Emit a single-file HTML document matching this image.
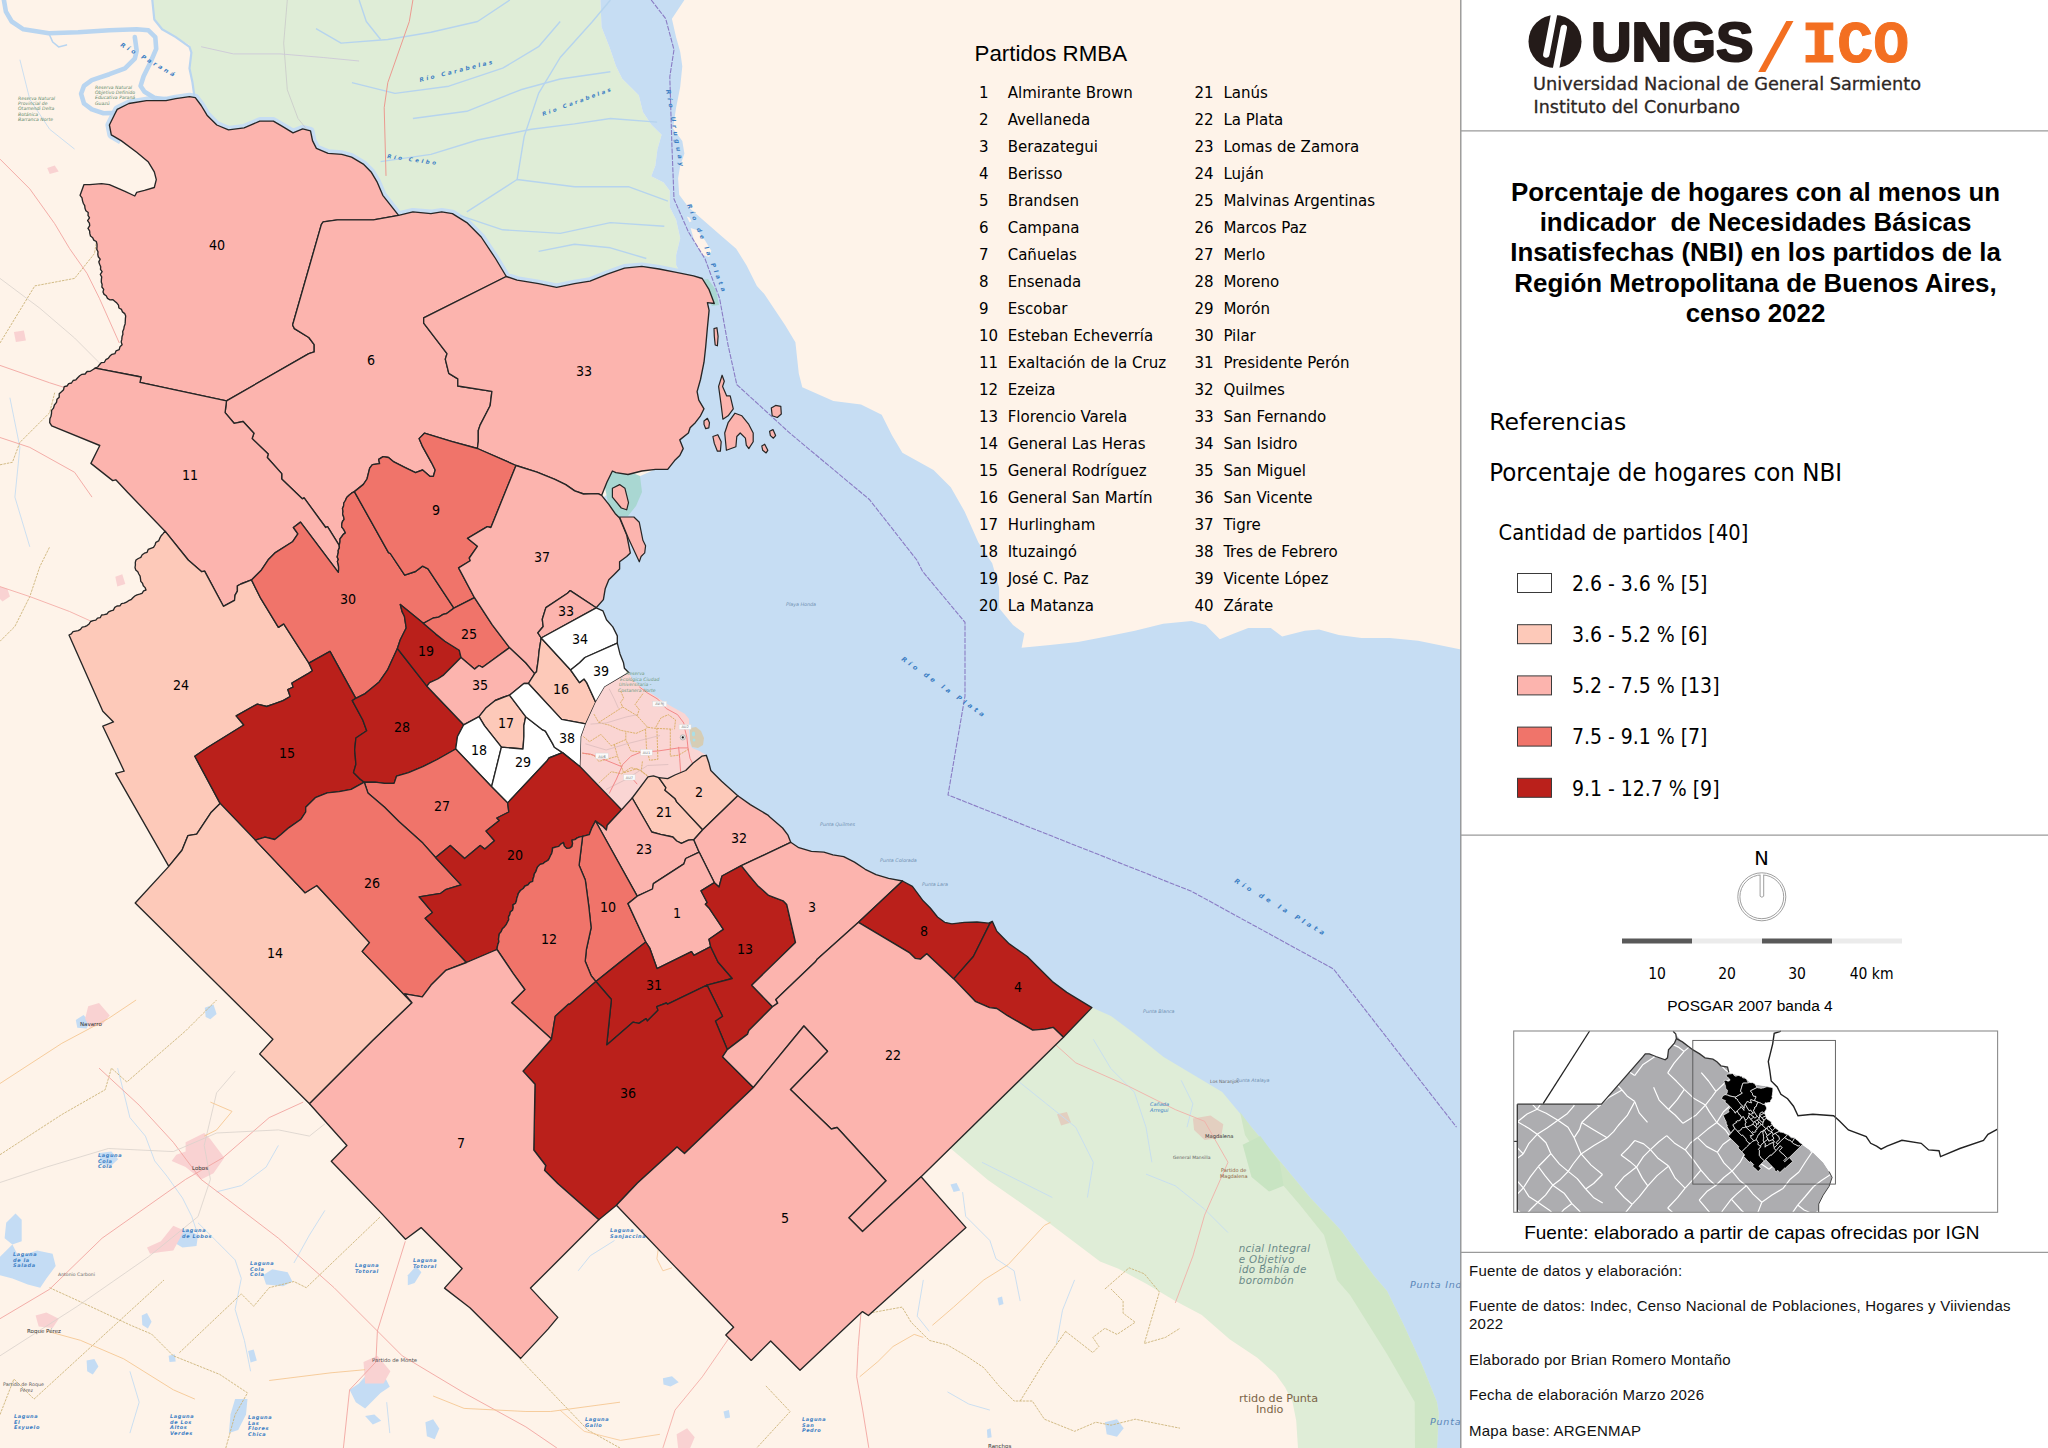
<!DOCTYPE html><html><head><meta charset="utf-8"><title>NBI RMBA 2022</title><style>html,body{margin:0;padding:0;background:#fff;}body{width:2048px;height:1448px;overflow:hidden;position:relative;}svg{position:absolute;left:0;top:0;display:block}.lab{font-family:"DejaVu Sans Condensed","DejaVu Sans",sans-serif;font-stretch:condensed;font-size:14.1px;fill:#000;text-anchor:middle}.lst{font-family:"DejaVu Sans Condensed","DejaVu Sans",sans-serif;font-stretch:condensed;font-size:16.7px;fill:#000}.ar{font-family:"Liberation Sans",Arial,sans-serif}.dv{font-family:"DejaVu Sans Condensed","DejaVu Sans",sans-serif;font-stretch:condensed}.dvn{font-family:"DejaVu Sans",sans-serif;font-stretch:normal}</style></head><body>
<svg width="2048" height="1448" viewBox="0 0 2048 1448">
<defs><clipPath id="mapclip"><rect x="0" y="0" width="1461" height="1448"/></clipPath></defs>
<g clip-path="url(#mapclip)">
<rect x="0" y="0" width="1461" height="1448" fill="#fef3e9"/>
<polygon points="152.3,0.0 600.4,0.0 601.5,26.9 609.7,47.7 616.0,66.3 622.2,78.8 638.8,95.3 642.9,111.9 651.2,124.4 661.6,134.7 657.4,149.2 655.3,165.8 651.2,176.2 663.6,182.4 669.8,190.7 669.8,207.3 676.1,219.7 680.2,238.3 676.1,254.9 676.1,265.3 690.0,290.0 500.0,290.0 398.0,232.0 205.0,118.0 194.3,95.7 192.4,82.0 189.5,68.4 191.4,50.8 189.5,44.9 175.8,37.1 162.1,29.3 154.3,19.5" fill="#dfedd7"/>
<polygon points="600.4,0.0 601.5,26.9 609.7,47.7 616.0,66.3 622.2,78.8 638.8,95.3 642.9,111.9 651.2,124.4 661.6,134.7 657.4,149.2 655.3,165.8 651.2,176.2 663.6,182.4 669.8,190.7 669.8,207.3 676.1,219.7 680.2,238.3 676.1,254.9 676.1,265.3 690.0,290.0 690.0,400.0 665.0,465.0 620.0,485.0 600.0,500.0 612.0,540.0 600.0,600.0 590.0,615.0 610.0,660.0 640.0,700.0 680.0,740.0 700.0,765.0 735.0,800.0 790.0,850.0 900.0,895.0 950.0,935.0 990.0,940.0 1085.0,1012.0 1300.0,1300.0 1420.0,1448.0 1461.0,1448.0 1461.0,649.4 1418.1,640.7 1389.8,637.9 1361.4,637.9 1338.8,635.0 1319.0,629.4 1304.8,630.8 1282.1,636.5 1270.8,628.0 1248.2,628.0 1234.0,633.6 1219.8,639.3 1205.7,625.1 1191.5,620.9 1163.2,623.7 1134.9,630.8 1106.6,636.5 1078.0,642.1 1050.0,645.0 1021.6,647.8 1024.4,633.6 1013.0,625.0 999.0,608.0 999.1,587.5 992.2,563.3 978.4,542.6 964.6,511.5 950.8,487.3 933.5,470.0 902.4,452.8 892.1,435.5 881.7,414.8 861.0,404.4 833.4,401.0 802.3,387.2 798.8,373.4 795.4,342.3 785.0,325.0 764.3,294.0 756.9,286.0 746.5,265.3 736.2,248.7 721.7,236.3 705.1,221.8 688.5,207.3 679.2,194.8 678.1,178.2 680.2,165.8 684.4,153.4 682.3,140.9 673.0,128.5 676.1,107.8 680.2,87.0 682.3,66.3 680.2,51.8 676.1,37.3 671.9,18.7 684.4,0.0" fill="#c6ddf3"/>
<polygon points="690.6,228.0 696.8,230.1 705.1,240.4 711.3,250.8 709.2,257.0 703.0,254.9 694.7,242.5" fill="#fef3e9"/>
<polygon points="686.8,216.6 689.5,217.6 691.6,221.3 689.5,222.2" fill="#fef3e9"/>
<polygon points="1063.4,1037.2 1091.9,1007.6 1110.9,1015.9 1134.3,1033.5 1163.6,1056.9 1192.9,1074.5 1222.2,1092.0 1251.5,1127.2 1280.8,1162.3 1310.0,1197.5 1340.6,1230.0 1374.0,1276.0 1387.0,1291.0 1403.5,1324.4 1422.0,1365.0 1436.9,1402.0 1438.7,1413.2 1437.0,1448.0 1298.0,1448.0 1296.2,1420.6 1292.5,1402.1 1285.1,1387.3 1275.8,1374.3 1257.3,1357.7 1229.6,1339.2 1201.8,1315.1 1174.0,1300.3 1146.3,1283.7 1118.5,1268.8 1100.0,1261.4 1046.4,1220.9 987.9,1179.9 949.8,1147.7" fill="#dfedd7"/>
<polygon points="1240.0,1112.0 1251.5,1127.2 1280.8,1162.3 1310.0,1197.5 1340.6,1230.0 1374.0,1276.0 1387.0,1291.0 1403.5,1324.4 1422.0,1365.0 1436.9,1402.0 1438.7,1413.2 1437.0,1448.0 1415.0,1448.0 1414.7,1402.0 1387.0,1354.0 1350.0,1295.0 1337.0,1280.0 1324.0,1235.0 1300.0,1205.0 1270.0,1170.0 1255.0,1150.0 1245.0,1135.0" fill="#cfe6c6"/>
<polygon points="1192.9,1118.4 1210.5,1115.5 1223.3,1124.3 1221.0,1137.7 1204.6,1140.1 1194.1,1130.1" fill="#e3cfc0"/>
<polygon points="1057.0,1114.3 1066.9,1112.0 1071.0,1122.5 1061.1,1125.4" fill="#e3cfc0"/>
<polygon points="1242.7,1144.8 1260.3,1136.0 1279.6,1162.3 1283.7,1185.8 1269.0,1191.6 1251.5,1177.0" fill="#c8e4c2"/>
<polyline points="1093.3,1039.3 1110.9,1068.6 1134.3,1092.1 1146.0,1127.2 1151.9,1162.3" fill="none" stroke="#c5dcf2" stroke-width="0.9"/>
<polyline points="1017.2,1080.3 1046.4,1103.8 1075.7,1127.2 1093.3,1162.3 1087.4,1197.5" fill="none" stroke="#c5dcf2" stroke-width="0.9"/>
<polyline points="1146.0,1174.1 1175.3,1185.8 1204.6,1209.2 1228.0,1232.6" fill="none" stroke="#c5dcf2" stroke-width="0.9"/>
<polyline points="982.0,1162.3 1017.2,1179.9 1052.3,1197.5" fill="none" stroke="#c5dcf2" stroke-width="0.9"/>
<polyline points="1181.2,1080.3 1192.9,1103.8 1187.0,1127.2" fill="none" stroke="#c5dcf2" stroke-width="0.9"/>
<polyline points="1046.4,1036.4 1075.7,1062.8 1128.5,1086.2 1175.3,1109.6 1204.6,1121.3 1228.0,1162.3 1204.6,1215.1 1192.9,1256.1 1175.3,1302.9" fill="none" stroke="#f0b0a8" stroke-width="0.9"/>
<polygon points="604,482 612,470 628,471 640,476 642,492 636,506 628,516 616,516 608,503" fill="#a9d7d2"/>
<polygon points="700,280 708,279 716,290 719,305 712,306 706,296" fill="#a9d7d2"/>
<polyline points="121.1,140.6 111.3,134.8 109.4,125.0 115.2,113.3 117.2,109.4 128.9,103.5 146.5,100.6 166.0,100.6 175.8,98.6 189.5,96.7 195.3,97.7 201.2,105.5 207.0,115.2 216.8,125.0 228.5,129.9 244.1,127.9 259.8,121.1 273.4,121.1 283.2,126.9 293.0,132.8 302.7,128.9 310.5,130.9 312.5,140.6 316.4,148.4 328.1,153.3 341.8,154.3 351.6,157.2 363.3,164.1 371.1,171.9 376.9,181.6 382.8,195.3 398.6,215.4 398.6,215.4 412.9,211.9 430.9,213.6 441.7,211.9 452.4,213.6 466.8,222.6 481.2,237.0 495.5,258.5 506.3,276.5 506.3,276.5 517.1,280.1 538.6,283.7 556.6,287.3 574.5,283.7 590.0,281.1 607.3,274.2 624.5,268.1 641.8,266.4 659.1,269.0 676.3,272.4 693.6,275.9" fill="none" stroke="#c6ddf3" stroke-width="8" stroke-linejoin="round"/>
<polyline points="3.9,0.0 5.9,11.7 11.7,21.5 23.4,29.3 48.8,33.2 78.1,32.2 109.4,30.3 136.7,29.3 148.4,30.3 155.3,37.1 156.2,48.8 150.4,62.5 143.6,76.2 140.6,85.9 144.5,91.8 154.3,97.7 164.1,99.6 175.8,98.6" fill="none" stroke="#b9d5f0" stroke-width="4.6" stroke-linejoin="round" stroke-linecap="round"/>
<polyline points="134.8,37.1 136.7,50.8 134.8,58.6 125.0,68.4 109.4,74.2 91.8,80.1 84.0,85.9 81.1,93.8 84.0,103.5 91.8,109.4 103.5,113.3 117.2,112.9" fill="none" stroke="#b9d5f0" stroke-width="4.6" stroke-linejoin="round" stroke-linecap="round"/>
<polyline points="152.3,0.0 154.3,19.5 162.1,29.3 175.8,37.1 189.5,46.9 191.4,52.7 189.5,68.4 192.4,82.0 194.3,95.7" fill="none" stroke="#b9d5f0" stroke-width="2.2" stroke-linejoin="round" stroke-linecap="round"/>
<polyline points="48.8,33.2 52.7,42.0 58.6,46.9 66.4,44.9" fill="none" stroke="#b9d5f0" stroke-width="1.6" stroke-linejoin="round" stroke-linecap="round"/>
<polyline points="380.6,161.6 430.9,154.4 477.6,140.0 531.4,129.3 574.5,123.9 610.4,118.5 657.1,122.1" fill="none" stroke="#b6d4ee" stroke-width="1.4" stroke-linejoin="round"/>
<polyline points="466.8,211.9 517.1,179.5 574.5,186.7 628.4,186.7 667.9,201.1" fill="none" stroke="#b6d4ee" stroke-width="1.4" stroke-linejoin="round"/>
<polyline points="517.1,179.5 524.2,136.4 538.6,93.4 560.2,57.5 592.5,21.5 610.4,0.0" fill="none" stroke="#b6d4ee" stroke-width="1.4" stroke-linejoin="round"/>
<polyline points="412.9,118.5 466.8,111.3 520.7,89.8 560.2,79.0 610.4,71.8" fill="none" stroke="#b6d4ee" stroke-width="1.4" stroke-linejoin="round"/>
<polyline points="351.9,82.6 395.0,93.4 448.8,86.2 502.7,68.2 538.6,46.7 560.2,21.5" fill="none" stroke="#b6d4ee" stroke-width="1.4" stroke-linejoin="round"/>
<polyline points="459.6,215.4 502.7,229.8 560.2,233.4 610.4,222.6 664.3,226.2" fill="none" stroke="#b6d4ee" stroke-width="1.4" stroke-linejoin="round"/>
<polyline points="538.6,251.4 574.5,244.2 610.4,247.8 646.3,258.5" fill="none" stroke="#b6d4ee" stroke-width="1.4" stroke-linejoin="round"/>
<polyline points="316.0,28.7 341.1,43.1 387.8,39.5 430.9,32.3 477.6,21.5 509.9,0.0" fill="none" stroke="#b6d4ee" stroke-width="1.4" stroke-linejoin="round"/>
<polyline points="359.1,0.0 366.3,21.5 380.6,39.5" fill="none" stroke="#b6d4ee" stroke-width="1.4" stroke-linejoin="round"/>
<polyline points="412.9,0.0 409.3,21.5 387.8,82.6 384.2,107.7 386.0,175.9" fill="none" stroke="#ec9a90" stroke-width="1"/>
<polyline points="287.3,0.0 283.7,43.1 287.3,89.8 298.0,118.5 312.4,136.4" fill="none" stroke="#c9c9c9" stroke-width="0.8"/>
<polyline points="201.1,46.7 233.4,53.9 280.1,53.9 323.2,57.5 359.1,61.0" fill="none" stroke="#cdc8d8" stroke-width="0.9"/>
<polygon points="6.2,1222.8 15.5,1213.5 21.7,1219.7 21.7,1241.3 12.4,1244.4 4.6,1238.2" fill="#c4dcf4"/>
<polygon points="0.0,1256.8 12.4,1244.4 18.6,1256.8 37.1,1250.6 52.6,1253.7 55.7,1266.1 46.4,1278.4 40.2,1287.7 27.8,1284.6 12.4,1278.4 0.0,1275.3" fill="#c4dcf4"/>
<polygon points="174.8,1235.1 185.6,1228.9 198.0,1235.1 196.5,1246.0 182.5,1247.5 174.8,1242.9" fill="#c4dcf4"/>
<polygon points="263.0,1275.3 272.3,1269.2 287.7,1272.3 292.4,1281.5 283.1,1286.2 266.1,1284.6" fill="#c4dcf4"/>
<polygon points="369.7,1371.3 383.6,1374.4 389.8,1386.7 380.5,1392.9 371.3,1402.2 365.1,1408.4 355.8,1402.2 349.6,1389.8 358.9,1383.6" fill="#c4dcf4"/>
<polygon points="235.1,1399.1 247.5,1399.1 246.0,1414.6 238.2,1430.0 228.9,1433.1 230.5,1414.6" fill="#c4dcf4"/>
<polygon points="86.6,1360.4 94.4,1358.9 98.4,1366.6 92.8,1374.4 87.2,1371.3" fill="#c4dcf4"/>
<polygon points="365.1,1416.1 374.4,1414.6 381.2,1420.8 372.8,1424.5" fill="#c4dcf4"/>
<polygon points="425.4,1422.3 433.1,1419.2 439.3,1428.5 434.7,1439.3 426.9,1436.2" fill="#c4dcf4"/>
<polygon points="141.7,1315.6 147.0,1313.1 151.6,1321.8 147.9,1328.6 142.3,1324.9" fill="#c4dcf4"/>
<polygon points="248.1,1351.1 253.7,1349.6 256.8,1360.4 250.6,1362.6" fill="#c4dcf4"/>
<polygon points="407.8,1275.3 416.1,1266.1 421.4,1272.3 414.6,1283.1 407.8,1285.2" fill="#c4dcf4"/>
<polygon points="99.6,1153.1 111.4,1151.6 118.2,1159.3 111.4,1165.5 100.5,1164.0" fill="#c4dcf4"/>
<polygon points="204.8,1007.7 213.5,1004.6 216.6,1013.9 210.4,1019.2 205.7,1017.0" fill="#c4dcf4"/>
<polygon points="75.8,1020.1 83.5,1014.9 89.7,1021.7 86.6,1028.5 77.3,1027.8" fill="#c4dcf4"/>
<polygon points="168.6,1355.8 174.8,1354.2 175.7,1361.4 169.5,1362.0" fill="#c4dcf4"/>
<polygon points="662.9,1378.3 672.0,1376.2 678.7,1382.2 670.5,1386.5 663.5,1384.6" fill="#c4dcf4"/>
<polygon points="1104.9,1422.2 1117.0,1419.2 1123.7,1428.2 1117.0,1436.7 1106.7,1434.3" fill="#c4dcf4"/>
<polygon points="723.5,1411.6 728.9,1410.1 730.1,1417.6 725.0,1418.6" fill="#c4dcf4"/>
<polygon points="986.9,1429.8 990.5,1428.2 991.7,1437.3 987.5,1437.9" fill="#c4dcf4"/>
<polygon points="950.5,1184.5 956.6,1183.0 960.2,1190.6 953.6,1192.1" fill="#c4dcf4"/>
<polygon points="997.5,1298.1 1002.0,1296.6 1003.5,1304.1 999.0,1305.6" fill="#c4dcf4"/>
<polygon points="185.6,1142.3 204.2,1133.0 210.4,1139.2 224.3,1157.8 213.5,1173.3 201.1,1179.4 185.6,1167.1 171.7,1160.9 176.3,1154.7 185.6,1151.6" fill="#f9d2d2"/>
<polygon points="88.2,1006.2 99.0,1003.1 109.8,1015.5 102.1,1024.8 89.7,1027.8 85.1,1018.6" fill="#f9d2d2"/>
<polygon points="35.6,1315.6 46.4,1312.5 58.8,1318.7 52.6,1327.9 38.7,1326.4" fill="#f9d2d2"/>
<polygon points="363.5,1362.0 377.4,1355.8 390.4,1371.3 383.6,1383.6 365.1,1383.6" fill="#f9d2d2"/>
<polygon points="147.0,1247.5 160.9,1241.3 173.3,1225.8 184.1,1230.5 173.3,1250.6 160.9,1252.1 150.0,1253.7" fill="#f9d2d2"/>
<polygon points="676.6,1434.3 687.1,1428.2 694.7,1437.3 690.2,1447.9 678.1,1447.9" fill="#f9d2d2"/>
<polygon points="47.2,168.0 54.7,165.5 58.7,171.5 49.7,174.0" fill="#f9d2d2"/>
<polygon points="13.9,332.1 23.9,330.6 25.9,340.5 15.9,342.0" fill="#f9d2d2"/>
<polygon points="115.3,576.7 122.3,574.2 125.3,584.1 117.3,586.6" fill="#f9d2d2"/>
<polygon points="0.0,586.6 7.5,589.1 9.9,596.6 2.5,601.5 0.0,599.0" fill="#f9d2d2"/>
<polyline points="117.6,1068.1 123.8,1092.8 129.9,1117.6 145.4,1136.1 154.7,1160.9 167.1,1176.3 182.5,1198.0 191.8,1216.6 198.0,1235.1" fill="none" stroke="#c5dcf2" stroke-width="0.9" stroke-linejoin="round"/>
<polyline points="216.6,1191.8 241.3,1185.6 266.1,1167.1 278.4,1145.4" fill="none" stroke="#c5dcf2" stroke-width="0.9" stroke-linejoin="round"/>
<polyline points="198.0,1222.8 216.6,1241.3 235.1,1259.9 241.3,1278.4 235.1,1309.4 244.4,1340.3 250.6,1371.3" fill="none" stroke="#c5dcf2" stroke-width="0.9" stroke-linejoin="round"/>
<polyline points="293.9,1263.0 309.4,1235.1 324.9,1210.4" fill="none" stroke="#c5dcf2" stroke-width="0.9" stroke-linejoin="round"/>
<polyline points="129.9,1371.3 139.2,1402.2 129.9,1433.1" fill="none" stroke="#c5dcf2" stroke-width="0.9" stroke-linejoin="round"/>
<polyline points="386.7,1402.2 389.8,1433.1" fill="none" stroke="#c5dcf2" stroke-width="0.9" stroke-linejoin="round"/>
<polyline points="962.6,1192.1 965.7,1216.3 989.9,1240.5 995.9,1258.7 1014.1,1270.8 1020.2,1301.1" fill="none" stroke="#c5dcf2" stroke-width="0.9" stroke-linejoin="round"/>
<polyline points="923.3,1279.9 917.2,1316.2 929.3,1331.4" fill="none" stroke="#c5dcf2" stroke-width="0.9" stroke-linejoin="round"/>
<polyline points="1074.6,1279.9 1062.5,1310.2 1056.5,1343.5" fill="none" stroke="#c5dcf2" stroke-width="0.9" stroke-linejoin="round"/>
<polyline points="947.5,1391.9 968.7,1404.0 989.9,1410.1" fill="none" stroke="#c5dcf2" stroke-width="0.9" stroke-linejoin="round"/>
<polyline points="614.5,1240.5 590.3,1255.7 578.2,1270.8" fill="none" stroke="#c5dcf2" stroke-width="0.9" stroke-linejoin="round"/>
<polyline points="19.9,59.7 29.8,99.4 49.7,129.3 74.6,149.1" fill="none" stroke="#c5dcf2" stroke-width="0.9" stroke-linejoin="round"/>
<polyline points="9.9,397.7 19.9,447.4 14.9,497.1 29.8,546.8" fill="none" stroke="#c5dcf2" stroke-width="0.9" stroke-linejoin="round"/>
<polyline points="0.0,1154.7 61.9,1114.5 105.2,1089.7 111.4,1068.1 126.8,1082.0 185.6,1030.9 216.6,1000.0" fill="none" stroke="#cdb47a" stroke-width="0.9" stroke-dasharray="2.5,1"/>
<polyline points="49.5,1287.7 83.5,1303.2 129.9,1324.9 151.6,1334.1 173.3,1355.8 219.7,1374.4 247.5,1392.9 235.1,1414.6 225.8,1448.0" fill="none" stroke="#cdb47a" stroke-width="0.9" stroke-dasharray="2.5,1"/>
<polyline points="179.4,1352.7 241.3,1293.9 253.7,1306.3 269.2,1287.7 293.9,1281.5 306.3,1287.7 380.5,1216.6" fill="none" stroke="#cdb47a" stroke-width="0.9" stroke-dasharray="2.5,1"/>
<polyline points="519.8,1358.9 587.8,1430.0 620.0,1448.0" fill="none" stroke="#cdb47a" stroke-width="0.9" stroke-dasharray="2.5,1"/>
<polyline points="0.0,1414.6 13.9,1379.0 34.0,1399.1 108.3,1331.0 164.0,1280.0" fill="none" stroke="#cdb47a" stroke-width="0.9" stroke-dasharray="2.5,1"/>
<polyline points="868.8,1313.2 902.1,1307.1 911.2,1322.3 929.3,1340.4 947.5,1345.0 965.7,1355.6 983.8,1367.7 999.0,1385.9 1014.1,1401.0 1032.3,1401.0 1044.4,1419.2 1074.6,1431.3 1095.8,1422.2 1111.0,1425.2 1135.2,1419.2 1180.0,1428.2" fill="none" stroke="#cdb47a" stroke-width="0.9" stroke-dasharray="2.5,1"/>
<polyline points="765.9,1385.9 790.1,1411.6 756.8,1447.9" fill="none" stroke="#cdb47a" stroke-width="0.9" stroke-dasharray="2.5,1"/>
<polyline points="1104.9,1289.0 1129.1,1267.8 1144.3,1273.8 1159.4,1292.0 1144.3,1343.5 1165.5,1337.4 1180.0,1328.3" fill="none" stroke="#cdb47a" stroke-width="0.9" stroke-dasharray="2.5,1"/>
<polyline points="1065.6,1331.4 1092.8,1352.6 1098.9,1346.5 1092.8,1337.4 1104.9,1328.3 1117.0,1334.4 1135.2,1322.3 1123.1,1313.2 1123.1,1301.1 1111.0,1289.0" fill="none" stroke="#cdb47a" stroke-width="0.9" stroke-dasharray="2.5,1"/>
<polyline points="1065.6,1331.4 1044.4,1361.6 1020.2,1401.0" fill="none" stroke="#cdb47a" stroke-width="0.9" stroke-dasharray="2.5,1"/>
<polyline points="0.0,343.0 34.8,285.9 74.6,278.4 94.5,253.5 96.9,238.6" fill="none" stroke="#cdb47a" stroke-width="0.9" stroke-dasharray="2.5,1"/>
<polyline points="0.0,464.8 12.4,462.3 19.9,442.4 37.3,425.0 49.7,412.6 54.7,392.7" fill="none" stroke="#cdb47a" stroke-width="0.9" stroke-dasharray="2.5,1"/>
<polyline points="0.0,641.3 14.9,626.4 29.8,596.6 39.8,566.7 49.7,546.8" fill="none" stroke="#cdb47a" stroke-width="0.9" stroke-dasharray="2.5,1"/>
<polyline points="0.0,1318.7 49.5,1289.3 102.1,1238.2 185.6,1179.4 222.8,1157.8 269.2,1117.6 303.2,1102.1" fill="none" stroke="#f2a5a0" stroke-width="0.9" stroke-linejoin="round"/>
<polyline points="99.0,1068.1 139.2,1105.2 173.3,1142.3 201.1,1179.4 225.8,1198.0 278.4,1238.2 334.1,1287.7 371.3,1324.9 402.2,1355.8 464.1,1392.9 525.9,1426.9 556.9,1448.0" fill="none" stroke="#f2a5a0" stroke-width="0.9" stroke-linejoin="round"/>
<polyline points="405.3,1241.3 377.4,1331.0 375.9,1362.0 349.6,1389.8 343.4,1448.0" fill="none" stroke="#f2a5a0" stroke-width="0.9" stroke-linejoin="round"/>
<polyline points="0.0,1182.5 46.4,1167.1 108.3,1148.5 173.3,1151.6 216.6,1133.0 278.4,1129.9 309.4,1136.1 324.9,1123.8" fill="none" stroke="#d9d2cc" stroke-width="0.8" stroke-linejoin="round"/>
<polyline points="0.0,1355.8 77.3,1306.3 148.5,1256.8 198.0,1216.6 210.4,1179.4 204.2,1145.4 216.6,1092.8 235.1,1071.2" fill="none" stroke="#d9d2cc" stroke-width="0.8" stroke-linejoin="round"/>
<polyline points="0.0,1083.5 61.9,1043.3 108.3,1018.6 136.1,1000.0" fill="none" stroke="#f5c793" stroke-width="0.9" stroke-linejoin="round"/>
<polyline points="269.2,1380.5 331.0,1372.8 365.1,1369.7" fill="none" stroke="#f5c793" stroke-width="0.9" stroke-linejoin="round"/>
<polyline points="433.1,1396.0 464.1,1408.4 525.9,1411.5 550.7,1411.5 620.0,1402.2" fill="none" stroke="#f5c793" stroke-width="0.9" stroke-linejoin="round"/>
<polyline points="46.4,1331.0 80.4,1340.3 123.8,1358.9 173.3,1389.8 194.9,1399.1" fill="none" stroke="#f5c793" stroke-width="0.9" stroke-linejoin="round"/>
<polyline points="210.4,1102.1 232.0,1111.4 216.6,1129.9 204.2,1136.1" fill="none" stroke="#f5c793" stroke-width="0.9" stroke-linejoin="round"/>
<polyline points="861.2,1310.2 858.2,1346.5 856.7,1376.8 862.7,1410.1 868.8,1447.9" fill="none" stroke="#f2a5a0" stroke-width="0.9" stroke-linejoin="round"/>
<polyline points="932.4,1325.3 953.6,1307.1 983.8,1279.9 1008.0,1264.8 1044.4,1225.4 1050.4,1222.4" fill="none" stroke="#f5c793" stroke-width="0.9" stroke-linejoin="round"/>
<polyline points="859.7,1376.8 877.9,1361.6 893.0,1346.5 914.2,1334.4 923.3,1337.4" fill="none" stroke="#f5c793" stroke-width="0.9" stroke-linejoin="round"/>
<polyline points="662.9,1447.9 675.0,1410.1 702.3,1376.8 729.5,1337.4 747.7,1322.3" fill="none" stroke="#f2a5a0" stroke-width="0.8" stroke-linejoin="round"/>
<polyline points="560.0,1410.1 584.2,1431.3 620.5,1440.4 659.9,1434.3" fill="none" stroke="#f5c793" stroke-width="0.8" stroke-linejoin="round"/>
<polyline points="659.9,1237.5 656.9,1258.7 662.9,1270.8 672.0,1267.8" fill="none" stroke="#f5c793" stroke-width="0.8" stroke-linejoin="round"/>
<polyline points="0.0,159.1 29.8,188.9 54.7,223.7 69.6,248.6 87.0,273.4 99.4,298.3 119.3,343.0" fill="none" stroke="#f2a5a0" stroke-width="0.9" stroke-linejoin="round"/>
<polyline points="0.0,365.4 49.7,382.8 104.4,400.2 119.3,417.6 131.7,427.5" fill="none" stroke="#f2a5a0" stroke-width="0.9" stroke-linejoin="round"/>
<polyline points="0.0,437.5 29.8,447.4 74.6,472.3 92.0,497.1" fill="none" stroke="#f2a5a0" stroke-width="0.9" stroke-linejoin="round"/>
<polyline points="0.0,278.4 39.8,308.2 74.6,338.0 124.3,387.8" fill="none" stroke="#d9d2cc" stroke-width="0.8" stroke-linejoin="round"/>
<polyline points="0.0,586.6 29.8,596.6 69.6,611.5 124.3,636.3" fill="none" stroke="#f2a5a0" stroke-width="0.8" stroke-linejoin="round"/>
<polyline points="651.2,0.0 665.7,18.7 674.0,49.7 669.8,76.7 671.9,145.0 674.0,199.0 688.5,232.1 705.1,259.0 719.6,298.4 728.0,344.8 736.8,384.6 789.9,433.2 869.4,499.5 916.8,560.0 922.5,571.3 965.0,622.3 965.0,696.0 948.0,795.0 1191.5,891.3 1333.5,969.0 1456.5,1127.2" fill="none" stroke="#8a7cc4" stroke-width="1.1" stroke-dasharray="5,1.2"/>
<text x="901" y="660" font-family="DejaVu Sans, sans-serif" font-size="6.5" font-style="italic" font-weight="bold" fill="#3d7fc4" letter-spacing="3.3" transform="rotate(35 901 660)">Río de la Plata</text>
<text x="1234" y="882" font-family="DejaVu Sans, sans-serif" font-size="6.5" font-style="italic" font-weight="bold" fill="#3d7fc4" letter-spacing="3.6" transform="rotate(31 1234 882)">Río de la Plata</text>
<text x="666" y="90" font-family="DejaVu Sans, sans-serif" font-size="6.2" font-style="italic" font-weight="bold" fill="#3d7fc4" letter-spacing="3.5" transform="rotate(80 666 90)">Río Uruguay</text>
<text x="687" y="205" font-family="DejaVu Sans, sans-serif" font-size="6.0" font-style="italic" font-weight="bold" fill="#3d7fc4" letter-spacing="3.2" transform="rotate(68 687 205)">Río de la Plata</text>
<text x="420" y="82" font-family="DejaVu Sans, sans-serif" font-size="5.8" font-style="italic" font-weight="bold" fill="#3d7fc4" letter-spacing="2.5" transform="rotate(-14 420 82)">Río Carabelas</text>
<text x="543" y="116" font-family="DejaVu Sans, sans-serif" font-size="5.5" font-style="italic" font-weight="bold" fill="#3d7fc4" letter-spacing="2.5" transform="rotate(-20 543 116)">Río Carabelas</text>
<text x="387" y="158" font-family="DejaVu Sans, sans-serif" font-size="5.5" font-style="italic" font-weight="bold" fill="#3d7fc4" letter-spacing="2.5" transform="rotate(8 387 158)">Río Ceibo</text>
<text x="120" y="46" font-family="DejaVu Sans, sans-serif" font-size="6.0" font-style="italic" font-weight="bold" fill="#3d7fc4" letter-spacing="2.8" transform="rotate(30 120 46)">Río Paraná</text>
<text x="1410" y="1288" font-family="DejaVu Sans, sans-serif" font-size="9.5" font-style="italic" font-weight="normal" fill="#5a86b8" letter-spacing="0.8">Punta Indio</text>
<text x="1430" y="1425" font-family="DejaVu Sans, sans-serif" font-size="9.5" font-style="italic" font-weight="normal" fill="#5a86b8" letter-spacing="0.8">Punta</text>
<text x="820" y="826" font-family="DejaVu Sans, sans-serif" font-size="4.8" font-style="italic" font-weight="normal" fill="#6f8fb0" letter-spacing="0">Punta Quilmes</text>
<text x="880" y="862" font-family="DejaVu Sans, sans-serif" font-size="4.8" font-style="italic" font-weight="normal" fill="#6f8fb0" letter-spacing="0">Punta Colorada</text>
<text x="922" y="886" font-family="DejaVu Sans, sans-serif" font-size="4.8" font-style="italic" font-weight="normal" fill="#6f8fb0" letter-spacing="0">Punta Lara</text>
<text x="1143" y="1013" font-family="DejaVu Sans, sans-serif" font-size="4.8" font-style="italic" font-weight="normal" fill="#6f8fb0" letter-spacing="0">Punta Blanca</text>
<text x="1236" y="1082" font-family="DejaVu Sans, sans-serif" font-size="4.8" font-style="italic" font-weight="normal" fill="#6f8fb0" letter-spacing="0">Punta Atalaya</text>
<text x="786" y="606" font-family="DejaVu Sans, sans-serif" font-size="4.8" font-style="italic" font-weight="normal" fill="#6f8fb0" letter-spacing="0">Playa Honda</text>
<text x="1238.8" y="1252.2" font-family="DejaVu Sans, sans-serif" font-size="10.3" font-style="italic" font-weight="normal" fill="#6b8a88" letter-spacing="0.3">ncial Integral</text>
<text x="1238.8" y="1262.8" font-family="DejaVu Sans, sans-serif" font-size="10.3" font-style="italic" font-weight="normal" fill="#6b8a88" letter-spacing="0.3">e Objetivo</text>
<text x="1238.8" y="1273.4" font-family="DejaVu Sans, sans-serif" font-size="10.3" font-style="italic" font-weight="normal" fill="#6b8a88" letter-spacing="0.3">ido Bahía de</text>
<text x="1238.8" y="1284.0" font-family="DejaVu Sans, sans-serif" font-size="10.3" font-style="italic" font-weight="normal" fill="#6b8a88" letter-spacing="0.3">borombón</text>
<text x="1239" y="1402" font-family="DejaVu Sans, sans-serif" font-size="11.2" font-style="normal" font-weight="normal" fill="#7b6446" letter-spacing="0">rtido de Punta</text>
<text x="1256" y="1412.5" font-family="DejaVu Sans, sans-serif" font-size="11.2" font-style="normal" font-weight="normal" fill="#7b6446" letter-spacing="0">Indio</text>
<text x="1205" y="1138" font-family="DejaVu Sans, sans-serif" font-size="5.2" font-style="normal" font-weight="normal" fill="#333" letter-spacing="0">Magdalena</text>
<text x="1150" y="1106" font-family="DejaVu Sans, sans-serif" font-size="5" font-style="italic" font-weight="normal" fill="#3d7fc4" letter-spacing="0">Cañada</text>
<text x="1150" y="1112" font-family="DejaVu Sans, sans-serif" font-size="5" font-style="italic" font-weight="normal" fill="#3d7fc4" letter-spacing="0">Arregui</text>
<text x="1221" y="1172" font-family="DejaVu Sans, sans-serif" font-size="5" font-style="normal" font-weight="normal" fill="#8a5a3a" letter-spacing="0">Partido de</text>
<text x="1220" y="1178" font-family="DejaVu Sans, sans-serif" font-size="5" font-style="normal" font-weight="normal" fill="#8a5a3a" letter-spacing="0">Magdalena</text>
<text x="1173" y="1159" font-family="DejaVu Sans, sans-serif" font-size="4.5" font-style="normal" font-weight="normal" fill="#666" letter-spacing="0">General Mansilla</text>
<text x="1210" y="1083" font-family="DejaVu Sans, sans-serif" font-size="4.5" font-style="normal" font-weight="normal" fill="#666" letter-spacing="0">Los Naranjos</text>
<text x="80" y="1026" font-family="DejaVu Sans, sans-serif" font-size="5.5" font-style="normal" font-weight="normal" fill="#333" letter-spacing="0">Navarro</text>
<text x="192" y="1170" font-family="DejaVu Sans, sans-serif" font-size="5.5" font-style="normal" font-weight="normal" fill="#333" letter-spacing="0">Lobos</text>
<text x="27" y="1333" font-family="DejaVu Sans, sans-serif" font-size="5.5" font-style="normal" font-weight="normal" fill="#333" letter-spacing="0">Roque Pérez</text>
<text x="988" y="1448" font-family="DejaVu Sans, sans-serif" font-size="5.5" font-style="normal" font-weight="normal" fill="#333" letter-spacing="0">Ranchos</text>
<text x="372" y="1362" font-family="DejaVu Sans, sans-serif" font-size="5.3" font-style="normal" font-weight="normal" fill="#555" letter-spacing="0">Partido de Monte</text>
<text x="3" y="1386" font-family="DejaVu Sans, sans-serif" font-size="4.8" font-style="normal" font-weight="normal" fill="#555" letter-spacing="0">Partido de Roque</text>
<text x="20" y="1392" font-family="DejaVu Sans, sans-serif" font-size="4.8" font-style="normal" font-weight="normal" fill="#555" letter-spacing="0">Pérez</text>
<text x="58" y="1276" font-family="DejaVu Sans, sans-serif" font-size="4.6" font-style="normal" font-weight="normal" fill="#666" letter-spacing="0">Antonio Carboni</text>
<text x="666" y="1214" font-family="DejaVu Sans, sans-serif" font-size="4.6" font-style="normal" font-weight="normal" fill="#666" letter-spacing="0">Loma Verde</text>
<text x="98" y="1157.0" font-family="DejaVu Sans, sans-serif" font-size="5" font-style="italic" font-weight="bold" fill="#3d7fc4" letter-spacing="0.6">Laguna</text>
<text x="98" y="1162.5" font-family="DejaVu Sans, sans-serif" font-size="5" font-style="italic" font-weight="bold" fill="#3d7fc4" letter-spacing="0.6">Cola</text>
<text x="98" y="1168.0" font-family="DejaVu Sans, sans-serif" font-size="5" font-style="italic" font-weight="bold" fill="#3d7fc4" letter-spacing="0.6">Cola</text>
<text x="182" y="1232.0" font-family="DejaVu Sans, sans-serif" font-size="5" font-style="italic" font-weight="bold" fill="#3d7fc4" letter-spacing="0.6">Laguna</text>
<text x="182" y="1237.5" font-family="DejaVu Sans, sans-serif" font-size="5" font-style="italic" font-weight="bold" fill="#3d7fc4" letter-spacing="0.6">de Lobos</text>
<text x="250" y="1265.0" font-family="DejaVu Sans, sans-serif" font-size="5" font-style="italic" font-weight="bold" fill="#3d7fc4" letter-spacing="0.6">Laguna</text>
<text x="250" y="1270.5" font-family="DejaVu Sans, sans-serif" font-size="5" font-style="italic" font-weight="bold" fill="#3d7fc4" letter-spacing="0.6">Cola</text>
<text x="250" y="1276.0" font-family="DejaVu Sans, sans-serif" font-size="5" font-style="italic" font-weight="bold" fill="#3d7fc4" letter-spacing="0.6">Cola</text>
<text x="355" y="1267.0" font-family="DejaVu Sans, sans-serif" font-size="5" font-style="italic" font-weight="bold" fill="#3d7fc4" letter-spacing="0.6">Laguna</text>
<text x="355" y="1272.5" font-family="DejaVu Sans, sans-serif" font-size="5" font-style="italic" font-weight="bold" fill="#3d7fc4" letter-spacing="0.6">Totoral</text>
<text x="413" y="1262.0" font-family="DejaVu Sans, sans-serif" font-size="5" font-style="italic" font-weight="bold" fill="#3d7fc4" letter-spacing="0.6">Laguna</text>
<text x="413" y="1267.5" font-family="DejaVu Sans, sans-serif" font-size="5" font-style="italic" font-weight="bold" fill="#3d7fc4" letter-spacing="0.6">Totoral</text>
<text x="610" y="1232.0" font-family="DejaVu Sans, sans-serif" font-size="5" font-style="italic" font-weight="bold" fill="#3d7fc4" letter-spacing="0.6">Laguna</text>
<text x="610" y="1237.5" font-family="DejaVu Sans, sans-serif" font-size="5" font-style="italic" font-weight="bold" fill="#3d7fc4" letter-spacing="0.6">Sanjaccina</text>
<text x="248" y="1419.0" font-family="DejaVu Sans, sans-serif" font-size="5" font-style="italic" font-weight="bold" fill="#3d7fc4" letter-spacing="0.6">Laguna</text>
<text x="248" y="1424.5" font-family="DejaVu Sans, sans-serif" font-size="5" font-style="italic" font-weight="bold" fill="#3d7fc4" letter-spacing="0.6">Las</text>
<text x="248" y="1430.0" font-family="DejaVu Sans, sans-serif" font-size="5" font-style="italic" font-weight="bold" fill="#3d7fc4" letter-spacing="0.6">Flores</text>
<text x="248" y="1435.5" font-family="DejaVu Sans, sans-serif" font-size="5" font-style="italic" font-weight="bold" fill="#3d7fc4" letter-spacing="0.6">Chica</text>
<text x="170" y="1418.0" font-family="DejaVu Sans, sans-serif" font-size="5" font-style="italic" font-weight="bold" fill="#3d7fc4" letter-spacing="0.6">Laguna</text>
<text x="170" y="1423.5" font-family="DejaVu Sans, sans-serif" font-size="5" font-style="italic" font-weight="bold" fill="#3d7fc4" letter-spacing="0.6">de Los</text>
<text x="170" y="1429.0" font-family="DejaVu Sans, sans-serif" font-size="5" font-style="italic" font-weight="bold" fill="#3d7fc4" letter-spacing="0.6">Altos</text>
<text x="170" y="1434.5" font-family="DejaVu Sans, sans-serif" font-size="5" font-style="italic" font-weight="bold" fill="#3d7fc4" letter-spacing="0.6">Verdes</text>
<text x="14" y="1418.0" font-family="DejaVu Sans, sans-serif" font-size="5" font-style="italic" font-weight="bold" fill="#3d7fc4" letter-spacing="0.6">Laguna</text>
<text x="14" y="1423.5" font-family="DejaVu Sans, sans-serif" font-size="5" font-style="italic" font-weight="bold" fill="#3d7fc4" letter-spacing="0.6">El</text>
<text x="14" y="1429.0" font-family="DejaVu Sans, sans-serif" font-size="5" font-style="italic" font-weight="bold" fill="#3d7fc4" letter-spacing="0.6">Esyuelo</text>
<text x="802" y="1421.0" font-family="DejaVu Sans, sans-serif" font-size="5" font-style="italic" font-weight="bold" fill="#3d7fc4" letter-spacing="0.6">Laguna</text>
<text x="802" y="1426.5" font-family="DejaVu Sans, sans-serif" font-size="5" font-style="italic" font-weight="bold" fill="#3d7fc4" letter-spacing="0.6">San</text>
<text x="802" y="1432.0" font-family="DejaVu Sans, sans-serif" font-size="5" font-style="italic" font-weight="bold" fill="#3d7fc4" letter-spacing="0.6">Pedro</text>
<text x="585" y="1421.0" font-family="DejaVu Sans, sans-serif" font-size="5" font-style="italic" font-weight="bold" fill="#3d7fc4" letter-spacing="0.6">Laguna</text>
<text x="585" y="1426.5" font-family="DejaVu Sans, sans-serif" font-size="5" font-style="italic" font-weight="bold" fill="#3d7fc4" letter-spacing="0.6">Gallo</text>
<text x="13" y="1256.0" font-family="DejaVu Sans, sans-serif" font-size="5" font-style="italic" font-weight="bold" fill="#3d7fc4" letter-spacing="0.6">Laguna</text>
<text x="13" y="1261.5" font-family="DejaVu Sans, sans-serif" font-size="5" font-style="italic" font-weight="bold" fill="#3d7fc4" letter-spacing="0.6">de la</text>
<text x="13" y="1267.0" font-family="DejaVu Sans, sans-serif" font-size="5" font-style="italic" font-weight="bold" fill="#3d7fc4" letter-spacing="0.6">Salada</text>
<text x="18" y="100.0" font-family="DejaVu Sans, sans-serif" font-size="4.6" font-style="italic" font-weight="normal" fill="#5e8a6b" letter-spacing="0">Reserva Natural</text>
<text x="18" y="105.2" font-family="DejaVu Sans, sans-serif" font-size="4.6" font-style="italic" font-weight="normal" fill="#5e8a6b" letter-spacing="0">Provincial de</text>
<text x="18" y="110.4" font-family="DejaVu Sans, sans-serif" font-size="4.6" font-style="italic" font-weight="normal" fill="#5e8a6b" letter-spacing="0">Otamendi Delta</text>
<text x="18" y="115.6" font-family="DejaVu Sans, sans-serif" font-size="4.6" font-style="italic" font-weight="normal" fill="#5e8a6b" letter-spacing="0">Botánica</text>
<text x="18" y="120.8" font-family="DejaVu Sans, sans-serif" font-size="4.6" font-style="italic" font-weight="normal" fill="#5e8a6b" letter-spacing="0">Barranca Norte</text>
<text x="95" y="89.0" font-family="DejaVu Sans, sans-serif" font-size="4.6" font-style="italic" font-weight="normal" fill="#5e8a6b" letter-spacing="0">Reserva Natural</text>
<text x="95" y="94.2" font-family="DejaVu Sans, sans-serif" font-size="4.6" font-style="italic" font-weight="normal" fill="#5e8a6b" letter-spacing="0">Objetivo Definido</text>
<text x="95" y="99.4" font-family="DejaVu Sans, sans-serif" font-size="4.6" font-style="italic" font-weight="normal" fill="#5e8a6b" letter-spacing="0">Educativa Paraná</text>
<text x="95" y="104.6" font-family="DejaVu Sans, sans-serif" font-size="4.6" font-style="italic" font-weight="normal" fill="#5e8a6b" letter-spacing="0">Guazú</text>
<polygon points="398.6,215.4 382.8,195.3 376.9,181.6 371.1,171.9 363.3,164.1 351.6,157.2 341.8,154.3 328.1,153.3 316.4,148.4 312.5,140.6 310.5,130.9 302.7,128.9 293.0,132.8 283.2,126.9 273.4,121.1 259.8,121.1 244.1,127.9 228.5,129.9 216.8,125.0 207.0,115.2 201.2,105.5 195.3,97.7 189.5,96.7 175.8,98.6 166.0,100.6 146.5,100.6 128.9,103.5 117.2,109.4 115.2,113.3 109.4,125.0 111.3,134.8 121.1,140.6 136.7,152.3 148.4,162.1 154.3,171.9 156.3,179.7 154.3,187.5 144.5,190.4 136.7,192.4 134.8,196.0 125.0,191.4 109.4,184.6 101.6,183.6 89.8,184.6 84.0,184.6 80.1,195.3 82.0,197.9 82.6,201.1 83.4,203.5 84.7,205.7 85.0,208.3 85.9,210.7 88.2,212.6 88.0,215.4 89.5,217.8 87.6,220.6 89.4,223.1 89.7,225.6 88.0,228.4 89.6,230.8 89.8,233.4 90.5,236.0 92.7,237.7 93.8,240.1 96.3,241.5 97.0,244.2 97.0,246.8 96.8,249.4 98.0,251.7 97.8,254.3 98.3,256.8 100.2,259.1 98.8,261.9 99.6,264.3 100.7,266.7 100.5,269.3 102.1,271.6 100.3,274.5 101.7,276.8 101.4,279.4 101.3,282.0 102.1,284.4 101.9,287.0 103.7,289.3 103.0,292.0 104.1,294.4 106.2,295.8 107.5,298.4 109.7,299.8 113.0,299.7 115.0,301.4 116.9,303.1 118.5,305.2 118.9,308.0 121.5,309.4 122.5,311.9 124.7,313.6 125.7,316.0 125.4,318.6 125.3,321.3 125.1,323.9 124.2,326.4 123.8,329.0 122.7,331.5 122.9,334.2 122.0,336.7 121.8,339.4 121.2,341.9 122.1,344.7 120.0,346.7 119.2,349.7 116.0,350.9 114.9,353.7 112.0,354.3 109.9,356.1 108.2,358.4 105.8,359.7 104.4,362.3 101.3,362.6 99.5,364.7 97.7,367.0 95.2,368.1 141.1,377.0 140.0,382.4 226.5,400.8 308.8,353.7 314.2,351.9 314.2,344.7 308.8,337.5 294.4,328.6 292.6,325.0 321.4,224.4 323.2,221.9 337.5,219.8 373.4,219.8" fill="#fcb4ae" stroke="#262626" stroke-width="1.35" stroke-linejoin="round"/>
<polygon points="398.6,215.4 412.9,211.9 430.9,213.6 441.7,211.9 452.4,213.6 466.8,222.6 481.2,237.0 495.5,258.5 506.3,276.5 423.7,317.8 423.7,323.2 447.0,353.7 445.3,359.1 448.8,373.4 457.8,378.8 457.8,386.0 491.9,391.4 490.1,405.8 480.1,425.1 478.3,430.5 478.3,441.3 477.4,448.5 451.4,441.3 424.4,433.2 419.1,438.6 422.6,446.7 431.6,462.8 435.2,470.0 433.4,476.3 429.8,476.3 422.6,470.0 415.5,472.7 404.7,467.3 393.9,461.9 388.5,457.5 383.1,456.6 378.7,459.3 379.6,463.7 372.4,464.6 369.7,468.2 367.0,479.0 363.4,484.4 354.4,491.6 351.5,493.2 349.0,495.2 346.7,497.5 345.4,500.5 343.8,503.0 343.6,505.9 342.5,508.6 343.0,511.3 342.6,514.0 343.6,516.7 344.1,519.4 342.5,521.5 341.8,523.9 341.7,526.9 343.6,529.3 345.4,532.9 343.3,534.4 341.8,536.5 340.0,538.8 340.0,541.8 339.2,545.4 327.5,526.6 325.7,527.5 304.1,497.9 302.3,498.8 281.7,479.0 281.7,473.6 267.3,457.5 268.2,453.9 252.1,438.6 253.9,433.2 243.1,421.5 234.1,423.3 225.1,412.6 226.5,400.8 308.8,353.7 314.2,351.9 314.2,344.7 308.8,337.5 294.4,328.6 292.6,325.0 321.4,224.4 323.2,221.9 337.5,219.8 373.4,219.8" fill="#fcb4ae" stroke="#262626" stroke-width="1.35" stroke-linejoin="round"/>
<polygon points="506.3,276.5 517.1,280.1 538.6,283.7 556.6,287.3 574.5,283.7 590.0,281.1 607.3,274.2 624.5,268.1 641.8,266.4 659.1,269.0 676.3,272.4 693.6,275.9 702.2,278.5 709.1,289.7 714.3,303.5 707.4,302.7 709.1,310.4 707.4,327.7 705.7,346.7 704.0,362.2 700.5,379.5 697.1,391.6 698.8,400.2 704.0,408.8 700.5,415.8 695.3,422.7 690.1,427.8 688.4,433.0 679.8,439.9 683.2,448.6 679.8,455.5 674.6,460.6 667.7,469.3 655.6,469.3 641.8,471.0 628.0,474.5 615.9,472.7 612.4,471.0 607.0,482.0 601.6,495.4 598.0,493.6 583.6,494.0 574.7,490.9 565.7,484.6 554.9,479.3 537.0,472.1 516.0,465.5 477.4,448.5 478.3,441.3 478.3,430.5 480.1,425.1 490.1,405.8 491.9,391.4 457.8,386.0 457.8,378.8 448.8,373.4 445.3,359.1 447.0,353.7 423.7,323.2 423.7,317.8" fill="#fcb4ae" stroke="#262626" stroke-width="1.35" stroke-linejoin="round"/>
<polygon points="226.5,400.8 140.0,382.4 141.1,377.0 95.2,368.1 92.7,369.7 90.3,371.3 87.1,371.5 85.1,374.0 82.0,374.3 79.7,375.8 77.7,377.7 75.9,379.8 73.1,380.5 71.5,383.0 68.7,383.7 67.0,386.0 64.2,386.7 63.6,389.7 61.5,391.8 59.2,393.8 59.2,397.2 57.0,399.2 56.5,402.4 54.4,405.0 53.5,408.1 51.6,410.4 51.5,413.4 51.0,416.2 49.9,418.8 49.7,422.6 51.7,425.9 99.8,445.5 90.9,463.4 112.7,480.6 115.8,479.8 127.5,492.3 165.0,531.2 188.2,560.0 201.7,571.7 204.6,571.1 223.4,606.3 234.5,600.4 235.1,595.2 237.4,591.1 237.4,585.8 240.9,584.0 251.5,579.9 261.0,570.6 268.2,559.8 275.4,552.6 292.5,541.8 297.9,533.8 293.4,527.5 300.5,522.1 338.3,572.4 338.6,569.7 338.6,566.9 338.2,564.3 337.4,561.6 338.3,559.4 337.2,557.0 337.7,554.8 338.3,552.6 338.2,550.2 339.4,547.9 339.2,545.4 327.5,526.6 325.7,527.5 304.1,497.9 302.3,498.8 281.7,479.0 281.7,473.6 267.3,457.5 268.2,453.9 252.1,438.6 253.9,433.2 243.1,421.5 234.1,423.3 225.1,412.6" fill="#fcb4ae" stroke="#262626" stroke-width="1.35" stroke-linejoin="round"/>
<polygon points="165.0,531.2 163.1,533.6 161.0,536.0 159.7,538.4 158.6,540.9 155.9,542.3 155.0,545.0 153.5,547.4 150.8,548.3 148.2,549.4 147.1,552.3 144.4,553.2 142.2,554.8 140.8,557.4 138.3,558.5 136.0,560.0 135.3,562.4 135.4,565.0 135.0,567.5 135.7,569.9 137.8,571.7 138.8,574.0 140.1,576.2 140.5,578.8 140.8,581.4 142.5,583.3 143.3,585.7 145.1,587.6 146.0,590.0 143.6,590.9 142.0,593.3 139.6,594.2 137.0,594.8 134.8,596.0 132.9,597.8 131.0,599.7 128.6,600.7 126.5,602.1 124.2,603.2 121.5,603.6 119.9,605.9 117.0,606.0 114.8,607.3 113.4,610.1 110.9,610.8 108.6,611.9 106.9,614.0 104.3,614.6 101.6,615.0 100.2,617.7 97.5,618.1 95.8,620.2 93.1,620.7 90.6,621.5 89.1,623.9 87.1,625.6 84.8,626.7 82.2,627.2 80.5,629.4 78.2,630.6 75.6,631.1 73.0,631.7 71.3,633.9 69.0,635.0 102.8,711.2 113.5,721.9 102.8,726.2 124.2,771.2 115.6,773.3 168.8,866.4 182.0,850.3 187.9,835.7 196.7,834.2 211.3,812.2 220.1,803.4 194.8,756.2 207.5,747.5 243.8,725.0 236.2,715.9 257.3,704.1 266.7,706.5 274.9,703.6 283.1,700.6 290.2,696.5 287.8,689.5 293.1,687.1 291.9,683.0 308.9,673.1 312.4,670.7 308.9,663.1 283.7,623.9 278.4,627.4 260.9,598.7 251.5,579.9 240.9,584.0 237.4,585.8 237.4,591.1 235.1,595.2 234.5,600.4 223.4,606.3 204.6,571.1 201.7,571.7 188.2,560.0" fill="#fdc9b9" stroke="#262626" stroke-width="1.35" stroke-linejoin="round"/>
<polygon points="339.2,545.4 339.4,547.9 338.2,550.2 338.3,552.6 337.7,554.8 337.2,557.0 338.3,559.4 337.4,561.6 338.2,564.3 338.6,566.9 338.6,569.7 338.3,572.4 300.5,522.1 293.4,527.5 297.9,533.8 292.5,541.8 275.4,552.6 268.2,559.8 261.0,570.6 251.5,579.9 260.9,598.7 278.4,627.4 283.7,623.9 308.9,663.1 330.0,651.4 355.8,698.3 365.2,693.6 379.2,681.9 387.4,670.2 397.4,648.5 400.3,639.7 403.8,632.7 406.2,628.0 404.4,616.2 402.1,611.6 400.3,604.5 423.3,623.3 433.2,618.0 438.6,617.1 443.1,614.4 446.7,613.5 453.9,608.1 428.0,568.8 422.6,566.1 415.5,571.5 404.7,575.1 390.3,553.5 388.5,552.6 354.4,491.6 351.5,493.2 349.0,495.2 346.7,497.5 345.4,500.5 343.8,503.0 343.6,505.9 342.5,508.6 343.0,511.3 342.6,514.0 343.6,516.7 344.1,519.4 342.5,521.5 341.8,523.9 341.7,526.9 343.6,529.3 345.4,532.9 343.3,534.4 341.8,536.5 340.0,538.8 340.0,541.8" fill="#f0746a" stroke="#262626" stroke-width="1.35" stroke-linejoin="round"/>
<polygon points="354.4,491.6 363.4,484.4 367.0,479.0 369.7,468.2 372.4,464.6 379.6,463.7 378.7,459.3 383.1,456.6 388.5,457.5 393.9,461.9 404.7,467.3 415.5,472.7 422.6,470.0 429.8,476.3 433.4,476.3 435.2,470.0 431.6,462.8 422.6,446.7 419.1,438.6 424.4,433.2 451.4,441.3 477.4,448.5 516.0,465.5 490.9,527.5 487.3,526.6 467.5,538.3 477.4,546.3 469.3,558.0 470.2,560.7 458.6,567.9 474.5,597.7 453.9,608.1 428.0,568.8 422.6,566.1 415.5,571.5 404.7,575.1 390.3,553.5 388.5,552.6" fill="#f0746a" stroke="#262626" stroke-width="1.35" stroke-linejoin="round"/>
<polygon points="308.9,663.1 312.4,670.7 308.9,673.1 291.9,683.0 293.1,687.1 287.8,689.5 290.2,696.5 283.1,700.6 274.9,703.6 266.7,706.5 257.3,704.1 236.2,715.9 243.8,725.0 207.5,747.5 194.8,756.2 220.1,803.4 255.3,840.1 265.1,837.1 274.7,839.5 280.7,834.7 289.0,827.6 301.0,819.2 305.7,812.0 305.7,807.2 315.3,797.7 327.2,792.9 339.2,791.7 351.1,789.3 364.3,782.2 359.5,778.6 353.5,772.6 355.9,764.2 354.7,749.9 355.9,738.0 366.7,730.8 362.8,720.0 352.3,700.6 355.8,698.3 330.0,651.4" fill="#ba201b" stroke="#262626" stroke-width="1.35" stroke-linejoin="round"/>
<polygon points="220.1,803.4 211.3,812.2 196.7,834.2 187.9,835.7 182.0,850.3 168.8,866.4 135.2,903.0 272.9,1039.3 259.7,1053.9 309.5,1103.7 372.5,1040.7 412.0,1002.7 362.2,951.4 369.5,942.6 316.8,885.5 305.1,892.8 255.3,840.1" fill="#fdc9b9" stroke="#262626" stroke-width="1.35" stroke-linejoin="round"/>
<polygon points="355.8,698.3 352.3,700.6 362.8,720.0 366.7,730.8 355.9,738.0 354.7,749.9 355.9,764.2 353.5,772.6 359.5,778.6 364.3,782.2 375.0,782.2 384.6,783.4 394.1,783.4 396.5,776.2 408.5,772.6 422.8,766.6 437.2,759.5 455.7,749.0 457.5,736.5 463.7,724.8 426.9,686.2 397.4,648.5 387.4,670.2 379.2,681.9 365.2,693.6" fill="#ba201b" stroke="#262626" stroke-width="1.35" stroke-linejoin="round"/>
<polygon points="397.4,648.5 426.9,686.2 429.6,682.6 437.7,679.0 443.1,675.4 461.0,657.5 459.3,650.3 444.9,641.3 435.9,634.1 423.3,623.3 400.3,604.5 402.1,611.6 404.4,616.2 406.2,628.0 403.8,632.7 400.3,639.7" fill="#ba201b" stroke="#262626" stroke-width="1.35" stroke-linejoin="round"/>
<polygon points="423.3,623.3 435.9,634.1 444.9,641.3 459.3,650.3 461.0,657.5 474.5,669.1 479.0,665.5 482.6,667.3 509.5,647.6 492.1,624.7 474.5,597.7 453.9,608.1 446.7,613.5 443.1,614.4 438.6,617.1 433.2,618.0" fill="#f0746a" stroke="#262626" stroke-width="1.35" stroke-linejoin="round"/>
<polygon points="461.0,657.5 443.1,675.4 437.7,679.0 429.6,682.6 426.9,686.2 463.7,724.8 479.0,716.7 486.2,707.7 495.2,700.5 504.1,697.0 509.5,695.2 523.9,683.5 528.4,683.5 534.7,673.6 525.7,662.8 509.5,647.6 482.6,667.3 479.0,665.5 474.5,669.1" fill="#fcb4ae" stroke="#262626" stroke-width="1.35" stroke-linejoin="round"/>
<polygon points="516.0,465.5 537.0,472.1 554.9,479.3 565.7,484.6 574.7,490.9 583.6,494.0 598.0,493.6 601.6,495.4 608.8,504.4 615.1,513.4 619.6,517.9 626.7,534.9 630.3,552.9 626.7,556.5 619.6,561.8 619.6,569.0 614.2,574.4 608.8,579.8 605.2,588.8 603.4,599.6 596.2,607.8 570.2,590.6 567.5,593.3 545.9,607.6 542.3,619.3 543.2,626.5 537.9,632.8 541.2,638.0 539.2,650.3 538.3,659.3 536.5,671.8 534.7,673.6 525.7,662.8 509.5,647.6 492.1,624.7 474.5,597.7 458.6,567.9 470.2,560.7 469.3,558.0 477.4,546.3 467.5,538.3 487.3,526.6 490.9,527.5" fill="#fcb4ae" stroke="#262626" stroke-width="1.35" stroke-linejoin="round"/>
<polygon points="596.2,607.8 570.2,590.6 567.5,593.3 545.9,607.6 542.3,619.3 543.2,626.5 537.9,632.8 541.2,638.0" fill="#fcb4ae" stroke="#262626" stroke-width="1.35" stroke-linejoin="round"/>
<polygon points="541.2,638.0 570.6,670.0 579.5,682.6 584.0,679.0 586.7,682.6 595.7,702.3 585.8,723.9 561.6,719.4 528.4,683.5 534.7,673.6 536.5,671.8 538.3,659.3 539.2,650.3" fill="#fdc9b9" stroke="#262626" stroke-width="1.35" stroke-linejoin="round"/>
<polygon points="596.2,607.8 541.2,638.0 570.6,670.0 579.6,662.8 584.9,657.5 617.3,643.1 617.3,635.9 612.8,626.9 606.5,619.8 602.9,610.8" fill="#ffffff" stroke="#262626" stroke-width="1.35" stroke-linejoin="round"/>
<polygon points="617.3,643.1 584.9,657.5 579.6,662.8 570.6,670.0 579.5,682.6 584.0,679.0 586.7,682.6 595.7,702.3 604.7,687.1 628.9,672.7 624.4,668.2 623.5,662.8 620.0,653.9" fill="#ffffff" stroke="#262626" stroke-width="1.35" stroke-linejoin="round"/>
<polygon points="509.5,695.2 525.7,716.7 523.9,725.7 523.9,736.5 523.0,749.0 501.4,747.2 484.4,725.7 479.0,716.7 486.2,707.7 495.2,700.5 504.1,697.0" fill="#fdc9b9" stroke="#262626" stroke-width="1.35" stroke-linejoin="round"/>
<polygon points="479.0,716.7 463.7,724.8 457.5,736.5 455.7,749.0 491.6,786.7 501.4,747.2 484.4,725.7" fill="#ffffff" stroke="#262626" stroke-width="1.35" stroke-linejoin="round"/>
<polygon points="501.4,747.2 491.6,786.7 507.7,802.9 547.2,760.7 549.0,758.0 562.5,752.6 554.4,747.2 552.6,743.6 545.4,731.1 541.8,729.3 525.7,716.7 523.9,725.7 523.9,736.5 523.0,749.0" fill="#ffffff" stroke="#262626" stroke-width="1.35" stroke-linejoin="round"/>
<polygon points="528.4,683.5 523.9,683.5 509.5,695.2 525.7,716.7 541.8,729.3 545.4,731.1 552.6,743.6 554.4,747.2 562.5,752.6 580.4,767.0 581.3,736.5 585.8,723.9 561.6,719.4" fill="#ffffff" stroke="#262626" stroke-width="1.35" stroke-linejoin="round"/>
<clipPath id="cabaclip"><polygon points="628.9,672.7 604.7,687.1 595.7,702.3 585.8,723.9 581.3,736.5 580.4,767.0 621.6,809.7 632.2,798.0 648.0,776.8 653.4,775.9 658.8,777.7 667.7,778.6 674.9,775.0 685.7,770.5 692.9,763.3 701.8,756.2 706.3,755.3 699.4,751.0 692.1,747.9 690.0,743.8 689.0,729.3 689.0,718.9 684.8,713.7 673.4,707.5 666.2,703.5 653.8,695.0 642.4,688.0 633.0,680.0"/></clipPath>
<polygon points="628.9,672.7 604.7,687.1 595.7,702.3 585.8,723.9 581.3,736.5 580.4,767.0 621.6,809.7 632.2,798.0 648.0,776.8 653.4,775.9 658.8,777.7 667.7,778.6 674.9,775.0 685.7,770.5 692.9,763.3 701.8,756.2 706.3,755.3 699.4,751.0 692.1,747.9 690.0,743.8 689.0,729.3 689.0,718.9 684.8,713.7 673.4,707.5 666.2,703.5 653.8,695.0 642.4,688.0 633.0,680.0" fill="#fad5d3" stroke="none"/>
<g clip-path="url(#cabaclip)">
<polyline points="620.6,690.9 623.7,698.2 620.6,702.3 622.7,707.0 637.2,715.8 647.5,727.2 653.8,728.2 672.4,729.2" fill="none" stroke="#d9ad62" stroke-width="0.9" stroke-dasharray="2.2,0.8"/>
<polyline points="622.7,707.0 598.8,722.5 593.7,713.7" fill="none" stroke="#d9ad62" stroke-width="0.9" stroke-dasharray="2.2,0.8"/>
<polyline points="598.8,722.5 609.2,725.1 620.6,730.3 636.1,733.4 645.5,729.2 647.5,727.2" fill="none" stroke="#d9ad62" stroke-width="0.9" stroke-dasharray="2.2,0.8"/>
<polyline points="583.3,736.5 589.5,741.7 600.9,734.4 611.3,745.8 625.8,739.6" fill="none" stroke="#d9ad62" stroke-width="0.9" stroke-dasharray="2.2,0.8"/>
<polyline points="625.8,732.4 625.8,739.6 631.0,751.0 641.3,752.0" fill="none" stroke="#d9ad62" stroke-width="0.9" stroke-dasharray="2.2,0.8"/>
<polyline points="614.4,744.8 617.5,756.2 623.7,772.8 637.2,768.6 647.5,775.9" fill="none" stroke="#d9ad62" stroke-width="0.9" stroke-dasharray="2.2,0.8"/>
<polyline points="645.5,729.2 646.5,747.9 649.6,760.3 657.9,759.3 656.9,728.2" fill="none" stroke="#d9ad62" stroke-width="0.9" stroke-dasharray="2.2,0.8"/>
<polyline points="637.2,715.8 639.2,709.6 635.1,704.4 643.4,693.0" fill="none" stroke="#d9ad62" stroke-width="0.9" stroke-dasharray="2.2,0.8"/>
<polyline points="655.8,727.2 661.0,717.8 668.3,714.7 675.5,719.9 674.5,729.2" fill="none" stroke="#d9ad62" stroke-width="0.9" stroke-dasharray="2.2,0.8"/>
<polyline points="670.3,729.2 670.3,756.2 678.6,755.2 689.0,748.9" fill="none" stroke="#d9ad62" stroke-width="0.9" stroke-dasharray="2.2,0.8"/>
<polyline points="582.3,753.1 593.7,755.2 598.8,761.4 617.5,756.2" fill="none" stroke="#d9ad62" stroke-width="0.9" stroke-dasharray="2.2,0.8"/>
<polyline points="598.8,783.1 611.3,771.7 621.6,773.8 631.0,767.6 641.3,770.7" fill="none" stroke="#d9ad62" stroke-width="0.9" stroke-dasharray="2.2,0.8"/>
<polyline points="642.4,761.4 641.3,770.7 647.5,775.9" fill="none" stroke="#d9ad62" stroke-width="0.9" stroke-dasharray="2.2,0.8"/>
<polyline points="590.5,724.1 606.1,723.0 626.8,716.8 637.2,714.7" fill="none" stroke="#dcbcbc" stroke-width="0.8"/>
<polyline points="585.4,743.8 606.1,750.0 626.8,743.8 647.5,738.6 660.0,735.5" fill="none" stroke="#dcbcbc" stroke-width="0.8"/>
<polyline points="606.1,789.4 626.8,779.0 647.5,765.5 668.3,764.5" fill="none" stroke="#dcbcbc" stroke-width="0.8"/>
<polyline points="609.2,688.8 614.4,699.2 618.5,708.5" fill="none" stroke="#dcbcbc" stroke-width="0.8"/>
<polyline points="582.3,753.1 590.5,754.1 606.1,760.3 621.6,766.6" fill="none" stroke="#f27f7f" stroke-width="0.9"/>
<polyline points="609.2,793.5 616.5,779.0 622.7,764.5 631.0,756.2 641.3,752.0 657.9,751.0 678.6,747.9 688.0,747.9 690.0,758.3 693.1,764.5" fill="none" stroke="#f27f7f" stroke-width="0.9"/>
<polyline points="639.2,686.8 647.5,693.0 657.9,699.2 666.2,708.5 677.6,714.7 683.8,723.0 684.8,729.2 686.9,737.5 688.0,747.9" fill="none" stroke="#f27f7f" stroke-width="0.9"/>
<polyline points="678.6,746.9 679.7,758.3 680.7,772.8" fill="none" stroke="#f27f7f" stroke-width="0.9"/>
<polyline points="631.0,776.9 637.2,784.2" fill="none" stroke="#f27f7f" stroke-width="0.9"/>
</g>
<polygon points="491.6,786.7 455.7,749.0 437.2,759.5 422.8,766.6 408.5,772.6 396.5,776.2 394.1,783.4 384.6,783.4 375.0,782.2 364.3,782.2 367.9,792.9 384.6,807.2 398.9,821.6 422.8,843.1 435.6,857.5 450.3,845.5 464.6,858.6 480.2,845.5 484.9,849.1 494.5,840.7 486.1,831.1 499.3,820.4 496.9,818.0 508.8,812.0 507.7,802.9" fill="#f0746a" stroke="#262626" stroke-width="1.35" stroke-linejoin="round"/>
<polygon points="255.3,840.1 265.1,837.1 274.7,839.5 280.7,834.7 289.0,827.6 301.0,819.2 305.7,812.0 305.7,807.2 315.3,797.7 327.2,792.9 339.2,791.7 351.1,789.3 364.3,782.2 367.9,792.9 384.6,807.2 398.9,821.6 422.8,843.1 435.6,857.5 461.0,884.9 445.5,889.7 440.7,893.3 419.2,896.8 432.4,912.4 425.2,918.3 466.5,962.5 445.7,970.4 431.1,985.1 422.3,996.8 404.7,993.9 412.0,1002.7 362.2,951.4 369.5,942.6 316.8,885.5 305.1,892.8" fill="#f0746a" stroke="#262626" stroke-width="1.35" stroke-linejoin="round"/>
<polygon points="562.5,752.6 549.0,758.0 547.2,760.7 507.7,802.9 508.8,812.0 496.9,818.0 499.3,820.4 486.1,831.1 494.5,840.7 484.9,849.1 480.2,845.5 464.6,858.6 450.3,845.5 435.6,857.5 461.0,884.9 445.5,889.7 440.7,893.3 419.2,896.8 432.4,912.4 425.2,918.3 466.5,962.5 497.0,949.5 497.3,946.9 497.9,944.3 498.9,941.8 498.5,939.1 498.9,936.5 499.3,933.9 501.2,931.6 502.4,928.8 504.6,926.7 506.4,924.3 507.5,922.0 508.7,919.7 508.5,916.9 509.8,914.6 510.3,912.1 512.5,910.2 513.2,907.7 513.0,904.9 515.5,903.2 516.4,900.8 516.8,898.2 517.7,895.8 518.4,893.3 520.4,890.5 523.2,888.5 525.0,886.0 528.0,884.9 529.8,882.5 532.7,881.3 533.0,878.7 533.9,876.4 534.3,873.9 535.8,871.7 536.6,869.3 537.5,867.0 540.0,864.4 542.9,863.7 545.2,861.8 547.8,860.5 549.3,858.3 550.4,855.8 551.7,853.4 552.4,850.7 552.5,848.0 555.6,847.1 558.8,846.4 560.8,844.1 563.4,842.5 564.2,845.9 566.6,848.4 569.6,848.2 572.0,846.4 572.6,843.3 572.0,840.2 574.8,839.6 577.2,837.9 579.8,836.8 582.6,836.3 589.2,834.7 591.6,828.4 595.5,821.0 602.5,826.1 606.4,830.0 607.2,825.3 621.6,809.7 580.4,767.0" fill="#ba201b" stroke="#262626" stroke-width="1.35" stroke-linejoin="round"/>
<polygon points="658.8,777.7 653.4,775.9 648.0,776.8 632.2,798.0 651.7,832.0 660.5,834.3 672.8,837.0 676.7,841.0 681.4,843.3 688.4,840.2 693.8,839.7 702.7,829.8 676.7,801.9 674.9,798.4 665.0,790.3 665.9,787.6" fill="#fdc9b9" stroke="#262626" stroke-width="1.35" stroke-linejoin="round"/>
<polygon points="706.3,755.3 701.8,756.2 692.9,763.3 685.7,770.5 674.9,775.0 667.7,778.6 658.8,777.7 665.9,787.6 665.0,790.3 674.9,798.4 676.7,801.9 702.7,829.8 737.8,795.7 721.6,781.3 710.8,770.5 709.0,763.3" fill="#fdc9b9" stroke="#262626" stroke-width="1.35" stroke-linejoin="round"/>
<polygon points="632.2,798.0 621.6,809.7 607.2,825.3 606.4,830.0 602.5,826.1 595.5,821.0 637.2,896.2 652.5,889.0 653.4,883.6 683.9,863.9 685.7,858.5 699.2,852.2 693.8,839.7 688.4,840.2 681.4,843.3 676.7,841.0 672.8,837.0 660.5,834.3 651.7,832.0" fill="#fcb4ae" stroke="#262626" stroke-width="1.35" stroke-linejoin="round"/>
<polygon points="702.7,829.8 737.8,795.7 750.3,804.6 768.3,815.4 770.1,817.2 782.6,828.0 788.0,835.2 790.7,842.3 741.3,865.7 722.0,876.0 719.0,887.0 714.4,882.7 699.2,852.2 693.8,839.7" fill="#fcb4ae" stroke="#262626" stroke-width="1.35" stroke-linejoin="round"/>
<polygon points="595.5,821.0 591.6,828.4 589.2,834.7 582.6,836.3 579.1,865.2 585.3,880.0 588.8,906.3 591.1,927.8 586.4,949.3 585.2,961.2 591.1,975.6 595.9,981.5 619.8,962.4 645.8,942.0 628.0,903.6 637.2,896.2" fill="#f0746a" stroke="#262626" stroke-width="1.35" stroke-linejoin="round"/>
<polygon points="497.0,949.5 497.3,946.9 497.9,944.3 498.9,941.8 498.5,939.1 498.9,936.5 499.3,933.9 501.2,931.6 502.4,928.8 504.6,926.7 506.4,924.3 507.5,922.0 508.7,919.7 508.5,916.9 509.8,914.6 510.3,912.1 512.5,910.2 513.2,907.7 513.0,904.9 515.5,903.2 516.4,900.8 516.8,898.2 517.7,895.8 518.4,893.3 520.4,890.5 523.2,888.5 525.0,886.0 528.0,884.9 529.8,882.5 532.7,881.3 533.0,878.7 533.9,876.4 534.3,873.9 535.8,871.7 536.6,869.3 537.5,867.0 540.0,864.4 542.9,863.7 545.2,861.8 547.8,860.5 549.3,858.3 550.4,855.8 551.7,853.4 552.4,850.7 552.5,848.0 555.6,847.1 558.8,846.4 560.8,844.1 563.4,842.5 564.2,845.9 566.6,848.4 569.6,848.2 572.0,846.4 572.6,843.3 572.0,840.2 574.8,839.6 577.2,837.9 579.8,836.8 582.6,836.3 579.1,865.2 585.3,880.0 588.8,906.3 591.1,927.8 586.4,949.3 585.2,961.2 591.1,975.6 595.9,981.5 569.6,1004.2 568.4,1004.2 555.3,1016.2 551.5,1039.0 511.6,1002.7 524.8,989.5 513.1,973.4" fill="#f0746a" stroke="#262626" stroke-width="1.35" stroke-linejoin="round"/>
<polygon points="699.2,852.2 685.7,858.5 683.9,863.9 653.4,883.6 652.5,889.0 637.2,896.2 628.0,903.6 645.8,942.0 649.7,948.1 657.0,968.6 691.5,951.7 693.9,955.3 710.7,946.7 709.0,939.3 723.4,929.4 709.0,907.9 705.4,904.3 707.2,902.5 701.0,890.8 714.4,882.7" fill="#fcb4ae" stroke="#262626" stroke-width="1.35" stroke-linejoin="round"/>
<polygon points="595.9,981.5 619.8,962.4 645.8,942.0 649.7,948.1 657.0,968.6 691.5,951.7 693.9,955.3 710.7,946.7 718.0,962.0 732.3,978.5 707.0,985.1 667.6,1004.2 666.4,1003.0 656.8,1006.6 658.0,1010.2 647.3,1021.0 646.1,1018.6 638.9,1023.4 632.9,1022.2 606.7,1044.9 611.4,999.5" fill="#ba201b" stroke="#262626" stroke-width="1.35" stroke-linejoin="round"/>
<polygon points="707.0,985.1 732.3,978.5 718.0,962.0 710.7,946.7 709.0,939.3 723.4,929.4 709.0,907.9 705.4,904.3 707.2,902.5 701.0,890.8 714.4,882.7 719.0,887.0 722.0,876.0 741.3,865.7 748.5,874.7 757.5,885.4 768.7,895.4 783.1,900.8 786.7,904.4 795.5,942.5 751.7,985.2 772.5,1006.7 748.8,1030.5 747.6,1034.1 727.3,1049.6 715.4,1021.0 722.5,1016.2" fill="#ba201b" stroke="#262626" stroke-width="1.35" stroke-linejoin="round"/>
<polygon points="741.3,865.7 790.7,842.3 798.8,847.7 811.4,851.3 823.9,852.2 832.9,854.9 843.7,856.7 854.5,862.1 865.2,869.3 876.0,874.7 888.6,878.3 902.5,881.0 858.5,922.3 817.2,959.2 815.4,961.8 775.9,999.6 777.7,1003.1 772.5,1006.7 751.7,985.2 795.5,942.5 786.7,904.4 783.1,900.8 768.7,895.4 757.5,885.4 748.5,874.7" fill="#fcb4ae" stroke="#262626" stroke-width="1.35" stroke-linejoin="round"/>
<polygon points="595.9,981.5 569.6,1004.2 568.4,1004.2 555.3,1016.2 551.5,1039.0 523.0,1071.1 535.0,1084.3 533.8,1150.0 545.7,1165.5 544.5,1170.3 557.7,1183.4 598.8,1219.8 616.4,1205.3 637.5,1183.0 677.0,1147.0 684.5,1153.5 753.4,1087.5 722.5,1056.8 727.3,1049.6 715.4,1021.0 722.5,1016.2 707.0,985.1 667.6,1004.2 666.4,1003.0 656.8,1006.6 658.0,1010.2 647.3,1021.0 646.1,1018.6 638.9,1023.4 632.9,1022.2 606.7,1044.9 611.4,999.5" fill="#ba201b" stroke="#262626" stroke-width="1.35" stroke-linejoin="round"/>
<polygon points="902.5,881.0 858.5,922.3 909.7,952.9 915.1,958.3 920.4,959.2 926.7,953.8 953.7,978.9 973.4,956.5 989.6,924.1 992.3,921.4 988.7,923.2 977.0,922.0 964.4,922.3 951.9,923.8 944.7,922.3 937.5,917.0 930.3,908.0 923.1,900.8 917.8,893.6 912.4,886.4" fill="#ba201b" stroke="#262626" stroke-width="1.35" stroke-linejoin="round"/>
<polygon points="992.3,921.4 996.8,931.3 1009.3,943.9 1027.3,956.5 1036.3,965.4 1052.4,981.6 1066.8,992.4 1091.9,1007.6 1063.4,1037.2 1053.3,1027.4 1045.2,1029.2 1032.7,1030.1 1020.1,1022.9 1007.5,1015.7 996.8,1008.5 989.6,1007.6 975.2,1001.3 953.7,978.9 973.4,956.5 989.6,924.1" fill="#ba201b" stroke="#262626" stroke-width="1.35" stroke-linejoin="round"/>
<polygon points="858.5,922.3 817.2,959.2 815.4,961.8 775.9,999.6 777.7,1003.1 772.5,1006.7 748.8,1030.5 747.6,1034.1 727.3,1049.6 722.5,1056.8 753.4,1087.5 803.9,1026.0 827.5,1051.3 790.4,1089.5 831.3,1129.0 837.1,1127.5 885.9,1180.7 848.8,1217.8 862.5,1231.5 921.1,1176.8 1063.4,1037.2 1053.3,1027.4 1045.2,1029.2 1032.7,1030.1 1020.1,1022.9 1007.5,1015.7 996.8,1008.5 989.6,1007.6 975.2,1001.3 953.7,978.9 926.7,953.8 920.4,959.2 915.1,958.3 909.7,952.9" fill="#fcb4ae" stroke="#262626" stroke-width="1.35" stroke-linejoin="round"/>
<polygon points="921.1,1176.8 862.5,1231.5 848.8,1217.8 885.9,1180.7 837.1,1127.5 831.3,1129.0 790.4,1089.5 827.5,1051.3 803.9,1026.0 753.4,1087.5 684.5,1153.5 677.0,1147.0 637.5,1183.0 616.4,1205.3 675.0,1266.6 733.6,1327.2 725.8,1335.0 751.2,1360.4 770.7,1340.9 800.0,1370.2 862.5,1311.6 868.4,1315.5 966.0,1227.6" fill="#fcb4ae" stroke="#262626" stroke-width="1.35" stroke-linejoin="round"/>
<polygon points="412.0,1002.7 372.5,1040.7 309.5,1103.7 346.9,1145.5 331.3,1161.2 382.0,1213.9 405.5,1239.3 421.1,1227.6 462.1,1268.6 444.5,1288.1 469.9,1307.7 520.7,1358.4 548.0,1329.1 557.8,1317.4 530.5,1288.1 598.8,1219.8 557.7,1183.4 544.5,1170.3 545.7,1165.5 533.8,1150.0 535.0,1084.3 523.0,1071.1 551.5,1039.0 511.6,1002.7 524.8,989.5 513.1,973.4 497.0,949.5 466.5,962.5 445.7,970.4 431.1,985.1 422.3,996.8 404.7,993.9" fill="#fcb4ae" stroke="#262626" stroke-width="1.35" stroke-linejoin="round"/>
<polygon points="690,728 696,727 701,731 704,738 703,745 698,748 692,747 690,740" fill="#d6cdb5"/>
<ellipse cx="693.5" cy="734" rx="1.6" ry="2.4" fill="#a9dfe6"/><ellipse cx="694" cy="740" rx="1.4" ry="1.6" fill="#a9dfe6"/>
<circle cx="682.8" cy="737.4" r="2.6" fill="#e8e8e8" stroke="#9a9a9a" stroke-width="0.6"/><circle cx="682.8" cy="737.4" r="1.1" fill="#111"/>
<rect x="640.8" y="749.5" width="11.4" height="5.7" fill="#fbfbfb" stroke="#d8d8d8" stroke-width="0.4"/>
<text x="646.5" y="753.9" font-family="DejaVu Sans, sans-serif" font-size="3.6" fill="#777" text-anchor="middle">AU1</text>
<rect x="595.7" y="753.1" width="12.5" height="5.7" fill="#fbfbfb" stroke="#d8d8d8" stroke-width="0.4"/>
<text x="602.0" y="757.5" font-family="DejaVu Sans, sans-serif" font-size="3.6" fill="#777" text-anchor="middle">AU6</text>
<rect x="623.7" y="774.8" width="11.4" height="5.2" fill="#fbfbfb" stroke="#d8d8d8" stroke-width="0.4"/>
<text x="629.4" y="778.7" font-family="DejaVu Sans, sans-serif" font-size="3.6" fill="#777" text-anchor="middle">AU7</text>
<rect x="679.1" y="724.6" width="12.0" height="4.7" fill="#fbfbfb" stroke="#d8d8d8" stroke-width="0.4"/>
<text x="685.1" y="728.0" font-family="DejaVu Sans, sans-serif" font-size="3.6" fill="#777" text-anchor="middle">AU2</text>
<rect x="652.7" y="701.3" width="14.0" height="5.2" fill="#fbfbfb" stroke="#d8d8d8" stroke-width="0.4"/>
<text x="659.7" y="705.2" font-family="DejaVu Sans, sans-serif" font-size="3.6" fill="#777" text-anchor="middle">AV.9J</text>
<text x="626" y="675" font-family="DejaVu Sans, sans-serif" font-size="4.6" font-style="italic" fill="#6f9a80">Reserva</text>
<text x="620" y="680.5" font-family="DejaVu Sans, sans-serif" font-size="4.6" font-style="italic" fill="#6f9a80">Ecológica Ciudad</text>
<text x="619" y="686" font-family="DejaVu Sans, sans-serif" font-size="4.6" font-style="italic" fill="#6f9a80">Universitaria -</text>
<text x="618" y="691.5" font-family="DejaVu Sans, sans-serif" font-size="4.6" font-style="italic" fill="#6f9a80">Costanera Norte</text>
<polygon points="735.0,413.2 741.9,415.8 748.8,424.4 753.2,433.0 753.2,441.7 748.8,448.6 746.3,445.1 745.4,438.2 740.2,433.0 736.8,436.5 735.9,446.8 726.4,450.3 724.7,433.0 728.1,422.7" fill="#fcb4ae" stroke="#262626" stroke-width="1.2" stroke-linejoin="round"/>
<polygon points="722.1,375.2 724.3,381.2 722.6,386.4 726.7,395.9 730.2,395.9 733.3,408.8 728.1,415.8 722.9,419.2 721.2,405.4 718.6,386.4" fill="#fcb4ae" stroke="#262626" stroke-width="1.2" stroke-linejoin="round"/>
<polygon points="714.0,328.6 716.9,327.7 718.1,336.3 717.4,345.8 715.2,345.0 714.3,336.3" fill="#fcb4ae" stroke="#262626" stroke-width="1.2" stroke-linejoin="round"/>
<polygon points="771.3,408.0 775.6,405.4 780.8,406.3 781.3,414.0 777.3,417.5 772.2,415.8" fill="#fcb4ae" stroke="#262626" stroke-width="1.2" stroke-linejoin="round"/>
<polygon points="769.6,431.3 773.0,429.6 775.6,435.6 773.4,438.2 770.4,435.6" fill="#fcb4ae" stroke="#262626" stroke-width="1.2" stroke-linejoin="round"/>
<polygon points="761.8,446.0 764.7,444.2 767.8,450.3 766.1,452.9 762.7,450.3" fill="#fcb4ae" stroke="#262626" stroke-width="1.2" stroke-linejoin="round"/>
<polygon points="712.9,436.5 717.8,434.7 721.2,441.7 720.4,451.2 717.4,451.2 714.3,443.4" fill="#fcb4ae" stroke="#262626" stroke-width="1.2" stroke-linejoin="round"/>
<polygon points="704.0,420.9 707.4,418.3 709.5,422.7 708.8,427.8 705.7,428.7 704.0,424.4" fill="#fcb4ae" stroke="#262626" stroke-width="1.2" stroke-linejoin="round"/>
<polygon points="619.6,517.0 633.9,517.0 639.3,522.3 641.1,531.3 642.9,540.3 645.6,545.7 644.7,552.9 641.1,556.5 639.3,561.8 628.5,538.5" fill="#fcb4ae" stroke="#262626" stroke-width="1.2" stroke-linejoin="round"/>
<polygon points="612.4,488.2 619.6,484.6 624.9,488.2 626.7,495.4 628.5,502.6 626.7,509.8 621.3,508.0 612.4,497.2" fill="#fcb4ae" stroke="#262626" stroke-width="1.2" stroke-linejoin="round"/>
<text class="lab" x="217" y="250.1">40</text>
<text class="lab" x="371" y="365.1">6</text>
<text class="lab" x="584" y="376.1">33</text>
<text class="lab" x="190" y="480.1">11</text>
<text class="lab" x="436" y="515.1">9</text>
<text class="lab" x="542" y="562.1">37</text>
<text class="lab" x="348" y="604.1">30</text>
<text class="lab" x="566" y="616.1">33</text>
<text class="lab" x="469" y="639.1">25</text>
<text class="lab" x="580" y="644.1">34</text>
<text class="lab" x="426" y="656.1">19</text>
<text class="lab" x="601" y="676.1">39</text>
<text class="lab" x="181" y="690.1">24</text>
<text class="lab" x="480" y="690.1">35</text>
<text class="lab" x="561" y="694.1">16</text>
<text class="lab" x="506" y="728.1">17</text>
<text class="lab" x="402" y="732.1">28</text>
<text class="lab" x="479" y="755.1">18</text>
<text class="lab" x="567" y="743.1">38</text>
<text class="lab" x="287" y="758.1">15</text>
<text class="lab" x="523" y="767.1">29</text>
<text class="lab" x="699" y="797.1">2</text>
<text class="lab" x="442" y="811.1">27</text>
<text class="lab" x="664" y="817.1">21</text>
<text class="lab" x="739" y="843.1">32</text>
<text class="lab" x="644" y="854.1">23</text>
<text class="lab" x="515" y="860.1">20</text>
<text class="lab" x="372" y="888.1">26</text>
<text class="lab" x="812" y="912.1">3</text>
<text class="lab" x="608" y="912.1">10</text>
<text class="lab" x="677" y="918.1">1</text>
<text class="lab" x="924" y="936.1">8</text>
<text class="lab" x="549" y="944.1">12</text>
<text class="lab" x="745" y="954.1">13</text>
<text class="lab" x="275" y="958.1">14</text>
<text class="lab" x="654" y="990.1">31</text>
<text class="lab" x="1018" y="992.1">4</text>
<text class="lab" x="893" y="1060.1">22</text>
<text class="lab" x="628" y="1098.1">36</text>
<text class="lab" x="461" y="1148.1">7</text>
<text class="lab" x="785" y="1223.1">5</text>
<text class="ar" x="974.6" y="61.2" font-size="22.3" fill="#000">Partidos RMBA</text>
<text class="lst" x="979" y="98.4">1</text><text class="lst" x="1007.7" y="98.4">Almirante Brown</text>
<text class="lst" x="979" y="125.4">2</text><text class="lst" x="1007.7" y="125.4">Avellaneda</text>
<text class="lst" x="979" y="152.4">3</text><text class="lst" x="1007.7" y="152.4">Berazategui</text>
<text class="lst" x="979" y="179.4">4</text><text class="lst" x="1007.7" y="179.4">Berisso</text>
<text class="lst" x="979" y="206.4">5</text><text class="lst" x="1007.7" y="206.4">Brandsen</text>
<text class="lst" x="979" y="233.4">6</text><text class="lst" x="1007.7" y="233.4">Campana</text>
<text class="lst" x="979" y="260.4">7</text><text class="lst" x="1007.7" y="260.4">Cañuelas</text>
<text class="lst" x="979" y="287.4">8</text><text class="lst" x="1007.7" y="287.4">Ensenada</text>
<text class="lst" x="979" y="314.4">9</text><text class="lst" x="1007.7" y="314.4">Escobar</text>
<text class="lst" x="979" y="341.4">10</text><text class="lst" x="1007.7" y="341.4">Esteban Echeverría</text>
<text class="lst" x="979" y="368.4">11</text><text class="lst" x="1007.7" y="368.4">Exaltación de la Cruz</text>
<text class="lst" x="979" y="395.4">12</text><text class="lst" x="1007.7" y="395.4">Ezeiza</text>
<text class="lst" x="979" y="422.4">13</text><text class="lst" x="1007.7" y="422.4">Florencio Varela</text>
<text class="lst" x="979" y="449.4">14</text><text class="lst" x="1007.7" y="449.4">General Las Heras</text>
<text class="lst" x="979" y="476.4">15</text><text class="lst" x="1007.7" y="476.4">General Rodríguez</text>
<text class="lst" x="979" y="503.4">16</text><text class="lst" x="1007.7" y="503.4">General San Martín</text>
<text class="lst" x="979" y="530.4">17</text><text class="lst" x="1007.7" y="530.4">Hurlingham</text>
<text class="lst" x="979" y="557.4">18</text><text class="lst" x="1007.7" y="557.4">Ituzaingó</text>
<text class="lst" x="979" y="584.4">19</text><text class="lst" x="1007.7" y="584.4">José C. Paz</text>
<text class="lst" x="979" y="611.4">20</text><text class="lst" x="1007.7" y="611.4">La Matanza</text>
<text class="lst" x="1194.4" y="98.4">21</text><text class="lst" x="1223.4" y="98.4">Lanús</text>
<text class="lst" x="1194.4" y="125.4">22</text><text class="lst" x="1223.4" y="125.4">La Plata</text>
<text class="lst" x="1194.4" y="152.4">23</text><text class="lst" x="1223.4" y="152.4">Lomas de Zamora</text>
<text class="lst" x="1194.4" y="179.4">24</text><text class="lst" x="1223.4" y="179.4">Luján</text>
<text class="lst" x="1194.4" y="206.4">25</text><text class="lst" x="1223.4" y="206.4">Malvinas Argentinas</text>
<text class="lst" x="1194.4" y="233.4">26</text><text class="lst" x="1223.4" y="233.4">Marcos Paz</text>
<text class="lst" x="1194.4" y="260.4">27</text><text class="lst" x="1223.4" y="260.4">Merlo</text>
<text class="lst" x="1194.4" y="287.4">28</text><text class="lst" x="1223.4" y="287.4">Moreno</text>
<text class="lst" x="1194.4" y="314.4">29</text><text class="lst" x="1223.4" y="314.4">Morón</text>
<text class="lst" x="1194.4" y="341.4">30</text><text class="lst" x="1223.4" y="341.4">Pilar</text>
<text class="lst" x="1194.4" y="368.4">31</text><text class="lst" x="1223.4" y="368.4">Presidente Perón</text>
<text class="lst" x="1194.4" y="395.4">32</text><text class="lst" x="1223.4" y="395.4">Quilmes</text>
<text class="lst" x="1194.4" y="422.4">33</text><text class="lst" x="1223.4" y="422.4">San Fernando</text>
<text class="lst" x="1194.4" y="449.4">34</text><text class="lst" x="1223.4" y="449.4">San Isidro</text>
<text class="lst" x="1194.4" y="476.4">35</text><text class="lst" x="1223.4" y="476.4">San Miguel</text>
<text class="lst" x="1194.4" y="503.4">36</text><text class="lst" x="1223.4" y="503.4">San Vicente</text>
<text class="lst" x="1194.4" y="530.4">37</text><text class="lst" x="1223.4" y="530.4">Tigre</text>
<text class="lst" x="1194.4" y="557.4">38</text><text class="lst" x="1223.4" y="557.4">Tres de Febrero</text>
<text class="lst" x="1194.4" y="584.4">39</text><text class="lst" x="1223.4" y="584.4">Vicente López</text>
<text class="lst" x="1194.4" y="611.4">40</text><text class="lst" x="1223.4" y="611.4">Zárate</text>
</g>
<rect x="1461" y="0" width="587" height="1448" fill="#ffffff"/>
<line x1="1460.8" y1="0" x2="1460.8" y2="1448" stroke="#8f8f8f" stroke-width="1.3"/>
<line x1="1461" y1="130.8" x2="2048" y2="130.8" stroke="#9a9a9a" stroke-width="1.3"/>
<line x1="1461" y1="835.2" x2="2048" y2="835.2" stroke="#9a9a9a" stroke-width="1.3"/>
<line x1="1461" y1="1252.4" x2="2048" y2="1252.4" stroke="#9a9a9a" stroke-width="1.3"/>
<circle cx="1555" cy="41.4" r="26.5" fill="#241b19"/>
<line x1="1554.9" y1="10" x2="1546.3" y2="54.5" stroke="#fff" stroke-width="6.4" stroke-linecap="round"/>
<line x1="1555.2" y1="73" x2="1563.8" y2="28" stroke="#fff" stroke-width="6.4" stroke-linecap="round"/>
<text class="ar" x="1591" y="61.2" font-size="55.5" font-weight="bold" fill="#241b19" stroke="#241b19" stroke-width="2.2" stroke-linejoin="round" textLength="162.5" lengthAdjust="spacingAndGlyphs">UNGS</text>
<polygon points="1758.2,72 1765.4,72 1793.5,21 1786.3,21" fill="#f36f21"/>
<text x="1801.5" y="61.6" font-family="Liberation Mono, monospace" font-size="59.5" font-weight="bold" fill="#f36f21" stroke="#f36f21" stroke-width="1" textLength="107.5" lengthAdjust="spacingAndGlyphs">ICO</text>
<text class="dvn" x="1533" y="90.2" font-size="17.8" fill="#2d2624" stroke="#2d2624" stroke-width="0.3" textLength="388" lengthAdjust="spacingAndGlyphs">Universidad Nacional de General Sarmiento</text>
<text class="dvn" x="1533.5" y="113.2" font-size="17.8" fill="#2d2624" stroke="#2d2624" stroke-width="0.3" textLength="206.5" lengthAdjust="spacingAndGlyphs">Instituto del Conurbano</text>
<text class="ar" x="1755.5" y="200.5" font-size="25.9" font-weight="bold" fill="#000" text-anchor="middle" xml:space="preserve">Porcentaje de hogares con al menos un</text>
<text class="ar" x="1755.5" y="230.9" font-size="25.9" font-weight="bold" fill="#000" text-anchor="middle" xml:space="preserve">indicador  de Necesidades Básicas</text>
<text class="ar" x="1755.5" y="261.3" font-size="25.9" font-weight="bold" fill="#000" text-anchor="middle" xml:space="preserve">Insatisfechas (NBI) en los partidos de la</text>
<text class="ar" x="1755.5" y="291.7" font-size="25.9" font-weight="bold" fill="#000" text-anchor="middle" xml:space="preserve">Región Metropolitana de Buenos Aires,</text>
<text class="ar" x="1755.5" y="322.1" font-size="25.9" font-weight="bold" fill="#000" text-anchor="middle" xml:space="preserve">censo 2022</text>
<text class="dv" x="1489.3" y="429.7" font-size="22.4" fill="#000" textLength="137" lengthAdjust="spacingAndGlyphs">Referencias</text>
<text class="dv" x="1489.3" y="480.7" font-size="25.6" fill="#000">Porcentaje de hogares con NBI</text>
<text class="dv" x="1498.6" y="539.5" font-size="21.6" fill="#000">Cantidad de partidos [40]</text>
<rect x="1517.5" y="573.5" width="34" height="19" fill="#ffffff" stroke="#3a3a3a" stroke-width="1"/>
<text class="dv" x="1571.9" y="590.8" font-size="21" fill="#000">2.6 - 3.6 % [5]</text>
<rect x="1517.5" y="624.7" width="34" height="19" fill="#fdc9b9" stroke="#3a3a3a" stroke-width="1"/>
<text class="dv" x="1571.9" y="642.0" font-size="21" fill="#000">3.6 - 5.2 % [6]</text>
<rect x="1517.5" y="675.9" width="34" height="19" fill="#fcb4ae" stroke="#3a3a3a" stroke-width="1"/>
<text class="dv" x="1571.9" y="693.2" font-size="21" fill="#000">5.2 - 7.5 % [13]</text>
<rect x="1517.5" y="727.1" width="34" height="19" fill="#f0746a" stroke="#3a3a3a" stroke-width="1"/>
<text class="dv" x="1571.9" y="744.4" font-size="21" fill="#000">7.5 - 9.1 % [7]</text>
<rect x="1517.5" y="778.3" width="34" height="19" fill="#ba201b" stroke="#3a3a3a" stroke-width="1"/>
<text class="dv" x="1571.9" y="795.6" font-size="21" fill="#000">9.1 - 12.7 % [9]</text>
<text class="dvn" x="1761.5" y="865" font-size="19.4" fill="#000" text-anchor="middle">N</text>
<circle cx="1761.8" cy="896.8" r="24" fill="#fff" stroke="#9a9a9a" stroke-width="0.95"/>
<circle cx="1761.8" cy="896.8" r="21.9" fill="none" stroke="#9a9a9a" stroke-width="0.95"/>
<rect x="1760.5" y="874" width="2.7" height="3" fill="#fff"/>
<path d="M1760.1,875 L1760.1,896.2 Q1761.9,898.3 1763.7,896.2 L1763.7,875" fill="#fff" stroke="#9a9a9a" stroke-width="0.95"/>
<rect x="1622" y="938.5" width="70" height="5" fill="#595959"/><rect x="1692" y="938.5" width="70" height="5" fill="#ebebeb"/><rect x="1762" y="938.5" width="70" height="5" fill="#595959"/><rect x="1832" y="938.5" width="70" height="5" fill="#ebebeb"/>
<text class="dv" x="1657" y="978.5" font-size="15.5" fill="#000" text-anchor="middle">10</text>
<text class="dv" x="1727" y="978.5" font-size="15.5" fill="#000" text-anchor="middle">20</text>
<text class="dv" x="1797" y="978.5" font-size="15.5" fill="#000" text-anchor="middle">30</text>
<text class="dv" x="1849.7" y="978.5" font-size="15.5" fill="#000">40 km</text>
<text class="ar" x="1750" y="1011" font-size="15.5" fill="#000" text-anchor="middle">POSGAR 2007 banda 4</text>
<g>
<rect x="1513.7" y="1031" width="484" height="181.3" fill="#fff"/>
<clipPath id="provclip"><polygon points="1517.3,1104.2 1601.5,1104.2 1642.6,1057.2 1645.3,1053.9 1649.3,1053.9 1655.9,1056.5 1665.2,1059.8 1667.5,1057.8 1668.5,1049.9 1674.4,1043.2 1676.4,1038.6 1675.8,1034.0 1673.1,1031.3 1682.4,1041.9 1693.0,1049.9 1699.7,1053.9 1705.0,1057.8 1712.9,1059.2 1716.9,1061.8 1720.9,1065.8 1727.5,1067.1 1728.8,1072.4 1744.5,1077.2 1752.0,1083.9 1771.2,1086.9 1772.7,1091.3 1769.8,1100.2 1765.3,1103.2 1766.1,1109.1 1763.8,1115.1 1766.8,1121.0 1772.7,1126.9 1783.1,1132.9 1792.0,1137.3 1802.4,1144.7 1812.8,1152.2 1823.2,1162.6 1829.1,1171.5 1832.1,1177.4 1829.1,1186.3 1823.2,1195.2 1818.7,1204.1 1818.7,1212.3 1517.3,1212.3"/></clipPath>
<polygon points="1517.3,1104.2 1601.5,1104.2 1642.6,1057.2 1645.3,1053.9 1649.3,1053.9 1655.9,1056.5 1665.2,1059.8 1667.5,1057.8 1668.5,1049.9 1674.4,1043.2 1676.4,1038.6 1675.8,1034.0 1673.1,1031.3 1682.4,1041.9 1693.0,1049.9 1699.7,1053.9 1705.0,1057.8 1712.9,1059.2 1716.9,1061.8 1720.9,1065.8 1727.5,1067.1 1728.8,1072.4 1744.5,1077.2 1752.0,1083.9 1771.2,1086.9 1772.7,1091.3 1769.8,1100.2 1765.3,1103.2 1766.1,1109.1 1763.8,1115.1 1766.8,1121.0 1772.7,1126.9 1783.1,1132.9 1792.0,1137.3 1802.4,1144.7 1812.8,1152.2 1823.2,1162.6 1829.1,1171.5 1832.1,1177.4 1829.1,1186.3 1823.2,1195.2 1818.7,1204.1 1818.7,1212.3 1517.3,1212.3" fill="#adadb0" stroke="none"/>
<g clip-path="url(#provclip)">
<polyline points="1523.7,830.8 1530.2,839.0 1538.1,847.9" fill="none" stroke="#fff" stroke-width="1.2" stroke-linejoin="round"/>
<polyline points="1523.7,830.8 1513.6,838.9 1504.4,845.4" fill="none" stroke="#fff" stroke-width="1.2" stroke-linejoin="round"/>
<polyline points="1486.7,859.4 1496.8,864.6 1506.1,873.7" fill="none" stroke="#fff" stroke-width="1.2" stroke-linejoin="round"/>
<polyline points="1486.7,859.4 1478.4,870.2 1471.4,879.8" fill="none" stroke="#fff" stroke-width="1.2" stroke-linejoin="round"/>
<polyline points="1471.4,879.8 1480.5,887.2 1490.6,894.6" fill="none" stroke="#fff" stroke-width="1.2" stroke-linejoin="round"/>
<polyline points="1454.9,890.2 1443.9,900.8 1435.7,909.3" fill="none" stroke="#fff" stroke-width="1.2" stroke-linejoin="round"/>
<polyline points="1435.7,909.3 1430.9,917.0 1427.2,924.7" fill="none" stroke="#fff" stroke-width="1.2" stroke-linejoin="round"/>
<polyline points="1427.2,924.7 1433.8,933.3 1438.6,938.0" fill="none" stroke="#fff" stroke-width="1.2" stroke-linejoin="round"/>
<polyline points="1427.2,924.7 1418.1,937.6 1407.4,947.8" fill="none" stroke="#fff" stroke-width="1.2" stroke-linejoin="round"/>
<polyline points="1407.4,947.8 1418.5,954.8 1426.0,960.8" fill="none" stroke="#fff" stroke-width="1.2" stroke-linejoin="round"/>
<polyline points="1407.4,947.8 1397.6,953.0 1391.2,960.2" fill="none" stroke="#fff" stroke-width="1.2" stroke-linejoin="round"/>
<polyline points="1391.2,960.2 1401.7,968.0 1410.6,977.1" fill="none" stroke="#fff" stroke-width="1.2" stroke-linejoin="round"/>
<polyline points="1375.5,970.3 1381.5,978.4 1387.8,989.5" fill="none" stroke="#fff" stroke-width="1.2" stroke-linejoin="round"/>
<polyline points="1361.1,988.9 1371.0,998.5 1377.6,1007.7" fill="none" stroke="#fff" stroke-width="1.2" stroke-linejoin="round"/>
<polyline points="1361.1,988.9 1351.8,995.6 1341.9,1004.3" fill="none" stroke="#fff" stroke-width="1.2" stroke-linejoin="round"/>
<polyline points="1323.5,1020.9 1313.9,1032.5 1307.4,1041.6" fill="none" stroke="#fff" stroke-width="1.2" stroke-linejoin="round"/>
<polyline points="1307.4,1041.6 1317.9,1046.1 1325.2,1052.7" fill="none" stroke="#fff" stroke-width="1.2" stroke-linejoin="round"/>
<polyline points="1307.4,1041.6 1301.4,1048.1 1292.7,1057.2" fill="none" stroke="#fff" stroke-width="1.2" stroke-linejoin="round"/>
<polyline points="1292.7,1057.2 1299.6,1060.6 1309.9,1067.8" fill="none" stroke="#fff" stroke-width="1.2" stroke-linejoin="round"/>
<polyline points="1292.7,1057.2 1286.4,1067.1 1276.2,1073.4" fill="none" stroke="#fff" stroke-width="1.2" stroke-linejoin="round"/>
<polyline points="1276.2,1073.4 1285.8,1081.7 1296.9,1088.6" fill="none" stroke="#fff" stroke-width="1.2" stroke-linejoin="round"/>
<polyline points="1261.9,1087.3 1270.2,1097.4 1277.8,1105.1" fill="none" stroke="#fff" stroke-width="1.2" stroke-linejoin="round"/>
<polyline points="1553.6,834.2 1559.0,839.2 1566.8,844.4" fill="none" stroke="#fff" stroke-width="1.2" stroke-linejoin="round"/>
<polyline points="1553.6,834.2 1545.4,841.3 1538.1,847.9" fill="none" stroke="#fff" stroke-width="1.2" stroke-linejoin="round"/>
<polyline points="1538.1,847.9 1544.5,852.9 1550.7,859.8" fill="none" stroke="#fff" stroke-width="1.2" stroke-linejoin="round"/>
<polyline points="1538.1,847.9 1529.2,853.8 1521.6,858.5" fill="none" stroke="#fff" stroke-width="1.2" stroke-linejoin="round"/>
<polyline points="1521.6,858.5 1529.3,865.2 1535.6,874.7" fill="none" stroke="#fff" stroke-width="1.2" stroke-linejoin="round"/>
<polyline points="1506.1,873.7 1513.3,881.9 1520.8,890.7" fill="none" stroke="#fff" stroke-width="1.2" stroke-linejoin="round"/>
<polyline points="1506.1,873.7 1499.1,885.2 1490.6,894.6" fill="none" stroke="#fff" stroke-width="1.2" stroke-linejoin="round"/>
<polyline points="1490.6,894.6 1484.8,904.2 1474.9,911.2" fill="none" stroke="#fff" stroke-width="1.2" stroke-linejoin="round"/>
<polyline points="1474.9,911.2 1465.5,921.2 1456.7,930.7" fill="none" stroke="#fff" stroke-width="1.2" stroke-linejoin="round"/>
<polyline points="1456.7,930.7 1447.7,934.1 1438.6,938.0" fill="none" stroke="#fff" stroke-width="1.2" stroke-linejoin="round"/>
<polyline points="1438.6,938.0 1430.5,950.3 1426.0,960.8" fill="none" stroke="#fff" stroke-width="1.2" stroke-linejoin="round"/>
<polyline points="1410.6,977.1 1417.9,981.9 1423.3,988.2" fill="none" stroke="#fff" stroke-width="1.2" stroke-linejoin="round"/>
<polyline points="1410.6,977.1 1397.5,981.8 1387.8,989.5" fill="none" stroke="#fff" stroke-width="1.2" stroke-linejoin="round"/>
<polyline points="1387.8,989.5 1398.8,998.4 1409.8,1008.0" fill="none" stroke="#fff" stroke-width="1.2" stroke-linejoin="round"/>
<polyline points="1387.8,989.5 1383.5,998.7 1377.6,1007.7" fill="none" stroke="#fff" stroke-width="1.2" stroke-linejoin="round"/>
<polyline points="1377.6,1007.7 1384.2,1013.5 1392.3,1020.2" fill="none" stroke="#fff" stroke-width="1.2" stroke-linejoin="round"/>
<polyline points="1377.6,1007.7 1365.6,1015.7 1357.1,1020.5" fill="none" stroke="#fff" stroke-width="1.2" stroke-linejoin="round"/>
<polyline points="1357.1,1020.5 1351.7,1032.0 1343.4,1044.1" fill="none" stroke="#fff" stroke-width="1.2" stroke-linejoin="round"/>
<polyline points="1343.4,1044.1 1335.3,1048.6 1325.2,1052.7" fill="none" stroke="#fff" stroke-width="1.2" stroke-linejoin="round"/>
<polyline points="1325.2,1052.7 1318.7,1058.7 1309.9,1067.8" fill="none" stroke="#fff" stroke-width="1.2" stroke-linejoin="round"/>
<polyline points="1309.9,1067.8 1321.1,1077.5 1328.6,1091.3" fill="none" stroke="#fff" stroke-width="1.2" stroke-linejoin="round"/>
<polyline points="1309.9,1067.8 1302.6,1077.5 1296.9,1088.6" fill="none" stroke="#fff" stroke-width="1.2" stroke-linejoin="round"/>
<polyline points="1296.9,1088.6 1304.1,1099.4 1308.0,1107.5" fill="none" stroke="#fff" stroke-width="1.2" stroke-linejoin="round"/>
<polyline points="1296.9,1088.6 1286.8,1097.2 1277.8,1105.1" fill="none" stroke="#fff" stroke-width="1.2" stroke-linejoin="round"/>
<polyline points="1277.8,1105.1 1283.8,1112.9 1293.6,1117.6" fill="none" stroke="#fff" stroke-width="1.2" stroke-linejoin="round"/>
<polyline points="1566.8,844.4 1576.7,856.5 1586.7,865.2" fill="none" stroke="#fff" stroke-width="1.2" stroke-linejoin="round"/>
<polyline points="1550.7,859.8 1559.3,866.2 1570.2,874.2" fill="none" stroke="#fff" stroke-width="1.2" stroke-linejoin="round"/>
<polyline points="1535.6,874.7 1529.6,882.1 1520.8,890.7" fill="none" stroke="#fff" stroke-width="1.2" stroke-linejoin="round"/>
<polyline points="1520.8,890.7 1525.6,902.2 1533.1,910.7" fill="none" stroke="#fff" stroke-width="1.2" stroke-linejoin="round"/>
<polyline points="1505.8,914.3 1514.8,920.4 1522.7,928.9" fill="none" stroke="#fff" stroke-width="1.2" stroke-linejoin="round"/>
<polyline points="1485.3,927.2 1494.4,934.4 1506.6,939.7" fill="none" stroke="#fff" stroke-width="1.2" stroke-linejoin="round"/>
<polyline points="1485.3,927.2 1479.9,935.2 1471.3,940.2" fill="none" stroke="#fff" stroke-width="1.2" stroke-linejoin="round"/>
<polyline points="1471.3,940.2 1475.9,950.2 1483.3,958.7" fill="none" stroke="#fff" stroke-width="1.2" stroke-linejoin="round"/>
<polyline points="1457.3,961.5 1461.8,966.9 1469.7,974.6" fill="none" stroke="#fff" stroke-width="1.2" stroke-linejoin="round"/>
<polyline points="1457.3,961.5 1446.8,967.3 1434.8,975.5" fill="none" stroke="#fff" stroke-width="1.2" stroke-linejoin="round"/>
<polyline points="1434.8,975.5 1442.7,984.2 1452.8,991.7" fill="none" stroke="#fff" stroke-width="1.2" stroke-linejoin="round"/>
<polyline points="1423.3,988.2 1433.0,999.1 1441.5,1006.9" fill="none" stroke="#fff" stroke-width="1.2" stroke-linejoin="round"/>
<polyline points="1423.3,988.2 1415.4,997.3 1409.8,1008.0" fill="none" stroke="#fff" stroke-width="1.2" stroke-linejoin="round"/>
<polyline points="1409.8,1008.0 1400.1,1014.7 1392.3,1020.2" fill="none" stroke="#fff" stroke-width="1.2" stroke-linejoin="round"/>
<polyline points="1392.3,1020.2 1401.2,1027.9 1406.4,1036.0" fill="none" stroke="#fff" stroke-width="1.2" stroke-linejoin="round"/>
<polyline points="1392.3,1020.2 1382.2,1027.3 1371.9,1038.1" fill="none" stroke="#fff" stroke-width="1.2" stroke-linejoin="round"/>
<polyline points="1371.9,1038.1 1379.8,1047.4 1389.3,1058.6" fill="none" stroke="#fff" stroke-width="1.2" stroke-linejoin="round"/>
<polyline points="1356.4,1055.4 1365.7,1064.7 1376.6,1071.9" fill="none" stroke="#fff" stroke-width="1.2" stroke-linejoin="round"/>
<polyline points="1356.4,1055.4 1348.2,1063.7 1341.7,1071.5" fill="none" stroke="#fff" stroke-width="1.2" stroke-linejoin="round"/>
<polyline points="1341.7,1071.5 1353.7,1082.5 1362.5,1089.5" fill="none" stroke="#fff" stroke-width="1.2" stroke-linejoin="round"/>
<polyline points="1341.7,1071.5 1335.0,1082.4 1328.6,1091.3" fill="none" stroke="#fff" stroke-width="1.2" stroke-linejoin="round"/>
<polyline points="1328.6,1091.3 1336.4,1096.2 1340.8,1101.0" fill="none" stroke="#fff" stroke-width="1.2" stroke-linejoin="round"/>
<polyline points="1328.6,1091.3 1318.6,1100.0 1308.0,1107.5" fill="none" stroke="#fff" stroke-width="1.2" stroke-linejoin="round"/>
<polyline points="1308.0,1107.5 1318.7,1114.2 1328.1,1118.5" fill="none" stroke="#fff" stroke-width="1.2" stroke-linejoin="round"/>
<polyline points="1308.0,1107.5 1300.8,1113.9 1293.6,1117.6" fill="none" stroke="#fff" stroke-width="1.2" stroke-linejoin="round"/>
<polyline points="1293.6,1117.6 1301.2,1128.1 1308.6,1135.0" fill="none" stroke="#fff" stroke-width="1.2" stroke-linejoin="round"/>
<polyline points="1586.7,865.2 1596.9,869.1 1604.9,875.7" fill="none" stroke="#fff" stroke-width="1.2" stroke-linejoin="round"/>
<polyline points="1586.7,865.2 1577.4,869.5 1570.2,874.2" fill="none" stroke="#fff" stroke-width="1.2" stroke-linejoin="round"/>
<polyline points="1552.5,897.5 1542.8,903.0 1533.1,910.7" fill="none" stroke="#fff" stroke-width="1.2" stroke-linejoin="round"/>
<polyline points="1533.1,910.7 1543.7,917.4 1554.2,927.7" fill="none" stroke="#fff" stroke-width="1.2" stroke-linejoin="round"/>
<polyline points="1533.1,910.7 1528.7,920.1 1522.7,928.9" fill="none" stroke="#fff" stroke-width="1.2" stroke-linejoin="round"/>
<polyline points="1522.7,928.9 1513.3,932.4 1506.6,939.7" fill="none" stroke="#fff" stroke-width="1.2" stroke-linejoin="round"/>
<polyline points="1506.6,939.7 1511.1,948.8 1516.1,958.3" fill="none" stroke="#fff" stroke-width="1.2" stroke-linejoin="round"/>
<polyline points="1506.6,939.7 1496.2,947.5 1483.3,958.7" fill="none" stroke="#fff" stroke-width="1.2" stroke-linejoin="round"/>
<polyline points="1483.3,958.7 1476.7,967.8 1469.7,974.6" fill="none" stroke="#fff" stroke-width="1.2" stroke-linejoin="round"/>
<polyline points="1469.7,974.6 1476.0,981.2 1485.1,989.3" fill="none" stroke="#fff" stroke-width="1.2" stroke-linejoin="round"/>
<polyline points="1469.7,974.6 1460.5,983.6 1452.8,991.7" fill="none" stroke="#fff" stroke-width="1.2" stroke-linejoin="round"/>
<polyline points="1452.8,991.7 1460.9,1000.5 1470.9,1008.7" fill="none" stroke="#fff" stroke-width="1.2" stroke-linejoin="round"/>
<polyline points="1452.8,991.7 1448.5,997.9 1441.5,1006.9" fill="none" stroke="#fff" stroke-width="1.2" stroke-linejoin="round"/>
<polyline points="1441.5,1006.9 1445.5,1017.0 1452.2,1025.5" fill="none" stroke="#fff" stroke-width="1.2" stroke-linejoin="round"/>
<polyline points="1420.4,1023.1 1413.0,1029.0 1406.4,1036.0" fill="none" stroke="#fff" stroke-width="1.2" stroke-linejoin="round"/>
<polyline points="1406.4,1036.0 1416.4,1046.1 1422.6,1059.9" fill="none" stroke="#fff" stroke-width="1.2" stroke-linejoin="round"/>
<polyline points="1406.4,1036.0 1398.9,1049.3 1389.3,1058.6" fill="none" stroke="#fff" stroke-width="1.2" stroke-linejoin="round"/>
<polyline points="1389.3,1058.6 1398.2,1067.8 1407.4,1075.0" fill="none" stroke="#fff" stroke-width="1.2" stroke-linejoin="round"/>
<polyline points="1389.3,1058.6 1381.9,1066.8 1376.6,1071.9" fill="none" stroke="#fff" stroke-width="1.2" stroke-linejoin="round"/>
<polyline points="1376.6,1071.9 1383.0,1081.6 1390.3,1092.8" fill="none" stroke="#fff" stroke-width="1.2" stroke-linejoin="round"/>
<polyline points="1376.6,1071.9 1367.9,1078.8 1362.5,1089.5" fill="none" stroke="#fff" stroke-width="1.2" stroke-linejoin="round"/>
<polyline points="1340.8,1101.0 1333.5,1110.0 1328.1,1118.5" fill="none" stroke="#fff" stroke-width="1.2" stroke-linejoin="round"/>
<polyline points="1328.1,1118.5 1334.0,1130.4 1340.1,1138.8" fill="none" stroke="#fff" stroke-width="1.2" stroke-linejoin="round"/>
<polyline points="1328.1,1118.5 1317.7,1128.7 1308.6,1135.0" fill="none" stroke="#fff" stroke-width="1.2" stroke-linejoin="round"/>
<polyline points="1308.6,1135.0 1316.2,1145.3 1327.6,1156.3" fill="none" stroke="#fff" stroke-width="1.2" stroke-linejoin="round"/>
<polyline points="1604.9,875.7 1610.7,884.1 1620.1,893.7" fill="none" stroke="#fff" stroke-width="1.2" stroke-linejoin="round"/>
<polyline points="1604.9,875.7 1595.5,885.7 1583.2,895.1" fill="none" stroke="#fff" stroke-width="1.2" stroke-linejoin="round"/>
<polyline points="1583.2,895.1 1577.0,905.7 1571.7,913.5" fill="none" stroke="#fff" stroke-width="1.2" stroke-linejoin="round"/>
<polyline points="1571.7,913.5 1578.5,917.9 1583.0,924.6" fill="none" stroke="#fff" stroke-width="1.2" stroke-linejoin="round"/>
<polyline points="1571.7,913.5 1561.7,920.8 1554.2,927.7" fill="none" stroke="#fff" stroke-width="1.2" stroke-linejoin="round"/>
<polyline points="1554.2,927.7 1561.2,936.4 1570.5,947.4" fill="none" stroke="#fff" stroke-width="1.2" stroke-linejoin="round"/>
<polyline points="1554.2,927.7 1545.3,932.5 1538.0,937.8" fill="none" stroke="#fff" stroke-width="1.2" stroke-linejoin="round"/>
<polyline points="1538.0,937.8 1528.5,946.8 1516.1,958.3" fill="none" stroke="#fff" stroke-width="1.2" stroke-linejoin="round"/>
<polyline points="1516.1,958.3 1525.4,968.3 1538.2,976.7" fill="none" stroke="#fff" stroke-width="1.2" stroke-linejoin="round"/>
<polyline points="1516.1,958.3 1508.8,966.6 1503.4,978.7" fill="none" stroke="#fff" stroke-width="1.2" stroke-linejoin="round"/>
<polyline points="1503.4,978.7 1510.2,985.3 1518.9,992.8" fill="none" stroke="#fff" stroke-width="1.2" stroke-linejoin="round"/>
<polyline points="1485.1,989.3 1492.2,997.3 1501.1,1006.5" fill="none" stroke="#fff" stroke-width="1.2" stroke-linejoin="round"/>
<polyline points="1485.1,989.3 1479.7,998.4 1470.9,1008.7" fill="none" stroke="#fff" stroke-width="1.2" stroke-linejoin="round"/>
<polyline points="1452.2,1025.5 1443.9,1031.2 1437.1,1037.9" fill="none" stroke="#fff" stroke-width="1.2" stroke-linejoin="round"/>
<polyline points="1437.1,1037.9 1448.7,1046.9 1457.2,1057.4" fill="none" stroke="#fff" stroke-width="1.2" stroke-linejoin="round"/>
<polyline points="1422.6,1059.9 1428.5,1067.3 1438.1,1075.6" fill="none" stroke="#fff" stroke-width="1.2" stroke-linejoin="round"/>
<polyline points="1422.6,1059.9 1413.2,1066.0 1407.4,1075.0" fill="none" stroke="#fff" stroke-width="1.2" stroke-linejoin="round"/>
<polyline points="1407.4,1075.0 1414.3,1079.1 1424.9,1084.6" fill="none" stroke="#fff" stroke-width="1.2" stroke-linejoin="round"/>
<polyline points="1407.4,1075.0 1399.1,1082.5 1390.3,1092.8" fill="none" stroke="#fff" stroke-width="1.2" stroke-linejoin="round"/>
<polyline points="1390.3,1092.8 1396.8,1099.8 1405.1,1104.9" fill="none" stroke="#fff" stroke-width="1.2" stroke-linejoin="round"/>
<polyline points="1390.3,1092.8 1380.2,1097.8 1372.8,1105.3" fill="none" stroke="#fff" stroke-width="1.2" stroke-linejoin="round"/>
<polyline points="1372.8,1105.3 1382.9,1111.1 1391.2,1117.8" fill="none" stroke="#fff" stroke-width="1.2" stroke-linejoin="round"/>
<polyline points="1372.8,1105.3 1367.2,1114.4 1358.6,1125.7" fill="none" stroke="#fff" stroke-width="1.2" stroke-linejoin="round"/>
<polyline points="1358.6,1125.7 1366.8,1132.1 1376.1,1140.8" fill="none" stroke="#fff" stroke-width="1.2" stroke-linejoin="round"/>
<polyline points="1358.6,1125.7 1347.5,1132.7 1340.1,1138.8" fill="none" stroke="#fff" stroke-width="1.2" stroke-linejoin="round"/>
<polyline points="1340.1,1138.8 1349.2,1149.1 1355.9,1155.7" fill="none" stroke="#fff" stroke-width="1.2" stroke-linejoin="round"/>
<polyline points="1340.1,1138.8 1334.5,1149.2 1327.6,1156.3" fill="none" stroke="#fff" stroke-width="1.2" stroke-linejoin="round"/>
<polyline points="1327.6,1156.3 1334.7,1163.9 1340.3,1170.1" fill="none" stroke="#fff" stroke-width="1.2" stroke-linejoin="round"/>
<polyline points="1602.3,911.0 1610.7,919.0 1618.1,930.2" fill="none" stroke="#fff" stroke-width="1.2" stroke-linejoin="round"/>
<polyline points="1602.3,911.0 1592.2,916.0 1583.0,924.6" fill="none" stroke="#fff" stroke-width="1.2" stroke-linejoin="round"/>
<polyline points="1583.0,924.6 1593.4,934.2 1605.2,943.9" fill="none" stroke="#fff" stroke-width="1.2" stroke-linejoin="round"/>
<polyline points="1583.0,924.6 1575.4,935.6 1570.5,947.4" fill="none" stroke="#fff" stroke-width="1.2" stroke-linejoin="round"/>
<polyline points="1570.5,947.4 1577.8,953.4 1587.7,958.1" fill="none" stroke="#fff" stroke-width="1.2" stroke-linejoin="round"/>
<polyline points="1570.5,947.4 1561.4,952.7 1555.6,959.3" fill="none" stroke="#fff" stroke-width="1.2" stroke-linejoin="round"/>
<polyline points="1555.6,959.3 1560.3,966.4 1567.9,972.9" fill="none" stroke="#fff" stroke-width="1.2" stroke-linejoin="round"/>
<polyline points="1555.6,959.3 1547.1,968.8 1538.2,976.7" fill="none" stroke="#fff" stroke-width="1.2" stroke-linejoin="round"/>
<polyline points="1538.2,976.7 1545.5,985.4 1553.6,995.1" fill="none" stroke="#fff" stroke-width="1.2" stroke-linejoin="round"/>
<polyline points="1538.2,976.7 1528.2,983.0 1518.9,992.8" fill="none" stroke="#fff" stroke-width="1.2" stroke-linejoin="round"/>
<polyline points="1518.9,992.8 1527.8,1001.9 1536.0,1011.2" fill="none" stroke="#fff" stroke-width="1.2" stroke-linejoin="round"/>
<polyline points="1518.9,992.8 1509.0,997.8 1501.1,1006.5" fill="none" stroke="#fff" stroke-width="1.2" stroke-linejoin="round"/>
<polyline points="1501.1,1006.5 1513.0,1013.8 1521.7,1020.6" fill="none" stroke="#fff" stroke-width="1.2" stroke-linejoin="round"/>
<polyline points="1501.1,1006.5 1493.9,1012.8 1485.3,1021.6" fill="none" stroke="#fff" stroke-width="1.2" stroke-linejoin="round"/>
<polyline points="1485.3,1021.6 1496.0,1031.9 1505.8,1038.4" fill="none" stroke="#fff" stroke-width="1.2" stroke-linejoin="round"/>
<polyline points="1485.3,1021.6 1479.8,1031.8 1473.7,1038.4" fill="none" stroke="#fff" stroke-width="1.2" stroke-linejoin="round"/>
<polyline points="1473.7,1038.4 1465.9,1047.5 1457.2,1057.4" fill="none" stroke="#fff" stroke-width="1.2" stroke-linejoin="round"/>
<polyline points="1457.2,1057.4 1464.2,1066.6 1473.1,1073.2" fill="none" stroke="#fff" stroke-width="1.2" stroke-linejoin="round"/>
<polyline points="1438.1,1075.6 1447.2,1080.8 1453.1,1089.7" fill="none" stroke="#fff" stroke-width="1.2" stroke-linejoin="round"/>
<polyline points="1438.1,1075.6 1431.5,1079.3 1424.9,1084.6" fill="none" stroke="#fff" stroke-width="1.2" stroke-linejoin="round"/>
<polyline points="1424.9,1084.6 1435.8,1094.7 1442.8,1107.5" fill="none" stroke="#fff" stroke-width="1.2" stroke-linejoin="round"/>
<polyline points="1424.9,1084.6 1413.9,1095.5 1405.1,1104.9" fill="none" stroke="#fff" stroke-width="1.2" stroke-linejoin="round"/>
<polyline points="1405.1,1104.9 1412.4,1110.8 1423.8,1116.3" fill="none" stroke="#fff" stroke-width="1.2" stroke-linejoin="round"/>
<polyline points="1405.1,1104.9 1397.1,1111.3 1391.2,1117.8" fill="none" stroke="#fff" stroke-width="1.2" stroke-linejoin="round"/>
<polyline points="1391.2,1117.8 1401.8,1127.9 1412.0,1137.1" fill="none" stroke="#fff" stroke-width="1.2" stroke-linejoin="round"/>
<polyline points="1391.2,1117.8 1385.0,1131.1 1376.1,1140.8" fill="none" stroke="#fff" stroke-width="1.2" stroke-linejoin="round"/>
<polyline points="1376.1,1140.8 1383.3,1149.6 1391.8,1155.4" fill="none" stroke="#fff" stroke-width="1.2" stroke-linejoin="round"/>
<polyline points="1376.1,1140.8 1366.9,1149.0 1355.9,1155.7" fill="none" stroke="#fff" stroke-width="1.2" stroke-linejoin="round"/>
<polyline points="1355.9,1155.7 1365.8,1164.5 1372.0,1170.7" fill="none" stroke="#fff" stroke-width="1.2" stroke-linejoin="round"/>
<polyline points="1355.9,1155.7 1348.6,1162.9 1340.3,1170.1" fill="none" stroke="#fff" stroke-width="1.2" stroke-linejoin="round"/>
<polyline points="1340.3,1170.1 1348.5,1175.0 1357.8,1181.6" fill="none" stroke="#fff" stroke-width="1.2" stroke-linejoin="round"/>
<polyline points="1633.6,907.8 1624.8,918.0 1618.1,930.2" fill="none" stroke="#fff" stroke-width="1.2" stroke-linejoin="round"/>
<polyline points="1618.1,930.2 1626.9,936.6 1638.3,942.8" fill="none" stroke="#fff" stroke-width="1.2" stroke-linejoin="round"/>
<polyline points="1618.1,930.2 1609.9,935.3 1605.2,943.9" fill="none" stroke="#fff" stroke-width="1.2" stroke-linejoin="round"/>
<polyline points="1605.2,943.9 1613.0,947.5 1619.2,954.1" fill="none" stroke="#fff" stroke-width="1.2" stroke-linejoin="round"/>
<polyline points="1605.2,943.9 1597.5,950.9 1587.7,958.1" fill="none" stroke="#fff" stroke-width="1.2" stroke-linejoin="round"/>
<polyline points="1587.7,958.1 1597.0,968.2 1603.5,975.4" fill="none" stroke="#fff" stroke-width="1.2" stroke-linejoin="round"/>
<polyline points="1587.7,958.1 1576.8,965.5 1567.9,972.9" fill="none" stroke="#fff" stroke-width="1.2" stroke-linejoin="round"/>
<polyline points="1567.9,972.9 1561.6,983.0 1553.6,995.1" fill="none" stroke="#fff" stroke-width="1.2" stroke-linejoin="round"/>
<polyline points="1553.6,995.1 1560.6,1002.8 1569.0,1011.8" fill="none" stroke="#fff" stroke-width="1.2" stroke-linejoin="round"/>
<polyline points="1521.7,1020.6 1530.1,1030.1 1539.0,1038.0" fill="none" stroke="#fff" stroke-width="1.2" stroke-linejoin="round"/>
<polyline points="1521.7,1020.6 1515.1,1030.7 1505.8,1038.4" fill="none" stroke="#fff" stroke-width="1.2" stroke-linejoin="round"/>
<polyline points="1505.8,1038.4 1511.7,1046.6 1518.5,1053.3" fill="none" stroke="#fff" stroke-width="1.2" stroke-linejoin="round"/>
<polyline points="1505.8,1038.4 1495.4,1044.4 1487.4,1054.2" fill="none" stroke="#fff" stroke-width="1.2" stroke-linejoin="round"/>
<polyline points="1487.4,1054.2 1499.4,1064.9 1507.9,1071.9" fill="none" stroke="#fff" stroke-width="1.2" stroke-linejoin="round"/>
<polyline points="1487.4,1054.2 1481.0,1063.4 1473.1,1073.2" fill="none" stroke="#fff" stroke-width="1.2" stroke-linejoin="round"/>
<polyline points="1473.1,1073.2 1480.2,1081.7 1488.2,1086.6" fill="none" stroke="#fff" stroke-width="1.2" stroke-linejoin="round"/>
<polyline points="1453.1,1089.7 1464.1,1096.4 1473.3,1106.3" fill="none" stroke="#fff" stroke-width="1.2" stroke-linejoin="round"/>
<polyline points="1453.1,1089.7 1447.1,1099.5 1442.8,1107.5" fill="none" stroke="#fff" stroke-width="1.2" stroke-linejoin="round"/>
<polyline points="1442.8,1107.5 1432.6,1110.0 1423.8,1116.3" fill="none" stroke="#fff" stroke-width="1.2" stroke-linejoin="round"/>
<polyline points="1423.8,1116.3 1430.6,1126.9 1437.5,1138.6" fill="none" stroke="#fff" stroke-width="1.2" stroke-linejoin="round"/>
<polyline points="1423.8,1116.3 1419.1,1128.0 1412.0,1137.1" fill="none" stroke="#fff" stroke-width="1.2" stroke-linejoin="round"/>
<polyline points="1412.0,1137.1 1419.6,1145.9 1428.2,1153.8" fill="none" stroke="#fff" stroke-width="1.2" stroke-linejoin="round"/>
<polyline points="1391.8,1155.4 1382.7,1163.2 1372.0,1170.7" fill="none" stroke="#fff" stroke-width="1.2" stroke-linejoin="round"/>
<polyline points="1372.0,1170.7 1363.6,1174.6 1357.8,1181.6" fill="none" stroke="#fff" stroke-width="1.2" stroke-linejoin="round"/>
<polyline points="1653.6,923.2 1660.0,931.1 1666.4,942.1" fill="none" stroke="#fff" stroke-width="1.2" stroke-linejoin="round"/>
<polyline points="1653.6,923.2 1644.0,933.3 1638.3,942.8" fill="none" stroke="#fff" stroke-width="1.2" stroke-linejoin="round"/>
<polyline points="1638.3,942.8 1645.5,951.7 1651.7,962.5" fill="none" stroke="#fff" stroke-width="1.2" stroke-linejoin="round"/>
<polyline points="1638.3,942.8 1628.7,947.9 1619.2,954.1" fill="none" stroke="#fff" stroke-width="1.2" stroke-linejoin="round"/>
<polyline points="1619.2,954.1 1626.6,963.9 1637.7,977.3" fill="none" stroke="#fff" stroke-width="1.2" stroke-linejoin="round"/>
<polyline points="1603.5,975.4 1610.6,981.6 1621.2,990.4" fill="none" stroke="#fff" stroke-width="1.2" stroke-linejoin="round"/>
<polyline points="1603.5,975.4 1596.7,982.9 1586.0,992.8" fill="none" stroke="#fff" stroke-width="1.2" stroke-linejoin="round"/>
<polyline points="1586.0,992.8 1577.2,1003.5 1569.0,1011.8" fill="none" stroke="#fff" stroke-width="1.2" stroke-linejoin="round"/>
<polyline points="1569.0,1011.8 1575.6,1019.0 1585.7,1025.8" fill="none" stroke="#fff" stroke-width="1.2" stroke-linejoin="round"/>
<polyline points="1569.0,1011.8 1563.2,1016.6 1556.4,1023.1" fill="none" stroke="#fff" stroke-width="1.2" stroke-linejoin="round"/>
<polyline points="1539.0,1038.0 1530.1,1046.6 1518.5,1053.3" fill="none" stroke="#fff" stroke-width="1.2" stroke-linejoin="round"/>
<polyline points="1518.5,1053.3 1525.3,1062.5 1535.9,1074.4" fill="none" stroke="#fff" stroke-width="1.2" stroke-linejoin="round"/>
<polyline points="1518.5,1053.3 1511.5,1062.1 1507.9,1071.9" fill="none" stroke="#fff" stroke-width="1.2" stroke-linejoin="round"/>
<polyline points="1507.9,1071.9 1498.1,1077.3 1488.2,1086.6" fill="none" stroke="#fff" stroke-width="1.2" stroke-linejoin="round"/>
<polyline points="1488.2,1086.6 1499.8,1094.5 1507.7,1106.2" fill="none" stroke="#fff" stroke-width="1.2" stroke-linejoin="round"/>
<polyline points="1488.2,1086.6 1482.0,1097.6 1473.3,1106.3" fill="none" stroke="#fff" stroke-width="1.2" stroke-linejoin="round"/>
<polyline points="1473.3,1106.3 1465.5,1116.2 1455.2,1123.4" fill="none" stroke="#fff" stroke-width="1.2" stroke-linejoin="round"/>
<polyline points="1437.5,1138.6 1449.9,1144.5 1458.6,1151.1" fill="none" stroke="#fff" stroke-width="1.2" stroke-linejoin="round"/>
<polyline points="1437.5,1138.6 1431.8,1147.9 1428.2,1153.8" fill="none" stroke="#fff" stroke-width="1.2" stroke-linejoin="round"/>
<polyline points="1428.2,1153.8 1436.4,1160.5 1444.0,1169.4" fill="none" stroke="#fff" stroke-width="1.2" stroke-linejoin="round"/>
<polyline points="1428.2,1153.8 1417.8,1164.4 1408.4,1173.8" fill="none" stroke="#fff" stroke-width="1.2" stroke-linejoin="round"/>
<polyline points="1408.4,1173.8 1399.4,1178.3 1389.2,1184.0" fill="none" stroke="#fff" stroke-width="1.2" stroke-linejoin="round"/>
<polyline points="1389.2,1184.0 1398.6,1193.0 1404.7,1203.3" fill="none" stroke="#fff" stroke-width="1.2" stroke-linejoin="round"/>
<polyline points="1389.2,1184.0 1380.5,1195.8 1373.1,1205.7" fill="none" stroke="#fff" stroke-width="1.2" stroke-linejoin="round"/>
<polyline points="1373.1,1205.7 1383.0,1210.5 1390.9,1214.9" fill="none" stroke="#fff" stroke-width="1.2" stroke-linejoin="round"/>
<polyline points="1666.4,942.1 1673.2,949.5 1682.6,960.0" fill="none" stroke="#fff" stroke-width="1.2" stroke-linejoin="round"/>
<polyline points="1666.4,942.1 1658.4,952.0 1651.7,962.5" fill="none" stroke="#fff" stroke-width="1.2" stroke-linejoin="round"/>
<polyline points="1651.7,962.5 1660.0,969.8 1668.3,977.9" fill="none" stroke="#fff" stroke-width="1.2" stroke-linejoin="round"/>
<polyline points="1651.7,962.5 1644.8,971.7 1637.7,977.3" fill="none" stroke="#fff" stroke-width="1.2" stroke-linejoin="round"/>
<polyline points="1637.7,977.3 1647.2,984.8 1653.8,993.7" fill="none" stroke="#fff" stroke-width="1.2" stroke-linejoin="round"/>
<polyline points="1621.2,990.4 1632.5,998.8 1639.8,1007.7" fill="none" stroke="#fff" stroke-width="1.2" stroke-linejoin="round"/>
<polyline points="1601.9,1010.5 1609.0,1017.2 1617.0,1022.3" fill="none" stroke="#fff" stroke-width="1.2" stroke-linejoin="round"/>
<polyline points="1601.9,1010.5 1592.9,1018.9 1585.7,1025.8" fill="none" stroke="#fff" stroke-width="1.2" stroke-linejoin="round"/>
<polyline points="1585.7,1025.8 1574.6,1032.6 1566.0,1040.6" fill="none" stroke="#fff" stroke-width="1.2" stroke-linejoin="round"/>
<polyline points="1566.0,1040.6 1560.4,1050.7 1553.6,1061.7" fill="none" stroke="#fff" stroke-width="1.2" stroke-linejoin="round"/>
<polyline points="1553.6,1061.7 1561.4,1068.7 1571.5,1074.8" fill="none" stroke="#fff" stroke-width="1.2" stroke-linejoin="round"/>
<polyline points="1535.9,1074.4 1526.9,1082.5 1517.8,1090.1" fill="none" stroke="#fff" stroke-width="1.2" stroke-linejoin="round"/>
<polyline points="1517.8,1090.1 1528.8,1100.4 1537.1,1109.3" fill="none" stroke="#fff" stroke-width="1.2" stroke-linejoin="round"/>
<polyline points="1517.8,1090.1 1513.4,1097.8 1507.7,1106.2" fill="none" stroke="#fff" stroke-width="1.2" stroke-linejoin="round"/>
<polyline points="1507.7,1106.2 1511.5,1114.3 1517.5,1121.7" fill="none" stroke="#fff" stroke-width="1.2" stroke-linejoin="round"/>
<polyline points="1507.7,1106.2 1497.2,1110.5 1486.5,1118.6" fill="none" stroke="#fff" stroke-width="1.2" stroke-linejoin="round"/>
<polyline points="1486.5,1118.6 1496.7,1129.9 1507.4,1140.4" fill="none" stroke="#fff" stroke-width="1.2" stroke-linejoin="round"/>
<polyline points="1486.5,1118.6 1480.5,1127.6 1471.1,1139.4" fill="none" stroke="#fff" stroke-width="1.2" stroke-linejoin="round"/>
<polyline points="1471.1,1139.4 1482.9,1146.9 1490.7,1152.6" fill="none" stroke="#fff" stroke-width="1.2" stroke-linejoin="round"/>
<polyline points="1471.1,1139.4 1465.8,1147.2 1458.6,1151.1" fill="none" stroke="#fff" stroke-width="1.2" stroke-linejoin="round"/>
<polyline points="1458.6,1151.1 1467.0,1159.2 1472.5,1170.3" fill="none" stroke="#fff" stroke-width="1.2" stroke-linejoin="round"/>
<polyline points="1444.0,1169.4 1450.6,1178.2 1459.3,1184.3" fill="none" stroke="#fff" stroke-width="1.2" stroke-linejoin="round"/>
<polyline points="1444.0,1169.4 1437.3,1179.1 1427.1,1186.2" fill="none" stroke="#fff" stroke-width="1.2" stroke-linejoin="round"/>
<polyline points="1427.1,1186.2 1417.9,1193.0 1404.7,1203.3" fill="none" stroke="#fff" stroke-width="1.2" stroke-linejoin="round"/>
<polyline points="1404.7,1203.3 1396.8,1210.3 1390.9,1214.9" fill="none" stroke="#fff" stroke-width="1.2" stroke-linejoin="round"/>
<polyline points="1390.9,1214.9 1399.5,1226.6 1407.7,1235.5" fill="none" stroke="#fff" stroke-width="1.2" stroke-linejoin="round"/>
<polyline points="1682.6,960.0 1692.2,967.4 1703.5,973.6" fill="none" stroke="#fff" stroke-width="1.2" stroke-linejoin="round"/>
<polyline points="1682.6,960.0 1675.7,970.1 1668.3,977.9" fill="none" stroke="#fff" stroke-width="1.2" stroke-linejoin="round"/>
<polyline points="1668.3,977.9 1675.4,985.6 1684.4,990.9" fill="none" stroke="#fff" stroke-width="1.2" stroke-linejoin="round"/>
<polyline points="1653.8,993.7 1648.4,1001.9 1639.8,1007.7" fill="none" stroke="#fff" stroke-width="1.2" stroke-linejoin="round"/>
<polyline points="1639.8,1007.7 1644.4,1013.4 1650.1,1022.3" fill="none" stroke="#fff" stroke-width="1.2" stroke-linejoin="round"/>
<polyline points="1639.8,1007.7 1627.8,1016.5 1617.0,1022.3" fill="none" stroke="#fff" stroke-width="1.2" stroke-linejoin="round"/>
<polyline points="1617.0,1022.3 1607.2,1030.8 1599.9,1040.1" fill="none" stroke="#fff" stroke-width="1.2" stroke-linejoin="round"/>
<polyline points="1599.9,1040.1 1595.0,1046.9 1586.8,1057.2" fill="none" stroke="#fff" stroke-width="1.2" stroke-linejoin="round"/>
<polyline points="1586.8,1057.2 1579.7,1067.5 1571.5,1074.8" fill="none" stroke="#fff" stroke-width="1.2" stroke-linejoin="round"/>
<polyline points="1571.5,1074.8 1563.0,1080.7 1553.2,1087.1" fill="none" stroke="#fff" stroke-width="1.2" stroke-linejoin="round"/>
<polyline points="1553.2,1087.1 1563.2,1095.5 1574.4,1105.4" fill="none" stroke="#fff" stroke-width="1.2" stroke-linejoin="round"/>
<polyline points="1553.2,1087.1 1544.3,1098.6 1537.1,1109.3" fill="none" stroke="#fff" stroke-width="1.2" stroke-linejoin="round"/>
<polyline points="1537.1,1109.3 1546.2,1113.2 1557.9,1120.2" fill="none" stroke="#fff" stroke-width="1.2" stroke-linejoin="round"/>
<polyline points="1537.1,1109.3 1527.1,1114.0 1517.5,1121.7" fill="none" stroke="#fff" stroke-width="1.2" stroke-linejoin="round"/>
<polyline points="1517.5,1121.7 1529.1,1128.4 1537.2,1134.3" fill="none" stroke="#fff" stroke-width="1.2" stroke-linejoin="round"/>
<polyline points="1517.5,1121.7 1511.2,1133.0 1507.4,1140.4" fill="none" stroke="#fff" stroke-width="1.2" stroke-linejoin="round"/>
<polyline points="1507.4,1140.4 1516.2,1146.6 1523.2,1153.9" fill="none" stroke="#fff" stroke-width="1.2" stroke-linejoin="round"/>
<polyline points="1507.4,1140.4 1498.6,1145.1 1490.7,1152.6" fill="none" stroke="#fff" stroke-width="1.2" stroke-linejoin="round"/>
<polyline points="1490.7,1152.6 1496.7,1162.5 1503.3,1170.0" fill="none" stroke="#fff" stroke-width="1.2" stroke-linejoin="round"/>
<polyline points="1490.7,1152.6 1481.4,1161.5 1472.5,1170.3" fill="none" stroke="#fff" stroke-width="1.2" stroke-linejoin="round"/>
<polyline points="1472.5,1170.3 1466.7,1176.3 1459.3,1184.3" fill="none" stroke="#fff" stroke-width="1.2" stroke-linejoin="round"/>
<polyline points="1459.3,1184.3 1463.9,1193.9 1470.1,1200.6" fill="none" stroke="#fff" stroke-width="1.2" stroke-linejoin="round"/>
<polyline points="1459.3,1184.3 1452.3,1195.5 1442.3,1205.4" fill="none" stroke="#fff" stroke-width="1.2" stroke-linejoin="round"/>
<polyline points="1442.3,1205.4 1451.1,1210.1 1456.3,1215.8" fill="none" stroke="#fff" stroke-width="1.2" stroke-linejoin="round"/>
<polyline points="1421.3,1220.0 1430.6,1225.8 1440.3,1235.0" fill="none" stroke="#fff" stroke-width="1.2" stroke-linejoin="round"/>
<polyline points="1421.3,1220.0 1413.6,1227.5 1407.7,1235.5" fill="none" stroke="#fff" stroke-width="1.2" stroke-linejoin="round"/>
<polyline points="1703.5,973.6 1711.7,982.2 1718.4,989.5" fill="none" stroke="#fff" stroke-width="1.2" stroke-linejoin="round"/>
<polyline points="1703.5,973.6 1693.6,980.8 1684.4,990.9" fill="none" stroke="#fff" stroke-width="1.2" stroke-linejoin="round"/>
<polyline points="1684.4,990.9 1675.7,1001.1 1667.7,1012.5" fill="none" stroke="#fff" stroke-width="1.2" stroke-linejoin="round"/>
<polyline points="1650.1,1022.3 1659.6,1030.8 1668.8,1042.6" fill="none" stroke="#fff" stroke-width="1.2" stroke-linejoin="round"/>
<polyline points="1633.2,1037.5 1643.4,1046.6 1654.7,1056.8" fill="none" stroke="#fff" stroke-width="1.2" stroke-linejoin="round"/>
<polyline points="1618.2,1060.3 1625.8,1069.6 1634.6,1075.6" fill="none" stroke="#fff" stroke-width="1.2" stroke-linejoin="round"/>
<polyline points="1603.3,1071.4 1613.2,1080.6 1622.0,1090.0" fill="none" stroke="#fff" stroke-width="1.2" stroke-linejoin="round"/>
<polyline points="1603.3,1071.4 1593.4,1078.8 1583.7,1087.7" fill="none" stroke="#fff" stroke-width="1.2" stroke-linejoin="round"/>
<polyline points="1583.7,1087.7 1591.8,1098.9 1599.0,1106.4" fill="none" stroke="#fff" stroke-width="1.2" stroke-linejoin="round"/>
<polyline points="1574.4,1105.4 1567.5,1113.4 1557.9,1120.2" fill="none" stroke="#fff" stroke-width="1.2" stroke-linejoin="round"/>
<polyline points="1557.9,1120.2 1568.0,1127.2 1574.2,1137.7" fill="none" stroke="#fff" stroke-width="1.2" stroke-linejoin="round"/>
<polyline points="1557.9,1120.2 1547.1,1127.9 1537.2,1134.3" fill="none" stroke="#fff" stroke-width="1.2" stroke-linejoin="round"/>
<polyline points="1537.2,1134.3 1546.0,1142.8 1550.9,1153.7" fill="none" stroke="#fff" stroke-width="1.2" stroke-linejoin="round"/>
<polyline points="1537.2,1134.3 1528.7,1143.7 1523.2,1153.9" fill="none" stroke="#fff" stroke-width="1.2" stroke-linejoin="round"/>
<polyline points="1523.2,1153.9 1511.9,1162.5 1503.3,1170.0" fill="none" stroke="#fff" stroke-width="1.2" stroke-linejoin="round"/>
<polyline points="1503.3,1170.0 1514.4,1177.9 1523.4,1187.8" fill="none" stroke="#fff" stroke-width="1.2" stroke-linejoin="round"/>
<polyline points="1470.1,1200.6 1478.4,1208.0 1487.0,1219.4" fill="none" stroke="#fff" stroke-width="1.2" stroke-linejoin="round"/>
<polyline points="1440.3,1235.0 1446.9,1245.0 1454.8,1254.8" fill="none" stroke="#fff" stroke-width="1.2" stroke-linejoin="round"/>
<polyline points="1440.3,1235.0 1430.3,1243.8 1423.3,1250.2" fill="none" stroke="#fff" stroke-width="1.2" stroke-linejoin="round"/>
<polyline points="1423.3,1250.2 1434.0,1257.7 1444.6,1268.2" fill="none" stroke="#fff" stroke-width="1.2" stroke-linejoin="round"/>
<polyline points="1718.4,989.5 1723.2,997.6 1731.1,1009.0" fill="none" stroke="#fff" stroke-width="1.2" stroke-linejoin="round"/>
<polyline points="1718.4,989.5 1707.1,999.1 1697.6,1006.5" fill="none" stroke="#fff" stroke-width="1.2" stroke-linejoin="round"/>
<polyline points="1697.6,1006.5 1706.1,1013.9 1715.2,1024.8" fill="none" stroke="#fff" stroke-width="1.2" stroke-linejoin="round"/>
<polyline points="1697.6,1006.5 1690.8,1015.8 1684.4,1024.7" fill="none" stroke="#fff" stroke-width="1.2" stroke-linejoin="round"/>
<polyline points="1684.4,1024.7 1693.9,1028.7 1700.7,1035.8" fill="none" stroke="#fff" stroke-width="1.2" stroke-linejoin="round"/>
<polyline points="1668.8,1042.6 1678.4,1047.1 1684.1,1051.4" fill="none" stroke="#fff" stroke-width="1.2" stroke-linejoin="round"/>
<polyline points="1668.8,1042.6 1662.2,1051.1 1654.7,1056.8" fill="none" stroke="#fff" stroke-width="1.2" stroke-linejoin="round"/>
<polyline points="1654.7,1056.8 1642.7,1064.8 1634.6,1075.6" fill="none" stroke="#fff" stroke-width="1.2" stroke-linejoin="round"/>
<polyline points="1622.0,1090.0 1627.0,1095.9 1634.8,1101.6" fill="none" stroke="#fff" stroke-width="1.2" stroke-linejoin="round"/>
<polyline points="1622.0,1090.0 1608.9,1097.4 1599.0,1106.4" fill="none" stroke="#fff" stroke-width="1.2" stroke-linejoin="round"/>
<polyline points="1599.0,1106.4 1591.8,1112.7 1581.7,1122.5" fill="none" stroke="#fff" stroke-width="1.2" stroke-linejoin="round"/>
<polyline points="1581.7,1122.5 1592.7,1129.2 1607.1,1137.7" fill="none" stroke="#fff" stroke-width="1.2" stroke-linejoin="round"/>
<polyline points="1581.7,1122.5 1579.6,1129.4 1574.2,1137.7" fill="none" stroke="#fff" stroke-width="1.2" stroke-linejoin="round"/>
<polyline points="1574.2,1137.7 1578.3,1147.4 1581.1,1153.9" fill="none" stroke="#fff" stroke-width="1.2" stroke-linejoin="round"/>
<polyline points="1550.9,1153.7 1559.5,1164.1 1568.2,1171.4" fill="none" stroke="#fff" stroke-width="1.2" stroke-linejoin="round"/>
<polyline points="1550.9,1153.7 1543.8,1161.0 1538.3,1166.5" fill="none" stroke="#fff" stroke-width="1.2" stroke-linejoin="round"/>
<polyline points="1538.3,1166.5 1545.0,1175.6 1552.8,1185.2" fill="none" stroke="#fff" stroke-width="1.2" stroke-linejoin="round"/>
<polyline points="1538.3,1166.5 1530.3,1176.9 1523.4,1187.8" fill="none" stroke="#fff" stroke-width="1.2" stroke-linejoin="round"/>
<polyline points="1523.4,1187.8 1528.8,1196.4 1537.8,1202.3" fill="none" stroke="#fff" stroke-width="1.2" stroke-linejoin="round"/>
<polyline points="1523.4,1187.8 1516.1,1195.2 1508.6,1202.2" fill="none" stroke="#fff" stroke-width="1.2" stroke-linejoin="round"/>
<polyline points="1508.6,1202.2 1515.4,1207.8 1524.4,1216.7" fill="none" stroke="#fff" stroke-width="1.2" stroke-linejoin="round"/>
<polyline points="1508.6,1202.2 1497.0,1210.7 1487.0,1219.4" fill="none" stroke="#fff" stroke-width="1.2" stroke-linejoin="round"/>
<polyline points="1487.0,1219.4 1496.5,1228.8 1504.0,1238.2" fill="none" stroke="#fff" stroke-width="1.2" stroke-linejoin="round"/>
<polyline points="1487.0,1219.4 1478.8,1226.9 1471.3,1230.7" fill="none" stroke="#fff" stroke-width="1.2" stroke-linejoin="round"/>
<polyline points="1471.3,1230.7 1479.5,1241.9 1487.0,1249.4" fill="none" stroke="#fff" stroke-width="1.2" stroke-linejoin="round"/>
<polyline points="1471.3,1230.7 1463.4,1242.2 1454.8,1254.8" fill="none" stroke="#fff" stroke-width="1.2" stroke-linejoin="round"/>
<polyline points="1454.8,1254.8 1464.9,1262.0 1474.2,1268.5" fill="none" stroke="#fff" stroke-width="1.2" stroke-linejoin="round"/>
<polyline points="1454.8,1254.8 1449.7,1261.5 1444.6,1268.2" fill="none" stroke="#fff" stroke-width="1.2" stroke-linejoin="round"/>
<polyline points="1731.1,1009.0 1739.7,1014.0 1751.6,1021.1" fill="none" stroke="#fff" stroke-width="1.2" stroke-linejoin="round"/>
<polyline points="1731.1,1009.0 1724.3,1016.6 1715.2,1024.8" fill="none" stroke="#fff" stroke-width="1.2" stroke-linejoin="round"/>
<polyline points="1715.2,1024.8 1707.1,1031.0 1700.7,1035.8" fill="none" stroke="#fff" stroke-width="1.2" stroke-linejoin="round"/>
<polyline points="1700.7,1035.8 1710.0,1049.0 1715.4,1059.5" fill="none" stroke="#fff" stroke-width="1.2" stroke-linejoin="round"/>
<polyline points="1700.7,1035.8 1691.7,1044.9 1684.1,1051.4" fill="none" stroke="#fff" stroke-width="1.2" stroke-linejoin="round"/>
<polyline points="1684.1,1051.4 1674.1,1063.2 1667.7,1072.9" fill="none" stroke="#fff" stroke-width="1.2" stroke-linejoin="round"/>
<polyline points="1667.7,1072.9 1676.5,1081.3 1684.3,1089.4" fill="none" stroke="#fff" stroke-width="1.2" stroke-linejoin="round"/>
<polyline points="1653.6,1087.2 1659.1,1100.1 1668.5,1109.5" fill="none" stroke="#fff" stroke-width="1.2" stroke-linejoin="round"/>
<polyline points="1634.8,1101.6 1639.2,1112.9 1647.5,1122.3" fill="none" stroke="#fff" stroke-width="1.2" stroke-linejoin="round"/>
<polyline points="1634.8,1101.6 1627.1,1115.7 1617.8,1126.0" fill="none" stroke="#fff" stroke-width="1.2" stroke-linejoin="round"/>
<polyline points="1617.8,1126.0 1613.6,1131.6 1607.1,1137.7" fill="none" stroke="#fff" stroke-width="1.2" stroke-linejoin="round"/>
<polyline points="1607.1,1137.7 1593.9,1145.6 1581.1,1153.9" fill="none" stroke="#fff" stroke-width="1.2" stroke-linejoin="round"/>
<polyline points="1581.1,1153.9 1591.1,1165.1 1602.5,1174.5" fill="none" stroke="#fff" stroke-width="1.2" stroke-linejoin="round"/>
<polyline points="1581.1,1153.9 1573.1,1164.0 1568.2,1171.4" fill="none" stroke="#fff" stroke-width="1.2" stroke-linejoin="round"/>
<polyline points="1568.2,1171.4 1577.2,1178.6 1585.7,1189.0" fill="none" stroke="#fff" stroke-width="1.2" stroke-linejoin="round"/>
<polyline points="1568.2,1171.4 1559.7,1180.1 1552.8,1185.2" fill="none" stroke="#fff" stroke-width="1.2" stroke-linejoin="round"/>
<polyline points="1552.8,1185.2 1564.1,1193.2 1571.9,1203.6" fill="none" stroke="#fff" stroke-width="1.2" stroke-linejoin="round"/>
<polyline points="1552.8,1185.2 1545.5,1195.1 1537.8,1202.3" fill="none" stroke="#fff" stroke-width="1.2" stroke-linejoin="round"/>
<polyline points="1537.8,1202.3 1549.1,1209.9 1557.3,1217.7" fill="none" stroke="#fff" stroke-width="1.2" stroke-linejoin="round"/>
<polyline points="1537.8,1202.3 1530.9,1209.0 1524.4,1216.7" fill="none" stroke="#fff" stroke-width="1.2" stroke-linejoin="round"/>
<polyline points="1524.4,1216.7 1532.2,1225.4 1536.6,1234.1" fill="none" stroke="#fff" stroke-width="1.2" stroke-linejoin="round"/>
<polyline points="1524.4,1216.7 1513.8,1228.6 1504.0,1238.2" fill="none" stroke="#fff" stroke-width="1.2" stroke-linejoin="round"/>
<polyline points="1504.0,1238.2 1512.6,1241.7 1519.2,1247.8" fill="none" stroke="#fff" stroke-width="1.2" stroke-linejoin="round"/>
<polyline points="1504.0,1238.2 1494.3,1243.2 1487.0,1249.4" fill="none" stroke="#fff" stroke-width="1.2" stroke-linejoin="round"/>
<polyline points="1487.0,1249.4 1495.4,1259.6 1504.9,1269.2" fill="none" stroke="#fff" stroke-width="1.2" stroke-linejoin="round"/>
<polyline points="1487.0,1249.4 1480.2,1259.2 1474.2,1268.5" fill="none" stroke="#fff" stroke-width="1.2" stroke-linejoin="round"/>
<polyline points="1474.2,1268.5 1465.5,1274.3 1456.2,1280.3" fill="none" stroke="#fff" stroke-width="1.2" stroke-linejoin="round"/>
<polyline points="1751.6,1021.1 1759.4,1030.1 1765.6,1041.3" fill="none" stroke="#fff" stroke-width="1.2" stroke-linejoin="round"/>
<polyline points="1751.6,1021.1 1743.2,1032.8 1733.0,1043.9" fill="none" stroke="#fff" stroke-width="1.2" stroke-linejoin="round"/>
<polyline points="1733.0,1043.9 1739.6,1051.2 1749.6,1055.8" fill="none" stroke="#fff" stroke-width="1.2" stroke-linejoin="round"/>
<polyline points="1733.0,1043.9 1725.1,1051.4 1715.4,1059.5" fill="none" stroke="#fff" stroke-width="1.2" stroke-linejoin="round"/>
<polyline points="1715.4,1059.5 1725.2,1069.7 1734.5,1076.2" fill="none" stroke="#fff" stroke-width="1.2" stroke-linejoin="round"/>
<polyline points="1701.3,1072.7 1708.5,1081.0 1715.9,1091.4" fill="none" stroke="#fff" stroke-width="1.2" stroke-linejoin="round"/>
<polyline points="1684.3,1089.4 1694.1,1098.6 1705.4,1105.1" fill="none" stroke="#fff" stroke-width="1.2" stroke-linejoin="round"/>
<polyline points="1684.3,1089.4 1677.2,1099.7 1668.5,1109.5" fill="none" stroke="#fff" stroke-width="1.2" stroke-linejoin="round"/>
<polyline points="1668.5,1109.5 1675.1,1115.0 1683.0,1123.3" fill="none" stroke="#fff" stroke-width="1.2" stroke-linejoin="round"/>
<polyline points="1634.8,1140.5 1643.7,1143.9 1650.4,1149.6" fill="none" stroke="#fff" stroke-width="1.2" stroke-linejoin="round"/>
<polyline points="1634.8,1140.5 1628.0,1148.3 1621.0,1155.1" fill="none" stroke="#fff" stroke-width="1.2" stroke-linejoin="round"/>
<polyline points="1621.0,1155.1 1629.8,1161.4 1636.5,1167.1" fill="none" stroke="#fff" stroke-width="1.2" stroke-linejoin="round"/>
<polyline points="1602.5,1174.5 1593.6,1183.5 1585.7,1189.0" fill="none" stroke="#fff" stroke-width="1.2" stroke-linejoin="round"/>
<polyline points="1585.7,1189.0 1593.4,1197.4 1602.7,1203.0" fill="none" stroke="#fff" stroke-width="1.2" stroke-linejoin="round"/>
<polyline points="1571.9,1203.6 1579.2,1210.8 1588.4,1221.9" fill="none" stroke="#fff" stroke-width="1.2" stroke-linejoin="round"/>
<polyline points="1571.9,1203.6 1563.6,1209.8 1557.3,1217.7" fill="none" stroke="#fff" stroke-width="1.2" stroke-linejoin="round"/>
<polyline points="1557.3,1217.7 1563.1,1228.2 1571.9,1238.7" fill="none" stroke="#fff" stroke-width="1.2" stroke-linejoin="round"/>
<polyline points="1557.3,1217.7 1546.1,1225.0 1536.6,1234.1" fill="none" stroke="#fff" stroke-width="1.2" stroke-linejoin="round"/>
<polyline points="1536.6,1234.1 1548.7,1241.1 1557.8,1250.8" fill="none" stroke="#fff" stroke-width="1.2" stroke-linejoin="round"/>
<polyline points="1519.2,1247.8 1512.2,1259.4 1504.9,1269.2" fill="none" stroke="#fff" stroke-width="1.2" stroke-linejoin="round"/>
<polyline points="1504.9,1269.2 1511.1,1278.2 1516.1,1283.8" fill="none" stroke="#fff" stroke-width="1.2" stroke-linejoin="round"/>
<polyline points="1484.5,1285.0 1492.0,1293.3 1503.1,1298.1" fill="none" stroke="#fff" stroke-width="1.2" stroke-linejoin="round"/>
<polyline points="1484.5,1285.0 1480.5,1291.5 1474.2,1300.2" fill="none" stroke="#fff" stroke-width="1.2" stroke-linejoin="round"/>
<polyline points="1474.2,1300.2 1479.9,1308.3 1486.7,1314.6" fill="none" stroke="#fff" stroke-width="1.2" stroke-linejoin="round"/>
<polyline points="1765.6,1041.3 1757.8,1048.0 1749.6,1055.8" fill="none" stroke="#fff" stroke-width="1.2" stroke-linejoin="round"/>
<polyline points="1749.6,1055.8 1760.6,1063.7 1768.0,1074.6" fill="none" stroke="#fff" stroke-width="1.2" stroke-linejoin="round"/>
<polyline points="1734.5,1076.2 1739.8,1084.4 1748.4,1089.5" fill="none" stroke="#fff" stroke-width="1.2" stroke-linejoin="round"/>
<polyline points="1734.5,1076.2 1725.5,1082.3 1715.9,1091.4" fill="none" stroke="#fff" stroke-width="1.2" stroke-linejoin="round"/>
<polyline points="1715.9,1091.4 1712.2,1096.5 1705.4,1105.1" fill="none" stroke="#fff" stroke-width="1.2" stroke-linejoin="round"/>
<polyline points="1705.4,1105.1 1709.4,1111.9 1716.8,1122.5" fill="none" stroke="#fff" stroke-width="1.2" stroke-linejoin="round"/>
<polyline points="1705.4,1105.1 1696.2,1114.9 1683.0,1123.3" fill="none" stroke="#fff" stroke-width="1.2" stroke-linejoin="round"/>
<polyline points="1666.7,1135.6 1674.3,1142.9 1685.3,1149.9" fill="none" stroke="#fff" stroke-width="1.2" stroke-linejoin="round"/>
<polyline points="1666.7,1135.6 1658.6,1142.0 1650.4,1149.6" fill="none" stroke="#fff" stroke-width="1.2" stroke-linejoin="round"/>
<polyline points="1650.4,1149.6 1658.3,1158.6 1668.6,1166.1" fill="none" stroke="#fff" stroke-width="1.2" stroke-linejoin="round"/>
<polyline points="1650.4,1149.6 1643.4,1156.7 1636.5,1167.1" fill="none" stroke="#fff" stroke-width="1.2" stroke-linejoin="round"/>
<polyline points="1636.5,1167.1 1642.4,1178.4 1647.8,1185.9" fill="none" stroke="#fff" stroke-width="1.2" stroke-linejoin="round"/>
<polyline points="1636.5,1167.1 1624.3,1176.4 1615.0,1187.3" fill="none" stroke="#fff" stroke-width="1.2" stroke-linejoin="round"/>
<polyline points="1615.0,1187.3 1624.3,1197.5 1632.1,1204.3" fill="none" stroke="#fff" stroke-width="1.2" stroke-linejoin="round"/>
<polyline points="1571.9,1238.7 1576.6,1245.4 1581.4,1251.3" fill="none" stroke="#fff" stroke-width="1.2" stroke-linejoin="round"/>
<polyline points="1571.9,1238.7 1565.3,1245.2 1557.8,1250.8" fill="none" stroke="#fff" stroke-width="1.2" stroke-linejoin="round"/>
<polyline points="1557.8,1250.8 1547.2,1262.1 1536.5,1269.7" fill="none" stroke="#fff" stroke-width="1.2" stroke-linejoin="round"/>
<polyline points="1536.5,1269.7 1545.5,1278.9 1557.8,1285.2" fill="none" stroke="#fff" stroke-width="1.2" stroke-linejoin="round"/>
<polyline points="1516.1,1283.8 1523.7,1294.6 1535.0,1302.8" fill="none" stroke="#fff" stroke-width="1.2" stroke-linejoin="round"/>
<polyline points="1516.1,1283.8 1509.7,1291.3 1503.1,1298.1" fill="none" stroke="#fff" stroke-width="1.2" stroke-linejoin="round"/>
<polyline points="1486.7,1314.6 1494.5,1327.1 1505.8,1337.2" fill="none" stroke="#fff" stroke-width="1.2" stroke-linejoin="round"/>
<polyline points="1768.0,1074.6 1774.5,1081.3 1782.3,1089.2" fill="none" stroke="#fff" stroke-width="1.2" stroke-linejoin="round"/>
<polyline points="1768.0,1074.6 1759.3,1081.1 1748.4,1089.5" fill="none" stroke="#fff" stroke-width="1.2" stroke-linejoin="round"/>
<polyline points="1748.4,1089.5 1757.3,1094.5 1765.9,1100.8" fill="none" stroke="#fff" stroke-width="1.2" stroke-linejoin="round"/>
<polyline points="1748.4,1089.5 1740.5,1095.2 1733.0,1103.1" fill="none" stroke="#fff" stroke-width="1.2" stroke-linejoin="round"/>
<polyline points="1733.0,1103.1 1723.5,1111.8 1716.8,1122.5" fill="none" stroke="#fff" stroke-width="1.2" stroke-linejoin="round"/>
<polyline points="1716.8,1122.5 1725.2,1129.7 1731.3,1138.2" fill="none" stroke="#fff" stroke-width="1.2" stroke-linejoin="round"/>
<polyline points="1716.8,1122.5 1707.8,1129.1 1697.6,1137.6" fill="none" stroke="#fff" stroke-width="1.2" stroke-linejoin="round"/>
<polyline points="1697.6,1137.6 1706.5,1146.4 1717.4,1152.2" fill="none" stroke="#fff" stroke-width="1.2" stroke-linejoin="round"/>
<polyline points="1697.6,1137.6 1690.4,1143.0 1685.3,1149.9" fill="none" stroke="#fff" stroke-width="1.2" stroke-linejoin="round"/>
<polyline points="1685.3,1149.9 1694.0,1160.7 1700.9,1170.1" fill="none" stroke="#fff" stroke-width="1.2" stroke-linejoin="round"/>
<polyline points="1668.6,1166.1 1675.2,1178.2 1685.1,1188.1" fill="none" stroke="#fff" stroke-width="1.2" stroke-linejoin="round"/>
<polyline points="1668.6,1166.1 1657.1,1175.6 1647.8,1185.9" fill="none" stroke="#fff" stroke-width="1.2" stroke-linejoin="round"/>
<polyline points="1647.8,1185.9 1639.4,1196.7 1632.1,1204.3" fill="none" stroke="#fff" stroke-width="1.2" stroke-linejoin="round"/>
<polyline points="1632.1,1204.3 1625.9,1212.2 1622.6,1217.8" fill="none" stroke="#fff" stroke-width="1.2" stroke-linejoin="round"/>
<polyline points="1622.6,1217.8 1613.8,1228.6 1602.7,1240.4" fill="none" stroke="#fff" stroke-width="1.2" stroke-linejoin="round"/>
<polyline points="1602.7,1240.4 1611.5,1248.1 1619.6,1253.7" fill="none" stroke="#fff" stroke-width="1.2" stroke-linejoin="round"/>
<polyline points="1602.7,1240.4 1593.3,1243.9 1581.4,1251.3" fill="none" stroke="#fff" stroke-width="1.2" stroke-linejoin="round"/>
<polyline points="1581.4,1251.3 1591.7,1256.7 1602.9,1265.6" fill="none" stroke="#fff" stroke-width="1.2" stroke-linejoin="round"/>
<polyline points="1569.6,1267.2 1577.1,1277.8 1586.8,1285.4" fill="none" stroke="#fff" stroke-width="1.2" stroke-linejoin="round"/>
<polyline points="1557.8,1285.2 1548.1,1292.6 1535.0,1302.8" fill="none" stroke="#fff" stroke-width="1.2" stroke-linejoin="round"/>
<polyline points="1535.0,1302.8 1547.7,1308.3 1556.8,1316.2" fill="none" stroke="#fff" stroke-width="1.2" stroke-linejoin="round"/>
<polyline points="1535.0,1302.8 1529.5,1311.7 1522.5,1317.6" fill="none" stroke="#fff" stroke-width="1.2" stroke-linejoin="round"/>
<polyline points="1505.8,1337.2 1513.0,1343.9 1521.3,1353.5" fill="none" stroke="#fff" stroke-width="1.2" stroke-linejoin="round"/>
<polyline points="1800.3,1070.9 1808.8,1075.6 1813.7,1083.7" fill="none" stroke="#fff" stroke-width="1.2" stroke-linejoin="round"/>
<polyline points="1800.3,1070.9 1790.7,1078.3 1782.3,1089.2" fill="none" stroke="#fff" stroke-width="1.2" stroke-linejoin="round"/>
<polyline points="1782.3,1089.2 1788.2,1094.8 1796.7,1103.3" fill="none" stroke="#fff" stroke-width="1.2" stroke-linejoin="round"/>
<polyline points="1782.3,1089.2 1774.3,1095.3 1765.9,1100.8" fill="none" stroke="#fff" stroke-width="1.2" stroke-linejoin="round"/>
<polyline points="1765.9,1100.8 1760.3,1108.4 1751.1,1119.4" fill="none" stroke="#fff" stroke-width="1.2" stroke-linejoin="round"/>
<polyline points="1751.1,1119.4 1757.7,1126.6 1767.7,1135.4" fill="none" stroke="#fff" stroke-width="1.2" stroke-linejoin="round"/>
<polyline points="1731.3,1138.2 1722.9,1144.5 1717.4,1152.2" fill="none" stroke="#fff" stroke-width="1.2" stroke-linejoin="round"/>
<polyline points="1717.4,1152.2 1723.9,1162.9 1732.1,1171.1" fill="none" stroke="#fff" stroke-width="1.2" stroke-linejoin="round"/>
<polyline points="1700.9,1170.1 1708.7,1179.2 1715.7,1185.5" fill="none" stroke="#fff" stroke-width="1.2" stroke-linejoin="round"/>
<polyline points="1700.9,1170.1 1691.8,1180.9 1685.1,1188.1" fill="none" stroke="#fff" stroke-width="1.2" stroke-linejoin="round"/>
<polyline points="1685.1,1188.1 1677.5,1197.7 1667.7,1208.0" fill="none" stroke="#fff" stroke-width="1.2" stroke-linejoin="round"/>
<polyline points="1667.7,1208.0 1674.1,1213.8 1683.2,1222.2" fill="none" stroke="#fff" stroke-width="1.2" stroke-linejoin="round"/>
<polyline points="1654.0,1218.7 1658.7,1223.6 1667.2,1230.6" fill="none" stroke="#fff" stroke-width="1.2" stroke-linejoin="round"/>
<polyline points="1630.5,1235.2 1642.0,1244.4 1652.3,1253.9" fill="none" stroke="#fff" stroke-width="1.2" stroke-linejoin="round"/>
<polyline points="1630.5,1235.2 1623.1,1243.7 1619.6,1253.7" fill="none" stroke="#fff" stroke-width="1.2" stroke-linejoin="round"/>
<polyline points="1619.6,1253.7 1627.9,1261.1 1638.1,1267.6" fill="none" stroke="#fff" stroke-width="1.2" stroke-linejoin="round"/>
<polyline points="1619.6,1253.7 1611.1,1260.2 1602.9,1265.6" fill="none" stroke="#fff" stroke-width="1.2" stroke-linejoin="round"/>
<polyline points="1602.9,1265.6 1610.7,1275.4 1619.6,1282.2" fill="none" stroke="#fff" stroke-width="1.2" stroke-linejoin="round"/>
<polyline points="1602.9,1265.6 1594.5,1275.6 1586.8,1285.4" fill="none" stroke="#fff" stroke-width="1.2" stroke-linejoin="round"/>
<polyline points="1586.8,1285.4 1595.2,1295.0 1604.9,1301.2" fill="none" stroke="#fff" stroke-width="1.2" stroke-linejoin="round"/>
<polyline points="1586.8,1285.4 1580.0,1294.8 1569.7,1301.5" fill="none" stroke="#fff" stroke-width="1.2" stroke-linejoin="round"/>
<polyline points="1569.7,1301.5 1563.3,1310.8 1556.8,1316.2" fill="none" stroke="#fff" stroke-width="1.2" stroke-linejoin="round"/>
<polyline points="1556.8,1316.2 1561.4,1325.0 1568.6,1332.0" fill="none" stroke="#fff" stroke-width="1.2" stroke-linejoin="round"/>
<polyline points="1556.8,1316.2 1545.4,1323.7 1533.2,1334.0" fill="none" stroke="#fff" stroke-width="1.2" stroke-linejoin="round"/>
<polyline points="1533.2,1334.0 1525.7,1344.5 1521.3,1353.5" fill="none" stroke="#fff" stroke-width="1.2" stroke-linejoin="round"/>
<polyline points="1521.3,1353.5 1529.7,1358.8 1537.7,1364.1" fill="none" stroke="#fff" stroke-width="1.2" stroke-linejoin="round"/>
<polyline points="1813.7,1083.7 1804.7,1091.5 1796.7,1103.3" fill="none" stroke="#fff" stroke-width="1.2" stroke-linejoin="round"/>
<polyline points="1796.7,1103.3 1804.3,1110.3 1813.8,1116.6" fill="none" stroke="#fff" stroke-width="1.2" stroke-linejoin="round"/>
<polyline points="1796.7,1103.3 1790.3,1109.9 1784.3,1119.8" fill="none" stroke="#fff" stroke-width="1.2" stroke-linejoin="round"/>
<polyline points="1784.3,1119.8 1791.1,1129.4 1798.0,1137.9" fill="none" stroke="#fff" stroke-width="1.2" stroke-linejoin="round"/>
<polyline points="1767.7,1135.4 1775.4,1142.9 1783.5,1153.8" fill="none" stroke="#fff" stroke-width="1.2" stroke-linejoin="round"/>
<polyline points="1745.5,1152.5 1758.5,1162.1 1769.0,1169.3" fill="none" stroke="#fff" stroke-width="1.2" stroke-linejoin="round"/>
<polyline points="1745.5,1152.5 1740.4,1161.8 1732.1,1171.1" fill="none" stroke="#fff" stroke-width="1.2" stroke-linejoin="round"/>
<polyline points="1732.1,1171.1 1739.4,1180.2 1746.3,1185.7" fill="none" stroke="#fff" stroke-width="1.2" stroke-linejoin="round"/>
<polyline points="1732.1,1171.1 1723.8,1177.5 1715.7,1185.5" fill="none" stroke="#fff" stroke-width="1.2" stroke-linejoin="round"/>
<polyline points="1715.7,1185.5 1706.8,1191.6 1699.2,1200.1" fill="none" stroke="#fff" stroke-width="1.2" stroke-linejoin="round"/>
<polyline points="1699.2,1200.1 1709.2,1211.9 1716.4,1221.3" fill="none" stroke="#fff" stroke-width="1.2" stroke-linejoin="round"/>
<polyline points="1683.2,1222.2 1676.4,1227.2 1667.2,1230.6" fill="none" stroke="#fff" stroke-width="1.2" stroke-linejoin="round"/>
<polyline points="1652.3,1253.9 1661.8,1258.5 1668.9,1264.8" fill="none" stroke="#fff" stroke-width="1.2" stroke-linejoin="round"/>
<polyline points="1652.3,1253.9 1646.9,1258.8 1638.1,1267.6" fill="none" stroke="#fff" stroke-width="1.2" stroke-linejoin="round"/>
<polyline points="1638.1,1267.6 1644.4,1277.7 1652.0,1285.5" fill="none" stroke="#fff" stroke-width="1.2" stroke-linejoin="round"/>
<polyline points="1638.1,1267.6 1630.5,1276.6 1619.6,1282.2" fill="none" stroke="#fff" stroke-width="1.2" stroke-linejoin="round"/>
<polyline points="1619.6,1282.2 1625.5,1294.3 1634.8,1305.1" fill="none" stroke="#fff" stroke-width="1.2" stroke-linejoin="round"/>
<polyline points="1619.6,1282.2 1614.2,1293.2 1604.9,1301.2" fill="none" stroke="#fff" stroke-width="1.2" stroke-linejoin="round"/>
<polyline points="1604.9,1301.2 1611.9,1310.6 1621.4,1318.5" fill="none" stroke="#fff" stroke-width="1.2" stroke-linejoin="round"/>
<polyline points="1584.3,1320.1 1574.9,1327.0 1568.6,1332.0" fill="none" stroke="#fff" stroke-width="1.2" stroke-linejoin="round"/>
<polyline points="1568.6,1332.0 1578.6,1340.8 1585.7,1347.4" fill="none" stroke="#fff" stroke-width="1.2" stroke-linejoin="round"/>
<polyline points="1552.6,1352.8 1546.9,1359.0 1537.7,1364.1" fill="none" stroke="#fff" stroke-width="1.2" stroke-linejoin="round"/>
<polyline points="1537.7,1364.1 1544.9,1371.1 1553.0,1379.3" fill="none" stroke="#fff" stroke-width="1.2" stroke-linejoin="round"/>
<polyline points="1825.7,1104.9 1834.7,1113.5 1846.4,1119.8" fill="none" stroke="#fff" stroke-width="1.2" stroke-linejoin="round"/>
<polyline points="1825.7,1104.9 1820.4,1111.8 1813.8,1116.6" fill="none" stroke="#fff" stroke-width="1.2" stroke-linejoin="round"/>
<polyline points="1813.8,1116.6 1822.0,1125.7 1830.2,1136.4" fill="none" stroke="#fff" stroke-width="1.2" stroke-linejoin="round"/>
<polyline points="1813.8,1116.6 1804.7,1127.8 1798.0,1137.9" fill="none" stroke="#fff" stroke-width="1.2" stroke-linejoin="round"/>
<polyline points="1798.0,1137.9 1806.7,1144.5 1811.8,1152.5" fill="none" stroke="#fff" stroke-width="1.2" stroke-linejoin="round"/>
<polyline points="1783.5,1153.8 1778.1,1162.0 1769.0,1169.3" fill="none" stroke="#fff" stroke-width="1.2" stroke-linejoin="round"/>
<polyline points="1746.3,1185.7 1753.1,1194.1 1761.8,1202.3" fill="none" stroke="#fff" stroke-width="1.2" stroke-linejoin="round"/>
<polyline points="1746.3,1185.7 1736.9,1193.9 1731.3,1199.2" fill="none" stroke="#fff" stroke-width="1.2" stroke-linejoin="round"/>
<polyline points="1731.3,1199.2 1741.6,1210.5 1752.2,1219.8" fill="none" stroke="#fff" stroke-width="1.2" stroke-linejoin="round"/>
<polyline points="1731.3,1199.2 1722.7,1210.5 1716.4,1221.3" fill="none" stroke="#fff" stroke-width="1.2" stroke-linejoin="round"/>
<polyline points="1716.4,1221.3 1722.4,1225.2 1729.7,1232.5" fill="none" stroke="#fff" stroke-width="1.2" stroke-linejoin="round"/>
<polyline points="1716.4,1221.3 1708.0,1226.7 1700.8,1231.9" fill="none" stroke="#fff" stroke-width="1.2" stroke-linejoin="round"/>
<polyline points="1700.8,1231.9 1690.9,1241.5 1681.7,1251.9" fill="none" stroke="#fff" stroke-width="1.2" stroke-linejoin="round"/>
<polyline points="1681.7,1251.9 1691.6,1263.4 1701.8,1271.2" fill="none" stroke="#fff" stroke-width="1.2" stroke-linejoin="round"/>
<polyline points="1681.7,1251.9 1675.0,1259.1 1668.9,1264.8" fill="none" stroke="#fff" stroke-width="1.2" stroke-linejoin="round"/>
<polyline points="1668.9,1264.8 1661.0,1276.9 1652.0,1285.5" fill="none" stroke="#fff" stroke-width="1.2" stroke-linejoin="round"/>
<polyline points="1652.0,1285.5 1643.6,1297.3 1634.8,1305.1" fill="none" stroke="#fff" stroke-width="1.2" stroke-linejoin="round"/>
<polyline points="1634.8,1305.1 1641.8,1309.5 1651.2,1311.8" fill="none" stroke="#fff" stroke-width="1.2" stroke-linejoin="round"/>
<polyline points="1634.8,1305.1 1626.7,1312.0 1621.4,1318.5" fill="none" stroke="#fff" stroke-width="1.2" stroke-linejoin="round"/>
<polyline points="1621.4,1318.5 1628.6,1328.3 1634.0,1336.3" fill="none" stroke="#fff" stroke-width="1.2" stroke-linejoin="round"/>
<polyline points="1621.4,1318.5 1614.4,1326.5 1605.2,1333.4" fill="none" stroke="#fff" stroke-width="1.2" stroke-linejoin="round"/>
<polyline points="1605.2,1333.4 1610.2,1340.1 1615.6,1347.4" fill="none" stroke="#fff" stroke-width="1.2" stroke-linejoin="round"/>
<polyline points="1605.2,1333.4 1595.4,1342.2 1585.7,1347.4" fill="none" stroke="#fff" stroke-width="1.2" stroke-linejoin="round"/>
<polyline points="1585.7,1347.4 1576.2,1357.8 1570.1,1370.0" fill="none" stroke="#fff" stroke-width="1.2" stroke-linejoin="round"/>
<polyline points="1570.1,1370.0 1579.0,1374.0 1588.4,1380.9" fill="none" stroke="#fff" stroke-width="1.2" stroke-linejoin="round"/>
<polyline points="1570.1,1370.0 1561.8,1375.6 1553.0,1379.3" fill="none" stroke="#fff" stroke-width="1.2" stroke-linejoin="round"/>
<polyline points="1553.0,1379.3 1560.5,1389.2 1566.8,1397.7" fill="none" stroke="#fff" stroke-width="1.2" stroke-linejoin="round"/>
<polyline points="1846.4,1119.8 1852.0,1130.3 1861.3,1139.2" fill="none" stroke="#fff" stroke-width="1.2" stroke-linejoin="round"/>
<polyline points="1846.4,1119.8 1836.5,1128.0 1830.2,1136.4" fill="none" stroke="#fff" stroke-width="1.2" stroke-linejoin="round"/>
<polyline points="1830.2,1136.4 1836.7,1143.9 1846.7,1152.3" fill="none" stroke="#fff" stroke-width="1.2" stroke-linejoin="round"/>
<polyline points="1830.2,1136.4 1819.4,1146.2 1811.8,1152.5" fill="none" stroke="#fff" stroke-width="1.2" stroke-linejoin="round"/>
<polyline points="1811.8,1152.5 1805.7,1161.5 1799.0,1172.0" fill="none" stroke="#fff" stroke-width="1.2" stroke-linejoin="round"/>
<polyline points="1799.0,1172.0 1790.2,1179.2 1782.9,1188.6" fill="none" stroke="#fff" stroke-width="1.2" stroke-linejoin="round"/>
<polyline points="1782.9,1188.6 1772.0,1195.0 1761.8,1202.3" fill="none" stroke="#fff" stroke-width="1.2" stroke-linejoin="round"/>
<polyline points="1761.8,1202.3 1758.1,1211.9 1752.2,1219.8" fill="none" stroke="#fff" stroke-width="1.2" stroke-linejoin="round"/>
<polyline points="1752.2,1219.8 1758.5,1228.6 1766.0,1238.0" fill="none" stroke="#fff" stroke-width="1.2" stroke-linejoin="round"/>
<polyline points="1752.2,1219.8 1740.2,1226.7 1729.7,1232.5" fill="none" stroke="#fff" stroke-width="1.2" stroke-linejoin="round"/>
<polyline points="1729.7,1232.5 1738.6,1244.9 1749.1,1255.2" fill="none" stroke="#fff" stroke-width="1.2" stroke-linejoin="round"/>
<polyline points="1729.7,1232.5 1722.8,1243.8 1716.1,1252.1" fill="none" stroke="#fff" stroke-width="1.2" stroke-linejoin="round"/>
<polyline points="1716.1,1252.1 1723.7,1263.5 1732.2,1271.8" fill="none" stroke="#fff" stroke-width="1.2" stroke-linejoin="round"/>
<polyline points="1701.8,1271.2 1695.5,1278.2 1687.9,1283.2" fill="none" stroke="#fff" stroke-width="1.2" stroke-linejoin="round"/>
<polyline points="1687.9,1283.2 1694.3,1294.2 1698.9,1301.5" fill="none" stroke="#fff" stroke-width="1.2" stroke-linejoin="round"/>
<polyline points="1687.9,1283.2 1677.7,1292.4 1666.1,1302.1" fill="none" stroke="#fff" stroke-width="1.2" stroke-linejoin="round"/>
<polyline points="1666.1,1302.1 1674.9,1311.0 1685.9,1317.7" fill="none" stroke="#fff" stroke-width="1.2" stroke-linejoin="round"/>
<polyline points="1666.1,1302.1 1660.6,1306.3 1651.2,1311.8" fill="none" stroke="#fff" stroke-width="1.2" stroke-linejoin="round"/>
<polyline points="1651.2,1311.8 1658.2,1320.7 1669.0,1330.3" fill="none" stroke="#fff" stroke-width="1.2" stroke-linejoin="round"/>
<polyline points="1634.0,1336.3 1642.4,1343.6 1649.8,1353.1" fill="none" stroke="#fff" stroke-width="1.2" stroke-linejoin="round"/>
<polyline points="1634.0,1336.3 1626.8,1340.7 1615.6,1347.4" fill="none" stroke="#fff" stroke-width="1.2" stroke-linejoin="round"/>
<polyline points="1615.6,1347.4 1607.6,1357.3 1599.0,1364.6" fill="none" stroke="#fff" stroke-width="1.2" stroke-linejoin="round"/>
<polyline points="1599.0,1364.6 1594.1,1373.6 1588.4,1380.9" fill="none" stroke="#fff" stroke-width="1.2" stroke-linejoin="round"/>
<polyline points="1566.8,1397.7 1574.8,1404.9 1584.7,1410.5" fill="none" stroke="#fff" stroke-width="1.2" stroke-linejoin="round"/>
<polyline points="1861.3,1139.2 1868.7,1147.8 1875.9,1152.5" fill="none" stroke="#fff" stroke-width="1.2" stroke-linejoin="round"/>
<polyline points="1861.3,1139.2 1855.1,1145.1 1846.7,1152.3" fill="none" stroke="#fff" stroke-width="1.2" stroke-linejoin="round"/>
<polyline points="1831.8,1173.7 1838.2,1178.8 1844.1,1183.7" fill="none" stroke="#fff" stroke-width="1.2" stroke-linejoin="round"/>
<polyline points="1831.8,1173.7 1821.4,1180.6 1813.6,1186.5" fill="none" stroke="#fff" stroke-width="1.2" stroke-linejoin="round"/>
<polyline points="1813.6,1186.5 1804.8,1197.0 1797.7,1205.1" fill="none" stroke="#fff" stroke-width="1.2" stroke-linejoin="round"/>
<polyline points="1797.7,1205.1 1804.1,1210.0 1813.4,1214.1" fill="none" stroke="#fff" stroke-width="1.2" stroke-linejoin="round"/>
<polyline points="1797.7,1205.1 1791.0,1214.9 1784.2,1220.7" fill="none" stroke="#fff" stroke-width="1.2" stroke-linejoin="round"/>
<polyline points="1784.2,1220.7 1792.6,1225.7 1797.4,1231.8" fill="none" stroke="#fff" stroke-width="1.2" stroke-linejoin="round"/>
<polyline points="1766.0,1238.0 1771.5,1245.3 1778.6,1251.2" fill="none" stroke="#fff" stroke-width="1.2" stroke-linejoin="round"/>
<polyline points="1766.0,1238.0 1758.8,1246.1 1749.1,1255.2" fill="none" stroke="#fff" stroke-width="1.2" stroke-linejoin="round"/>
<polyline points="1749.1,1255.2 1757.5,1261.1 1767.2,1266.7" fill="none" stroke="#fff" stroke-width="1.2" stroke-linejoin="round"/>
<polyline points="1749.1,1255.2 1740.1,1264.1 1732.2,1271.8" fill="none" stroke="#fff" stroke-width="1.2" stroke-linejoin="round"/>
<polyline points="1732.2,1271.8 1739.5,1277.8 1748.2,1280.9" fill="none" stroke="#fff" stroke-width="1.2" stroke-linejoin="round"/>
<polyline points="1718.1,1287.3 1722.4,1292.0 1729.2,1299.8" fill="none" stroke="#fff" stroke-width="1.2" stroke-linejoin="round"/>
<polyline points="1718.1,1287.3 1709.7,1295.4 1698.9,1301.5" fill="none" stroke="#fff" stroke-width="1.2" stroke-linejoin="round"/>
<polyline points="1698.9,1301.5 1706.9,1309.4 1714.9,1315.7" fill="none" stroke="#fff" stroke-width="1.2" stroke-linejoin="round"/>
<polyline points="1698.9,1301.5 1693.7,1311.1 1685.9,1317.7" fill="none" stroke="#fff" stroke-width="1.2" stroke-linejoin="round"/>
<polyline points="1685.9,1317.7 1694.7,1326.9 1701.9,1334.4" fill="none" stroke="#fff" stroke-width="1.2" stroke-linejoin="round"/>
<polyline points="1685.9,1317.7 1679.0,1322.9 1669.0,1330.3" fill="none" stroke="#fff" stroke-width="1.2" stroke-linejoin="round"/>
<polyline points="1669.0,1330.3 1673.9,1339.8 1680.2,1349.8" fill="none" stroke="#fff" stroke-width="1.2" stroke-linejoin="round"/>
<polyline points="1649.8,1353.1 1660.7,1361.9 1670.7,1366.7" fill="none" stroke="#fff" stroke-width="1.2" stroke-linejoin="round"/>
<polyline points="1649.8,1353.1 1641.9,1358.4 1636.1,1362.7" fill="none" stroke="#fff" stroke-width="1.2" stroke-linejoin="round"/>
<polyline points="1636.1,1362.7 1644.4,1372.9 1648.9,1384.4" fill="none" stroke="#fff" stroke-width="1.2" stroke-linejoin="round"/>
<polyline points="1636.1,1362.7 1626.5,1372.4 1617.4,1379.4" fill="none" stroke="#fff" stroke-width="1.2" stroke-linejoin="round"/>
<polyline points="1617.4,1379.4 1606.7,1388.8 1598.6,1399.3" fill="none" stroke="#fff" stroke-width="1.2" stroke-linejoin="round"/>
<polyline points="1598.6,1399.3 1605.0,1408.2 1613.6,1414.0" fill="none" stroke="#fff" stroke-width="1.2" stroke-linejoin="round"/>
<polyline points="1584.7,1410.5 1594.2,1419.8 1604.8,1431.4" fill="none" stroke="#fff" stroke-width="1.2" stroke-linejoin="round"/>
<polyline points="1875.9,1152.5 1883.7,1162.2 1895.2,1170.4" fill="none" stroke="#fff" stroke-width="1.2" stroke-linejoin="round"/>
<polyline points="1875.9,1152.5 1872.3,1161.4 1866.0,1169.9" fill="none" stroke="#fff" stroke-width="1.2" stroke-linejoin="round"/>
<polyline points="1866.0,1169.9 1868.8,1177.0 1874.8,1187.9" fill="none" stroke="#fff" stroke-width="1.2" stroke-linejoin="round"/>
<polyline points="1866.0,1169.9 1857.0,1177.2 1844.1,1183.7" fill="none" stroke="#fff" stroke-width="1.2" stroke-linejoin="round"/>
<polyline points="1844.1,1183.7 1834.6,1192.6 1828.3,1205.4" fill="none" stroke="#fff" stroke-width="1.2" stroke-linejoin="round"/>
<polyline points="1828.3,1205.4 1834.7,1209.8 1843.8,1216.0" fill="none" stroke="#fff" stroke-width="1.2" stroke-linejoin="round"/>
<polyline points="1828.3,1205.4 1821.6,1209.0 1813.4,1214.1" fill="none" stroke="#fff" stroke-width="1.2" stroke-linejoin="round"/>
<polyline points="1813.4,1214.1 1819.7,1225.3 1827.7,1236.1" fill="none" stroke="#fff" stroke-width="1.2" stroke-linejoin="round"/>
<polyline points="1813.4,1214.1 1804.9,1221.9 1797.4,1231.8" fill="none" stroke="#fff" stroke-width="1.2" stroke-linejoin="round"/>
<polyline points="1797.4,1231.8 1805.0,1240.6 1814.5,1253.2" fill="none" stroke="#fff" stroke-width="1.2" stroke-linejoin="round"/>
<polyline points="1797.4,1231.8 1788.4,1240.5 1778.6,1251.2" fill="none" stroke="#fff" stroke-width="1.2" stroke-linejoin="round"/>
<polyline points="1778.6,1251.2 1789.5,1257.4 1797.6,1263.8" fill="none" stroke="#fff" stroke-width="1.2" stroke-linejoin="round"/>
<polyline points="1778.6,1251.2 1772.1,1260.5 1767.2,1266.7" fill="none" stroke="#fff" stroke-width="1.2" stroke-linejoin="round"/>
<polyline points="1767.2,1266.7 1758.3,1274.6 1748.2,1280.9" fill="none" stroke="#fff" stroke-width="1.2" stroke-linejoin="round"/>
<polyline points="1748.2,1280.9 1757.3,1291.2 1767.1,1302.4" fill="none" stroke="#fff" stroke-width="1.2" stroke-linejoin="round"/>
<polyline points="1748.2,1280.9 1738.6,1290.5 1729.2,1299.8" fill="none" stroke="#fff" stroke-width="1.2" stroke-linejoin="round"/>
<polyline points="1729.2,1299.8 1739.2,1311.5 1746.8,1320.0" fill="none" stroke="#fff" stroke-width="1.2" stroke-linejoin="round"/>
<polyline points="1729.2,1299.8 1720.2,1307.0 1714.9,1315.7" fill="none" stroke="#fff" stroke-width="1.2" stroke-linejoin="round"/>
<polyline points="1714.9,1315.7 1724.2,1324.1 1731.0,1331.6" fill="none" stroke="#fff" stroke-width="1.2" stroke-linejoin="round"/>
<polyline points="1714.9,1315.7 1707.2,1326.5 1701.9,1334.4" fill="none" stroke="#fff" stroke-width="1.2" stroke-linejoin="round"/>
<polyline points="1701.9,1334.4 1691.8,1343.1 1680.2,1349.8" fill="none" stroke="#fff" stroke-width="1.2" stroke-linejoin="round"/>
<polyline points="1680.2,1349.8 1687.4,1357.3 1695.4,1364.3" fill="none" stroke="#fff" stroke-width="1.2" stroke-linejoin="round"/>
<polyline points="1648.9,1384.4 1641.6,1392.1 1636.4,1396.1" fill="none" stroke="#fff" stroke-width="1.2" stroke-linejoin="round"/>
<polyline points="1636.4,1396.1 1645.6,1403.8 1654.7,1413.0" fill="none" stroke="#fff" stroke-width="1.2" stroke-linejoin="round"/>
<polyline points="1613.6,1414.0 1626.3,1420.3 1635.0,1430.0" fill="none" stroke="#fff" stroke-width="1.2" stroke-linejoin="round"/>
<polyline points="1604.8,1431.4 1611.4,1440.1 1620.8,1449.7" fill="none" stroke="#fff" stroke-width="1.2" stroke-linejoin="round"/>
<polyline points="1895.2,1170.4 1903.3,1179.1 1914.6,1187.3" fill="none" stroke="#fff" stroke-width="1.2" stroke-linejoin="round"/>
<polyline points="1874.8,1187.9 1887.1,1196.2 1897.3,1203.8" fill="none" stroke="#fff" stroke-width="1.2" stroke-linejoin="round"/>
<polyline points="1874.8,1187.9 1868.6,1194.8 1865.0,1202.0" fill="none" stroke="#fff" stroke-width="1.2" stroke-linejoin="round"/>
<polyline points="1865.0,1202.0 1853.3,1208.8 1843.8,1216.0" fill="none" stroke="#fff" stroke-width="1.2" stroke-linejoin="round"/>
<polyline points="1843.8,1216.0 1854.3,1226.0 1866.1,1235.4" fill="none" stroke="#fff" stroke-width="1.2" stroke-linejoin="round"/>
<polyline points="1843.8,1216.0 1833.8,1224.9 1827.7,1236.1" fill="none" stroke="#fff" stroke-width="1.2" stroke-linejoin="round"/>
<polyline points="1827.7,1236.1 1835.9,1242.3 1846.5,1251.8" fill="none" stroke="#fff" stroke-width="1.2" stroke-linejoin="round"/>
<polyline points="1814.5,1253.2 1822.2,1260.7 1826.3,1267.6" fill="none" stroke="#fff" stroke-width="1.2" stroke-linejoin="round"/>
<polyline points="1814.5,1253.2 1806.6,1257.6 1797.6,1263.8" fill="none" stroke="#fff" stroke-width="1.2" stroke-linejoin="round"/>
<polyline points="1781.7,1281.6 1772.5,1293.2 1767.1,1302.4" fill="none" stroke="#fff" stroke-width="1.2" stroke-linejoin="round"/>
<polyline points="1767.1,1302.4 1772.3,1308.1 1779.9,1317.5" fill="none" stroke="#fff" stroke-width="1.2" stroke-linejoin="round"/>
<polyline points="1767.1,1302.4 1756.8,1313.1 1746.8,1320.0" fill="none" stroke="#fff" stroke-width="1.2" stroke-linejoin="round"/>
<polyline points="1746.8,1320.0 1754.0,1327.8 1763.2,1333.0" fill="none" stroke="#fff" stroke-width="1.2" stroke-linejoin="round"/>
<polyline points="1746.8,1320.0 1739.4,1326.3 1731.0,1331.6" fill="none" stroke="#fff" stroke-width="1.2" stroke-linejoin="round"/>
<polyline points="1731.0,1331.6 1722.1,1339.6 1712.8,1348.6" fill="none" stroke="#fff" stroke-width="1.2" stroke-linejoin="round"/>
<polyline points="1712.8,1348.6 1704.9,1355.2 1695.4,1364.3" fill="none" stroke="#fff" stroke-width="1.2" stroke-linejoin="round"/>
<polyline points="1695.4,1364.3 1708.2,1373.2 1717.3,1384.3" fill="none" stroke="#fff" stroke-width="1.2" stroke-linejoin="round"/>
<polyline points="1695.4,1364.3 1691.3,1375.5 1683.9,1385.3" fill="none" stroke="#fff" stroke-width="1.2" stroke-linejoin="round"/>
<polyline points="1683.9,1385.3 1689.7,1388.8 1697.9,1394.3" fill="none" stroke="#fff" stroke-width="1.2" stroke-linejoin="round"/>
<polyline points="1683.9,1385.3 1676.5,1390.5 1666.4,1394.1" fill="none" stroke="#fff" stroke-width="1.2" stroke-linejoin="round"/>
<polyline points="1666.4,1394.1 1661.1,1403.1 1654.7,1413.0" fill="none" stroke="#fff" stroke-width="1.2" stroke-linejoin="round"/>
<polyline points="1654.7,1413.0 1661.4,1420.0 1668.1,1430.4" fill="none" stroke="#fff" stroke-width="1.2" stroke-linejoin="round"/>
<polyline points="1654.7,1413.0 1644.4,1421.6 1635.0,1430.0" fill="none" stroke="#fff" stroke-width="1.2" stroke-linejoin="round"/>
<polyline points="1635.0,1430.0 1638.4,1440.2 1645.7,1446.6" fill="none" stroke="#fff" stroke-width="1.2" stroke-linejoin="round"/>
<polyline points="1635.0,1430.0 1627.2,1438.4 1620.8,1449.7" fill="none" stroke="#fff" stroke-width="1.2" stroke-linejoin="round"/>
<polyline points="1620.8,1449.7 1631.2,1455.0 1638.3,1462.9" fill="none" stroke="#fff" stroke-width="1.2" stroke-linejoin="round"/>
<polyline points="1914.6,1187.3 1922.0,1195.8 1929.5,1202.1" fill="none" stroke="#fff" stroke-width="1.2" stroke-linejoin="round"/>
<polyline points="1914.6,1187.3 1904.9,1194.3 1897.3,1203.8" fill="none" stroke="#fff" stroke-width="1.2" stroke-linejoin="round"/>
<polyline points="1897.3,1203.8 1891.9,1209.5 1883.6,1218.9" fill="none" stroke="#fff" stroke-width="1.2" stroke-linejoin="round"/>
<polyline points="1883.6,1218.9 1889.1,1227.4 1894.9,1233.1" fill="none" stroke="#fff" stroke-width="1.2" stroke-linejoin="round"/>
<polyline points="1883.6,1218.9 1875.8,1228.2 1866.1,1235.4" fill="none" stroke="#fff" stroke-width="1.2" stroke-linejoin="round"/>
<polyline points="1866.1,1235.4 1857.6,1242.2 1846.5,1251.8" fill="none" stroke="#fff" stroke-width="1.2" stroke-linejoin="round"/>
<polyline points="1846.5,1251.8 1852.9,1256.3 1863.0,1264.6" fill="none" stroke="#fff" stroke-width="1.2" stroke-linejoin="round"/>
<polyline points="1826.3,1267.6 1835.8,1274.1 1848.6,1284.3" fill="none" stroke="#fff" stroke-width="1.2" stroke-linejoin="round"/>
<polyline points="1813.8,1281.8 1824.7,1290.6 1832.3,1303.1" fill="none" stroke="#fff" stroke-width="1.2" stroke-linejoin="round"/>
<polyline points="1813.8,1281.8 1804.2,1288.0 1796.3,1296.7" fill="none" stroke="#fff" stroke-width="1.2" stroke-linejoin="round"/>
<polyline points="1796.3,1296.7 1805.0,1307.3 1816.1,1316.8" fill="none" stroke="#fff" stroke-width="1.2" stroke-linejoin="round"/>
<polyline points="1796.3,1296.7 1786.8,1307.3 1779.9,1317.5" fill="none" stroke="#fff" stroke-width="1.2" stroke-linejoin="round"/>
<polyline points="1779.9,1317.5 1789.4,1325.2 1801.7,1332.3" fill="none" stroke="#fff" stroke-width="1.2" stroke-linejoin="round"/>
<polyline points="1779.9,1317.5 1771.1,1325.2 1763.2,1333.0" fill="none" stroke="#fff" stroke-width="1.2" stroke-linejoin="round"/>
<polyline points="1763.2,1333.0 1772.9,1337.6 1781.6,1344.7" fill="none" stroke="#fff" stroke-width="1.2" stroke-linejoin="round"/>
<polyline points="1763.2,1333.0 1753.2,1341.1 1747.2,1346.2" fill="none" stroke="#fff" stroke-width="1.2" stroke-linejoin="round"/>
<polyline points="1747.2,1346.2 1755.6,1357.0 1764.9,1367.5" fill="none" stroke="#fff" stroke-width="1.2" stroke-linejoin="round"/>
<polyline points="1729.7,1367.7 1738.1,1374.3 1747.5,1379.2" fill="none" stroke="#fff" stroke-width="1.2" stroke-linejoin="round"/>
<polyline points="1729.7,1367.7 1724.3,1377.6 1717.3,1384.3" fill="none" stroke="#fff" stroke-width="1.2" stroke-linejoin="round"/>
<polyline points="1717.3,1384.3 1724.7,1391.4 1733.9,1400.2" fill="none" stroke="#fff" stroke-width="1.2" stroke-linejoin="round"/>
<polyline points="1697.9,1394.3 1693.9,1402.8 1686.4,1413.8" fill="none" stroke="#fff" stroke-width="1.2" stroke-linejoin="round"/>
<polyline points="1686.4,1413.8 1694.7,1421.1 1700.2,1426.3" fill="none" stroke="#fff" stroke-width="1.2" stroke-linejoin="round"/>
<polyline points="1686.4,1413.8 1679.2,1423.1 1668.1,1430.4" fill="none" stroke="#fff" stroke-width="1.2" stroke-linejoin="round"/>
<polyline points="1668.1,1430.4 1657.3,1440.4 1645.7,1446.6" fill="none" stroke="#fff" stroke-width="1.2" stroke-linejoin="round"/>
<polyline points="1645.7,1446.6 1643.5,1456.7 1638.3,1462.9" fill="none" stroke="#fff" stroke-width="1.2" stroke-linejoin="round"/>
<polyline points="1929.5,1202.1 1921.9,1208.8 1910.5,1218.4" fill="none" stroke="#fff" stroke-width="1.2" stroke-linejoin="round"/>
<polyline points="1910.5,1218.4 1903.0,1224.3 1894.9,1233.1" fill="none" stroke="#fff" stroke-width="1.2" stroke-linejoin="round"/>
<polyline points="1877.3,1251.8 1870.7,1257.3 1863.0,1264.6" fill="none" stroke="#fff" stroke-width="1.2" stroke-linejoin="round"/>
<polyline points="1863.0,1264.6 1856.2,1273.2 1848.6,1284.3" fill="none" stroke="#fff" stroke-width="1.2" stroke-linejoin="round"/>
<polyline points="1848.6,1284.3 1841.9,1295.6 1832.3,1303.1" fill="none" stroke="#fff" stroke-width="1.2" stroke-linejoin="round"/>
<polyline points="1832.3,1303.1 1823.6,1310.7 1816.1,1316.8" fill="none" stroke="#fff" stroke-width="1.2" stroke-linejoin="round"/>
<polyline points="1816.1,1316.8 1810.3,1323.3 1801.7,1332.3" fill="none" stroke="#fff" stroke-width="1.2" stroke-linejoin="round"/>
<polyline points="1801.7,1332.3 1791.0,1336.5 1781.6,1344.7" fill="none" stroke="#fff" stroke-width="1.2" stroke-linejoin="round"/>
<polyline points="1781.6,1344.7 1771.2,1355.4 1764.9,1367.5" fill="none" stroke="#fff" stroke-width="1.2" stroke-linejoin="round"/>
<polyline points="1764.9,1367.5 1758.2,1373.9 1747.5,1379.2" fill="none" stroke="#fff" stroke-width="1.2" stroke-linejoin="round"/>
<polyline points="1747.5,1379.2 1741.6,1388.6 1733.9,1400.2" fill="none" stroke="#fff" stroke-width="1.2" stroke-linejoin="round"/>
<polyline points="1733.9,1400.2 1725.6,1406.6 1715.5,1410.2" fill="none" stroke="#fff" stroke-width="1.2" stroke-linejoin="round"/>
<polyline points="1700.2,1426.3 1692.2,1434.5 1685.6,1443.6" fill="none" stroke="#fff" stroke-width="1.2" stroke-linejoin="round"/>
<polyline points="1685.6,1443.6 1678.9,1454.1 1670.3,1464.8" fill="none" stroke="#fff" stroke-width="1.2" stroke-linejoin="round"/>
<polyline points="1670.3,1464.8 1659.0,1473.5 1650.4,1480.0" fill="none" stroke="#fff" stroke-width="1.2" stroke-linejoin="round"/>
</g>
</g>
<polygon points="1513.7,1031.0 1997.6,1031.0 1997.6,1212.3 1818.7,1212.3 1818.7,1204.1 1823.2,1195.2 1829.1,1186.3 1832.1,1177.4 1829.1,1171.5 1823.2,1162.6 1812.8,1152.2 1802.4,1144.7 1792.0,1137.3 1783.1,1132.9 1772.7,1126.9 1766.8,1121.0 1763.8,1115.1 1766.1,1109.1 1765.3,1103.2 1769.8,1100.2 1772.7,1091.3 1771.2,1086.9 1752.0,1083.9 1744.5,1077.2 1728.8,1072.4 1727.5,1067.1 1720.9,1065.8 1716.9,1061.8 1712.9,1059.2 1705.0,1057.8 1699.7,1053.9 1693.0,1049.9 1682.4,1041.9 1673.1,1031.3 1675.8,1034.0 1676.4,1038.6 1674.4,1043.2 1668.5,1049.9 1667.5,1057.8 1665.2,1059.8 1655.9,1056.5 1649.3,1053.9 1645.3,1053.9 1642.6,1057.2 1601.5,1104.2 1517.3,1104.2 1517.3,1212.3 1513.7,1212.3" fill="#fff"/>
<g transform="translate(1717.76,1066.04) scale(0.0777)">
<polygon points="398.6,215.4 382.8,195.3 376.9,181.6 371.1,171.9 363.3,164.1 351.6,157.2 341.8,154.3 328.1,153.3 316.4,148.4 312.5,140.6 310.5,130.9 302.7,128.9 293.0,132.8 283.2,126.9 273.4,121.1 259.8,121.1 244.1,127.9 228.5,129.9 216.8,125.0 207.0,115.2 201.2,105.5 195.3,97.7 189.5,96.7 175.8,98.6 166.0,100.6 146.5,100.6 128.9,103.5 117.2,109.4 115.2,113.3 109.4,125.0 111.3,134.8 121.1,140.6 136.7,152.3 148.4,162.1 154.3,171.9 156.3,179.7 154.3,187.5 144.5,190.4 136.7,192.4 134.8,196.0 125.0,191.4 109.4,184.6 101.6,183.6 89.8,184.6 84.0,184.6 80.1,195.3 82.0,197.9 82.6,201.1 83.4,203.5 84.7,205.7 85.0,208.3 85.9,210.7 88.2,212.6 88.0,215.4 89.5,217.8 87.6,220.6 89.4,223.1 89.7,225.6 88.0,228.4 89.6,230.8 89.8,233.4 90.5,236.0 92.7,237.7 93.8,240.1 96.3,241.5 97.0,244.2 97.0,246.8 96.8,249.4 98.0,251.7 97.8,254.3 98.3,256.8 100.2,259.1 98.8,261.9 99.6,264.3 100.7,266.7 100.5,269.3 102.1,271.6 100.3,274.5 101.7,276.8 101.4,279.4 101.3,282.0 102.1,284.4 101.9,287.0 103.7,289.3 103.0,292.0 104.1,294.4 106.2,295.8 107.5,298.4 109.7,299.8 113.0,299.7 115.0,301.4 116.9,303.1 118.5,305.2 118.9,308.0 121.5,309.4 122.5,311.9 124.7,313.6 125.7,316.0 125.4,318.6 125.3,321.3 125.1,323.9 124.2,326.4 123.8,329.0 122.7,331.5 122.9,334.2 122.0,336.7 121.8,339.4 121.2,341.9 122.1,344.7 120.0,346.7 119.2,349.7 116.0,350.9 114.9,353.7 112.0,354.3 109.9,356.1 108.2,358.4 105.8,359.7 104.4,362.3 101.3,362.6 99.5,364.7 97.7,367.0 95.2,368.1 141.1,377.0 140.0,382.4 226.5,400.8 308.8,353.7 314.2,351.9 314.2,344.7 308.8,337.5 294.4,328.6 292.6,325.0 321.4,224.4 323.2,221.9 337.5,219.8 373.4,219.8" fill="#000" stroke="#fff" stroke-width="9" stroke-linejoin="round"/>
<polygon points="398.6,215.4 412.9,211.9 430.9,213.6 441.7,211.9 452.4,213.6 466.8,222.6 481.2,237.0 495.5,258.5 506.3,276.5 423.7,317.8 423.7,323.2 447.0,353.7 445.3,359.1 448.8,373.4 457.8,378.8 457.8,386.0 491.9,391.4 490.1,405.8 480.1,425.1 478.3,430.5 478.3,441.3 477.4,448.5 451.4,441.3 424.4,433.2 419.1,438.6 422.6,446.7 431.6,462.8 435.2,470.0 433.4,476.3 429.8,476.3 422.6,470.0 415.5,472.7 404.7,467.3 393.9,461.9 388.5,457.5 383.1,456.6 378.7,459.3 379.6,463.7 372.4,464.6 369.7,468.2 367.0,479.0 363.4,484.4 354.4,491.6 351.5,493.2 349.0,495.2 346.7,497.5 345.4,500.5 343.8,503.0 343.6,505.9 342.5,508.6 343.0,511.3 342.6,514.0 343.6,516.7 344.1,519.4 342.5,521.5 341.8,523.9 341.7,526.9 343.6,529.3 345.4,532.9 343.3,534.4 341.8,536.5 340.0,538.8 340.0,541.8 339.2,545.4 327.5,526.6 325.7,527.5 304.1,497.9 302.3,498.8 281.7,479.0 281.7,473.6 267.3,457.5 268.2,453.9 252.1,438.6 253.9,433.2 243.1,421.5 234.1,423.3 225.1,412.6 226.5,400.8 308.8,353.7 314.2,351.9 314.2,344.7 308.8,337.5 294.4,328.6 292.6,325.0 321.4,224.4 323.2,221.9 337.5,219.8 373.4,219.8" fill="#000" stroke="#fff" stroke-width="9" stroke-linejoin="round"/>
<polygon points="506.3,276.5 517.1,280.1 538.6,283.7 556.6,287.3 574.5,283.7 590.0,281.1 607.3,274.2 624.5,268.1 641.8,266.4 659.1,269.0 676.3,272.4 693.6,275.9 702.2,278.5 709.1,289.7 714.3,303.5 707.4,302.7 709.1,310.4 707.4,327.7 705.7,346.7 704.0,362.2 700.5,379.5 697.1,391.6 698.8,400.2 704.0,408.8 700.5,415.8 695.3,422.7 690.1,427.8 688.4,433.0 679.8,439.9 683.2,448.6 679.8,455.5 674.6,460.6 667.7,469.3 655.6,469.3 641.8,471.0 628.0,474.5 615.9,472.7 612.4,471.0 607.0,482.0 601.6,495.4 598.0,493.6 583.6,494.0 574.7,490.9 565.7,484.6 554.9,479.3 537.0,472.1 516.0,465.5 477.4,448.5 478.3,441.3 478.3,430.5 480.1,425.1 490.1,405.8 491.9,391.4 457.8,386.0 457.8,378.8 448.8,373.4 445.3,359.1 447.0,353.7 423.7,323.2 423.7,317.8" fill="#000" stroke="#fff" stroke-width="9" stroke-linejoin="round"/>
<polygon points="226.5,400.8 140.0,382.4 141.1,377.0 95.2,368.1 92.7,369.7 90.3,371.3 87.1,371.5 85.1,374.0 82.0,374.3 79.7,375.8 77.7,377.7 75.9,379.8 73.1,380.5 71.5,383.0 68.7,383.7 67.0,386.0 64.2,386.7 63.6,389.7 61.5,391.8 59.2,393.8 59.2,397.2 57.0,399.2 56.5,402.4 54.4,405.0 53.5,408.1 51.6,410.4 51.5,413.4 51.0,416.2 49.9,418.8 49.7,422.6 51.7,425.9 99.8,445.5 90.9,463.4 112.7,480.6 115.8,479.8 127.5,492.3 165.0,531.2 188.2,560.0 201.7,571.7 204.6,571.1 223.4,606.3 234.5,600.4 235.1,595.2 237.4,591.1 237.4,585.8 240.9,584.0 251.5,579.9 261.0,570.6 268.2,559.8 275.4,552.6 292.5,541.8 297.9,533.8 293.4,527.5 300.5,522.1 338.3,572.4 338.6,569.7 338.6,566.9 338.2,564.3 337.4,561.6 338.3,559.4 337.2,557.0 337.7,554.8 338.3,552.6 338.2,550.2 339.4,547.9 339.2,545.4 327.5,526.6 325.7,527.5 304.1,497.9 302.3,498.8 281.7,479.0 281.7,473.6 267.3,457.5 268.2,453.9 252.1,438.6 253.9,433.2 243.1,421.5 234.1,423.3 225.1,412.6" fill="#000" stroke="#fff" stroke-width="9" stroke-linejoin="round"/>
<polygon points="165.0,531.2 163.1,533.6 161.0,536.0 159.7,538.4 158.6,540.9 155.9,542.3 155.0,545.0 153.5,547.4 150.8,548.3 148.2,549.4 147.1,552.3 144.4,553.2 142.2,554.8 140.8,557.4 138.3,558.5 136.0,560.0 135.3,562.4 135.4,565.0 135.0,567.5 135.7,569.9 137.8,571.7 138.8,574.0 140.1,576.2 140.5,578.8 140.8,581.4 142.5,583.3 143.3,585.7 145.1,587.6 146.0,590.0 143.6,590.9 142.0,593.3 139.6,594.2 137.0,594.8 134.8,596.0 132.9,597.8 131.0,599.7 128.6,600.7 126.5,602.1 124.2,603.2 121.5,603.6 119.9,605.9 117.0,606.0 114.8,607.3 113.4,610.1 110.9,610.8 108.6,611.9 106.9,614.0 104.3,614.6 101.6,615.0 100.2,617.7 97.5,618.1 95.8,620.2 93.1,620.7 90.6,621.5 89.1,623.9 87.1,625.6 84.8,626.7 82.2,627.2 80.5,629.4 78.2,630.6 75.6,631.1 73.0,631.7 71.3,633.9 69.0,635.0 102.8,711.2 113.5,721.9 102.8,726.2 124.2,771.2 115.6,773.3 168.8,866.4 182.0,850.3 187.9,835.7 196.7,834.2 211.3,812.2 220.1,803.4 194.8,756.2 207.5,747.5 243.8,725.0 236.2,715.9 257.3,704.1 266.7,706.5 274.9,703.6 283.1,700.6 290.2,696.5 287.8,689.5 293.1,687.1 291.9,683.0 308.9,673.1 312.4,670.7 308.9,663.1 283.7,623.9 278.4,627.4 260.9,598.7 251.5,579.9 240.9,584.0 237.4,585.8 237.4,591.1 235.1,595.2 234.5,600.4 223.4,606.3 204.6,571.1 201.7,571.7 188.2,560.0" fill="#000" stroke="#fff" stroke-width="9" stroke-linejoin="round"/>
<polygon points="339.2,545.4 339.4,547.9 338.2,550.2 338.3,552.6 337.7,554.8 337.2,557.0 338.3,559.4 337.4,561.6 338.2,564.3 338.6,566.9 338.6,569.7 338.3,572.4 300.5,522.1 293.4,527.5 297.9,533.8 292.5,541.8 275.4,552.6 268.2,559.8 261.0,570.6 251.5,579.9 260.9,598.7 278.4,627.4 283.7,623.9 308.9,663.1 330.0,651.4 355.8,698.3 365.2,693.6 379.2,681.9 387.4,670.2 397.4,648.5 400.3,639.7 403.8,632.7 406.2,628.0 404.4,616.2 402.1,611.6 400.3,604.5 423.3,623.3 433.2,618.0 438.6,617.1 443.1,614.4 446.7,613.5 453.9,608.1 428.0,568.8 422.6,566.1 415.5,571.5 404.7,575.1 390.3,553.5 388.5,552.6 354.4,491.6 351.5,493.2 349.0,495.2 346.7,497.5 345.4,500.5 343.8,503.0 343.6,505.9 342.5,508.6 343.0,511.3 342.6,514.0 343.6,516.7 344.1,519.4 342.5,521.5 341.8,523.9 341.7,526.9 343.6,529.3 345.4,532.9 343.3,534.4 341.8,536.5 340.0,538.8 340.0,541.8" fill="#000" stroke="#fff" stroke-width="9" stroke-linejoin="round"/>
<polygon points="354.4,491.6 363.4,484.4 367.0,479.0 369.7,468.2 372.4,464.6 379.6,463.7 378.7,459.3 383.1,456.6 388.5,457.5 393.9,461.9 404.7,467.3 415.5,472.7 422.6,470.0 429.8,476.3 433.4,476.3 435.2,470.0 431.6,462.8 422.6,446.7 419.1,438.6 424.4,433.2 451.4,441.3 477.4,448.5 516.0,465.5 490.9,527.5 487.3,526.6 467.5,538.3 477.4,546.3 469.3,558.0 470.2,560.7 458.6,567.9 474.5,597.7 453.9,608.1 428.0,568.8 422.6,566.1 415.5,571.5 404.7,575.1 390.3,553.5 388.5,552.6" fill="#000" stroke="#fff" stroke-width="9" stroke-linejoin="round"/>
<polygon points="308.9,663.1 312.4,670.7 308.9,673.1 291.9,683.0 293.1,687.1 287.8,689.5 290.2,696.5 283.1,700.6 274.9,703.6 266.7,706.5 257.3,704.1 236.2,715.9 243.8,725.0 207.5,747.5 194.8,756.2 220.1,803.4 255.3,840.1 265.1,837.1 274.7,839.5 280.7,834.7 289.0,827.6 301.0,819.2 305.7,812.0 305.7,807.2 315.3,797.7 327.2,792.9 339.2,791.7 351.1,789.3 364.3,782.2 359.5,778.6 353.5,772.6 355.9,764.2 354.7,749.9 355.9,738.0 366.7,730.8 362.8,720.0 352.3,700.6 355.8,698.3 330.0,651.4" fill="#000" stroke="#fff" stroke-width="9" stroke-linejoin="round"/>
<polygon points="220.1,803.4 211.3,812.2 196.7,834.2 187.9,835.7 182.0,850.3 168.8,866.4 135.2,903.0 272.9,1039.3 259.7,1053.9 309.5,1103.7 372.5,1040.7 412.0,1002.7 362.2,951.4 369.5,942.6 316.8,885.5 305.1,892.8 255.3,840.1" fill="#000" stroke="#fff" stroke-width="9" stroke-linejoin="round"/>
<polygon points="355.8,698.3 352.3,700.6 362.8,720.0 366.7,730.8 355.9,738.0 354.7,749.9 355.9,764.2 353.5,772.6 359.5,778.6 364.3,782.2 375.0,782.2 384.6,783.4 394.1,783.4 396.5,776.2 408.5,772.6 422.8,766.6 437.2,759.5 455.7,749.0 457.5,736.5 463.7,724.8 426.9,686.2 397.4,648.5 387.4,670.2 379.2,681.9 365.2,693.6" fill="#000" stroke="#fff" stroke-width="9" stroke-linejoin="round"/>
<polygon points="397.4,648.5 426.9,686.2 429.6,682.6 437.7,679.0 443.1,675.4 461.0,657.5 459.3,650.3 444.9,641.3 435.9,634.1 423.3,623.3 400.3,604.5 402.1,611.6 404.4,616.2 406.2,628.0 403.8,632.7 400.3,639.7" fill="#000" stroke="#fff" stroke-width="9" stroke-linejoin="round"/>
<polygon points="423.3,623.3 435.9,634.1 444.9,641.3 459.3,650.3 461.0,657.5 474.5,669.1 479.0,665.5 482.6,667.3 509.5,647.6 492.1,624.7 474.5,597.7 453.9,608.1 446.7,613.5 443.1,614.4 438.6,617.1 433.2,618.0" fill="#000" stroke="#fff" stroke-width="9" stroke-linejoin="round"/>
<polygon points="461.0,657.5 443.1,675.4 437.7,679.0 429.6,682.6 426.9,686.2 463.7,724.8 479.0,716.7 486.2,707.7 495.2,700.5 504.1,697.0 509.5,695.2 523.9,683.5 528.4,683.5 534.7,673.6 525.7,662.8 509.5,647.6 482.6,667.3 479.0,665.5 474.5,669.1" fill="#000" stroke="#fff" stroke-width="9" stroke-linejoin="round"/>
<polygon points="516.0,465.5 537.0,472.1 554.9,479.3 565.7,484.6 574.7,490.9 583.6,494.0 598.0,493.6 601.6,495.4 608.8,504.4 615.1,513.4 619.6,517.9 626.7,534.9 630.3,552.9 626.7,556.5 619.6,561.8 619.6,569.0 614.2,574.4 608.8,579.8 605.2,588.8 603.4,599.6 596.2,607.8 570.2,590.6 567.5,593.3 545.9,607.6 542.3,619.3 543.2,626.5 537.9,632.8 541.2,638.0 539.2,650.3 538.3,659.3 536.5,671.8 534.7,673.6 525.7,662.8 509.5,647.6 492.1,624.7 474.5,597.7 458.6,567.9 470.2,560.7 469.3,558.0 477.4,546.3 467.5,538.3 487.3,526.6 490.9,527.5" fill="#000" stroke="#fff" stroke-width="9" stroke-linejoin="round"/>
<polygon points="596.2,607.8 570.2,590.6 567.5,593.3 545.9,607.6 542.3,619.3 543.2,626.5 537.9,632.8 541.2,638.0" fill="#000" stroke="#fff" stroke-width="9" stroke-linejoin="round"/>
<polygon points="541.2,638.0 570.6,670.0 579.5,682.6 584.0,679.0 586.7,682.6 595.7,702.3 585.8,723.9 561.6,719.4 528.4,683.5 534.7,673.6 536.5,671.8 538.3,659.3 539.2,650.3" fill="#000" stroke="#fff" stroke-width="9" stroke-linejoin="round"/>
<polygon points="596.2,607.8 541.2,638.0 570.6,670.0 579.6,662.8 584.9,657.5 617.3,643.1 617.3,635.9 612.8,626.9 606.5,619.8 602.9,610.8" fill="#000" stroke="#fff" stroke-width="9" stroke-linejoin="round"/>
<polygon points="617.3,643.1 584.9,657.5 579.6,662.8 570.6,670.0 579.5,682.6 584.0,679.0 586.7,682.6 595.7,702.3 604.7,687.1 628.9,672.7 624.4,668.2 623.5,662.8 620.0,653.9" fill="#000" stroke="#fff" stroke-width="9" stroke-linejoin="round"/>
<polygon points="509.5,695.2 525.7,716.7 523.9,725.7 523.9,736.5 523.0,749.0 501.4,747.2 484.4,725.7 479.0,716.7 486.2,707.7 495.2,700.5 504.1,697.0" fill="#000" stroke="#fff" stroke-width="9" stroke-linejoin="round"/>
<polygon points="479.0,716.7 463.7,724.8 457.5,736.5 455.7,749.0 491.6,786.7 501.4,747.2 484.4,725.7" fill="#000" stroke="#fff" stroke-width="9" stroke-linejoin="round"/>
<polygon points="501.4,747.2 491.6,786.7 507.7,802.9 547.2,760.7 549.0,758.0 562.5,752.6 554.4,747.2 552.6,743.6 545.4,731.1 541.8,729.3 525.7,716.7 523.9,725.7 523.9,736.5 523.0,749.0" fill="#000" stroke="#fff" stroke-width="9" stroke-linejoin="round"/>
<polygon points="528.4,683.5 523.9,683.5 509.5,695.2 525.7,716.7 541.8,729.3 545.4,731.1 552.6,743.6 554.4,747.2 562.5,752.6 580.4,767.0 581.3,736.5 585.8,723.9 561.6,719.4" fill="#000" stroke="#fff" stroke-width="9" stroke-linejoin="round"/>
<polygon points="628.9,672.7 604.7,687.1 595.7,702.3 585.8,723.9 581.3,736.5 580.4,767.0 621.6,809.7 632.2,798.0 648.0,776.8 653.4,775.9 658.8,777.7 667.7,778.6 674.9,775.0 685.7,770.5 692.9,763.3 701.8,756.2 706.3,755.3 699.4,751.0 692.1,747.9 690.0,743.8 689.0,729.3 689.0,718.9 684.8,713.7 673.4,707.5 666.2,703.5 653.8,695.0 642.4,688.0 633.0,680.0" fill="#000" stroke="#fff" stroke-width="9" stroke-linejoin="round"/>
<polygon points="491.6,786.7 455.7,749.0 437.2,759.5 422.8,766.6 408.5,772.6 396.5,776.2 394.1,783.4 384.6,783.4 375.0,782.2 364.3,782.2 367.9,792.9 384.6,807.2 398.9,821.6 422.8,843.1 435.6,857.5 450.3,845.5 464.6,858.6 480.2,845.5 484.9,849.1 494.5,840.7 486.1,831.1 499.3,820.4 496.9,818.0 508.8,812.0 507.7,802.9" fill="#000" stroke="#fff" stroke-width="9" stroke-linejoin="round"/>
<polygon points="255.3,840.1 265.1,837.1 274.7,839.5 280.7,834.7 289.0,827.6 301.0,819.2 305.7,812.0 305.7,807.2 315.3,797.7 327.2,792.9 339.2,791.7 351.1,789.3 364.3,782.2 367.9,792.9 384.6,807.2 398.9,821.6 422.8,843.1 435.6,857.5 461.0,884.9 445.5,889.7 440.7,893.3 419.2,896.8 432.4,912.4 425.2,918.3 466.5,962.5 445.7,970.4 431.1,985.1 422.3,996.8 404.7,993.9 412.0,1002.7 362.2,951.4 369.5,942.6 316.8,885.5 305.1,892.8" fill="#000" stroke="#fff" stroke-width="9" stroke-linejoin="round"/>
<polygon points="562.5,752.6 549.0,758.0 547.2,760.7 507.7,802.9 508.8,812.0 496.9,818.0 499.3,820.4 486.1,831.1 494.5,840.7 484.9,849.1 480.2,845.5 464.6,858.6 450.3,845.5 435.6,857.5 461.0,884.9 445.5,889.7 440.7,893.3 419.2,896.8 432.4,912.4 425.2,918.3 466.5,962.5 497.0,949.5 497.3,946.9 497.9,944.3 498.9,941.8 498.5,939.1 498.9,936.5 499.3,933.9 501.2,931.6 502.4,928.8 504.6,926.7 506.4,924.3 507.5,922.0 508.7,919.7 508.5,916.9 509.8,914.6 510.3,912.1 512.5,910.2 513.2,907.7 513.0,904.9 515.5,903.2 516.4,900.8 516.8,898.2 517.7,895.8 518.4,893.3 520.4,890.5 523.2,888.5 525.0,886.0 528.0,884.9 529.8,882.5 532.7,881.3 533.0,878.7 533.9,876.4 534.3,873.9 535.8,871.7 536.6,869.3 537.5,867.0 540.0,864.4 542.9,863.7 545.2,861.8 547.8,860.5 549.3,858.3 550.4,855.8 551.7,853.4 552.4,850.7 552.5,848.0 555.6,847.1 558.8,846.4 560.8,844.1 563.4,842.5 564.2,845.9 566.6,848.4 569.6,848.2 572.0,846.4 572.6,843.3 572.0,840.2 574.8,839.6 577.2,837.9 579.8,836.8 582.6,836.3 589.2,834.7 591.6,828.4 595.5,821.0 602.5,826.1 606.4,830.0 607.2,825.3 621.6,809.7 580.4,767.0" fill="#000" stroke="#fff" stroke-width="9" stroke-linejoin="round"/>
<polygon points="658.8,777.7 653.4,775.9 648.0,776.8 632.2,798.0 651.7,832.0 660.5,834.3 672.8,837.0 676.7,841.0 681.4,843.3 688.4,840.2 693.8,839.7 702.7,829.8 676.7,801.9 674.9,798.4 665.0,790.3 665.9,787.6" fill="#000" stroke="#fff" stroke-width="9" stroke-linejoin="round"/>
<polygon points="706.3,755.3 701.8,756.2 692.9,763.3 685.7,770.5 674.9,775.0 667.7,778.6 658.8,777.7 665.9,787.6 665.0,790.3 674.9,798.4 676.7,801.9 702.7,829.8 737.8,795.7 721.6,781.3 710.8,770.5 709.0,763.3" fill="#000" stroke="#fff" stroke-width="9" stroke-linejoin="round"/>
<polygon points="632.2,798.0 621.6,809.7 607.2,825.3 606.4,830.0 602.5,826.1 595.5,821.0 637.2,896.2 652.5,889.0 653.4,883.6 683.9,863.9 685.7,858.5 699.2,852.2 693.8,839.7 688.4,840.2 681.4,843.3 676.7,841.0 672.8,837.0 660.5,834.3 651.7,832.0" fill="#000" stroke="#fff" stroke-width="9" stroke-linejoin="round"/>
<polygon points="702.7,829.8 737.8,795.7 750.3,804.6 768.3,815.4 770.1,817.2 782.6,828.0 788.0,835.2 790.7,842.3 741.3,865.7 722.0,876.0 719.0,887.0 714.4,882.7 699.2,852.2 693.8,839.7" fill="#000" stroke="#fff" stroke-width="9" stroke-linejoin="round"/>
<polygon points="595.5,821.0 591.6,828.4 589.2,834.7 582.6,836.3 579.1,865.2 585.3,880.0 588.8,906.3 591.1,927.8 586.4,949.3 585.2,961.2 591.1,975.6 595.9,981.5 619.8,962.4 645.8,942.0 628.0,903.6 637.2,896.2" fill="#000" stroke="#fff" stroke-width="9" stroke-linejoin="round"/>
<polygon points="497.0,949.5 497.3,946.9 497.9,944.3 498.9,941.8 498.5,939.1 498.9,936.5 499.3,933.9 501.2,931.6 502.4,928.8 504.6,926.7 506.4,924.3 507.5,922.0 508.7,919.7 508.5,916.9 509.8,914.6 510.3,912.1 512.5,910.2 513.2,907.7 513.0,904.9 515.5,903.2 516.4,900.8 516.8,898.2 517.7,895.8 518.4,893.3 520.4,890.5 523.2,888.5 525.0,886.0 528.0,884.9 529.8,882.5 532.7,881.3 533.0,878.7 533.9,876.4 534.3,873.9 535.8,871.7 536.6,869.3 537.5,867.0 540.0,864.4 542.9,863.7 545.2,861.8 547.8,860.5 549.3,858.3 550.4,855.8 551.7,853.4 552.4,850.7 552.5,848.0 555.6,847.1 558.8,846.4 560.8,844.1 563.4,842.5 564.2,845.9 566.6,848.4 569.6,848.2 572.0,846.4 572.6,843.3 572.0,840.2 574.8,839.6 577.2,837.9 579.8,836.8 582.6,836.3 579.1,865.2 585.3,880.0 588.8,906.3 591.1,927.8 586.4,949.3 585.2,961.2 591.1,975.6 595.9,981.5 569.6,1004.2 568.4,1004.2 555.3,1016.2 551.5,1039.0 511.6,1002.7 524.8,989.5 513.1,973.4" fill="#000" stroke="#fff" stroke-width="9" stroke-linejoin="round"/>
<polygon points="699.2,852.2 685.7,858.5 683.9,863.9 653.4,883.6 652.5,889.0 637.2,896.2 628.0,903.6 645.8,942.0 649.7,948.1 657.0,968.6 691.5,951.7 693.9,955.3 710.7,946.7 709.0,939.3 723.4,929.4 709.0,907.9 705.4,904.3 707.2,902.5 701.0,890.8 714.4,882.7" fill="#000" stroke="#fff" stroke-width="9" stroke-linejoin="round"/>
<polygon points="595.9,981.5 619.8,962.4 645.8,942.0 649.7,948.1 657.0,968.6 691.5,951.7 693.9,955.3 710.7,946.7 718.0,962.0 732.3,978.5 707.0,985.1 667.6,1004.2 666.4,1003.0 656.8,1006.6 658.0,1010.2 647.3,1021.0 646.1,1018.6 638.9,1023.4 632.9,1022.2 606.7,1044.9 611.4,999.5" fill="#000" stroke="#fff" stroke-width="9" stroke-linejoin="round"/>
<polygon points="707.0,985.1 732.3,978.5 718.0,962.0 710.7,946.7 709.0,939.3 723.4,929.4 709.0,907.9 705.4,904.3 707.2,902.5 701.0,890.8 714.4,882.7 719.0,887.0 722.0,876.0 741.3,865.7 748.5,874.7 757.5,885.4 768.7,895.4 783.1,900.8 786.7,904.4 795.5,942.5 751.7,985.2 772.5,1006.7 748.8,1030.5 747.6,1034.1 727.3,1049.6 715.4,1021.0 722.5,1016.2" fill="#000" stroke="#fff" stroke-width="9" stroke-linejoin="round"/>
<polygon points="741.3,865.7 790.7,842.3 798.8,847.7 811.4,851.3 823.9,852.2 832.9,854.9 843.7,856.7 854.5,862.1 865.2,869.3 876.0,874.7 888.6,878.3 902.5,881.0 858.5,922.3 817.2,959.2 815.4,961.8 775.9,999.6 777.7,1003.1 772.5,1006.7 751.7,985.2 795.5,942.5 786.7,904.4 783.1,900.8 768.7,895.4 757.5,885.4 748.5,874.7" fill="#000" stroke="#fff" stroke-width="9" stroke-linejoin="round"/>
<polygon points="595.9,981.5 569.6,1004.2 568.4,1004.2 555.3,1016.2 551.5,1039.0 523.0,1071.1 535.0,1084.3 533.8,1150.0 545.7,1165.5 544.5,1170.3 557.7,1183.4 598.8,1219.8 616.4,1205.3 637.5,1183.0 677.0,1147.0 684.5,1153.5 753.4,1087.5 722.5,1056.8 727.3,1049.6 715.4,1021.0 722.5,1016.2 707.0,985.1 667.6,1004.2 666.4,1003.0 656.8,1006.6 658.0,1010.2 647.3,1021.0 646.1,1018.6 638.9,1023.4 632.9,1022.2 606.7,1044.9 611.4,999.5" fill="#000" stroke="#fff" stroke-width="9" stroke-linejoin="round"/>
<polygon points="902.5,881.0 858.5,922.3 909.7,952.9 915.1,958.3 920.4,959.2 926.7,953.8 953.7,978.9 973.4,956.5 989.6,924.1 992.3,921.4 988.7,923.2 977.0,922.0 964.4,922.3 951.9,923.8 944.7,922.3 937.5,917.0 930.3,908.0 923.1,900.8 917.8,893.6 912.4,886.4" fill="#000" stroke="#fff" stroke-width="9" stroke-linejoin="round"/>
<polygon points="992.3,921.4 996.8,931.3 1009.3,943.9 1027.3,956.5 1036.3,965.4 1052.4,981.6 1066.8,992.4 1091.9,1007.6 1063.4,1037.2 1053.3,1027.4 1045.2,1029.2 1032.7,1030.1 1020.1,1022.9 1007.5,1015.7 996.8,1008.5 989.6,1007.6 975.2,1001.3 953.7,978.9 973.4,956.5 989.6,924.1" fill="#000" stroke="#fff" stroke-width="9" stroke-linejoin="round"/>
<polygon points="858.5,922.3 817.2,959.2 815.4,961.8 775.9,999.6 777.7,1003.1 772.5,1006.7 748.8,1030.5 747.6,1034.1 727.3,1049.6 722.5,1056.8 753.4,1087.5 803.9,1026.0 827.5,1051.3 790.4,1089.5 831.3,1129.0 837.1,1127.5 885.9,1180.7 848.8,1217.8 862.5,1231.5 921.1,1176.8 1063.4,1037.2 1053.3,1027.4 1045.2,1029.2 1032.7,1030.1 1020.1,1022.9 1007.5,1015.7 996.8,1008.5 989.6,1007.6 975.2,1001.3 953.7,978.9 926.7,953.8 920.4,959.2 915.1,958.3 909.7,952.9" fill="#000" stroke="#fff" stroke-width="9" stroke-linejoin="round"/>
<polygon points="921.1,1176.8 862.5,1231.5 848.8,1217.8 885.9,1180.7 837.1,1127.5 831.3,1129.0 790.4,1089.5 827.5,1051.3 803.9,1026.0 753.4,1087.5 684.5,1153.5 677.0,1147.0 637.5,1183.0 616.4,1205.3 675.0,1266.6 733.6,1327.2 725.8,1335.0 751.2,1360.4 770.7,1340.9 800.0,1370.2 862.5,1311.6 868.4,1315.5 966.0,1227.6" fill="#000" stroke="#fff" stroke-width="9" stroke-linejoin="round"/>
<polygon points="412.0,1002.7 372.5,1040.7 309.5,1103.7 346.9,1145.5 331.3,1161.2 382.0,1213.9 405.5,1239.3 421.1,1227.6 462.1,1268.6 444.5,1288.1 469.9,1307.7 520.7,1358.4 548.0,1329.1 557.8,1317.4 530.5,1288.1 598.8,1219.8 557.7,1183.4 544.5,1170.3 545.7,1165.5 533.8,1150.0 535.0,1084.3 523.0,1071.1 551.5,1039.0 511.6,1002.7 524.8,989.5 513.1,973.4 497.0,949.5 466.5,962.5 445.7,970.4 431.1,985.1 422.3,996.8 404.7,993.9" fill="#000" stroke="#fff" stroke-width="9" stroke-linejoin="round"/>
</g>
<polyline points="1589.6,1031.0 1543.2,1103.6" fill="none" stroke="#222" stroke-width="1.3"/>
<polyline points="1517.3,1104.2 1601.5,1104.2 1642.6,1057.2 1645.3,1053.9 1649.3,1053.9 1655.9,1056.5 1665.2,1059.8 1667.5,1057.8 1668.5,1049.9 1674.4,1043.2 1676.4,1038.6 1675.8,1034.0 1673.1,1031.3" fill="none" stroke="#333" stroke-width="1.3"/>
<polyline points="1676.4,1038.6 1682.4,1041.9 1693.0,1049.9 1699.7,1053.9 1705.0,1057.8 1712.9,1059.2 1716.9,1061.8 1720.9,1065.8 1727.5,1067.1 1728.8,1072.4" fill="none" stroke="#333" stroke-width="1.3"/>
<polyline points="1517.3,1104.2 1517.3,1212.3" fill="none" stroke="#333" stroke-width="1.3"/>
<polyline points="1513.7,1141.4 1517.3,1141.4" fill="none" stroke="#333" stroke-width="1.2"/>
<polyline points="1829.1,1171.5 1832.1,1177.4 1829.1,1186.3 1823.2,1195.2 1818.7,1204.1 1818.7,1212.3" fill="none" stroke="#444" stroke-width="1"/>
<polyline points="1780.9,1031.2 1774.2,1033.4 1772.7,1043.8 1769.8,1055.7 1768.3,1061.6 1769.8,1070.5 1771.2,1080.9 1777.2,1086.9 1780.9,1094.3 1787.6,1098.7 1793.5,1106.2 1798.0,1115.8 1812.8,1114.3 1833.6,1115.8 1839.5,1121.0 1848.4,1129.9 1866.2,1136.6 1870.7,1143.3 1876.6,1146.2 1881.1,1149.2 1887.0,1146.2 1901.9,1140.3 1921.2,1143.3 1928.6,1149.9 1939.0,1150.7 1940.5,1156.6 1959.8,1148.5 1983.5,1140.3 1988.0,1134.4 1997.6,1129.2" fill="none" stroke="#222" stroke-width="1.4"/>
<rect x="1692.8" y="1040.4" width="142.6" height="143.7" fill="none" stroke="#555" stroke-width="0.9"/>
<rect x="1513.7" y="1031" width="483.9" height="181.3" fill="none" stroke="#8c8c8c" stroke-width="1.1"/>
<text class="ar" x="1751.8" y="1239" font-size="19" fill="#000" text-anchor="middle">Fuente: elaborado a partir de capas ofrecidas por IGN</text>
<text class="ar" x="1469" y="1275.6" font-size="15" letter-spacing="0.245" fill="#111">Fuente de datos y elaboración:</text>
<text class="ar" x="1469" y="1311.2" font-size="15" letter-spacing="0.245" fill="#111">Fuente de datos: Indec, Censo Nacional de Poblaciones, Hogares y Viiviendas</text>
<text class="ar" x="1469" y="1329.0" font-size="15" letter-spacing="0.245" fill="#111">2022</text>
<text class="ar" x="1469" y="1364.7" font-size="15" letter-spacing="0.245" fill="#111">Elaborado por Brian Romero Montaño</text>
<text class="ar" x="1469" y="1400.3" font-size="15" letter-spacing="0.245" fill="#111">Fecha de elaboración Marzo 2026</text>
<text class="ar" x="1469" y="1436.0" font-size="15" letter-spacing="0.245" fill="#111">Mapa base: ARGENMAP</text>
</svg></body></html>
